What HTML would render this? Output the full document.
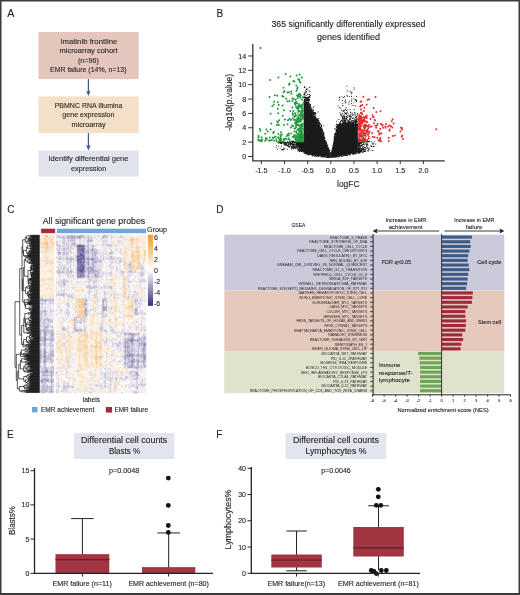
<!DOCTYPE html><html><head><meta charset="utf-8"><style>html,body{margin:0;padding:0;background:#fff;}svg{display:block;will-change:transform;} text{stroke:#231f20;stroke-width:0.12px;}</style></head><body><svg width="520" height="595" viewBox="0 0 520 595" font-family="&quot;Liberation Sans&quot;, sans-serif" fill="#231f20">
<rect width="520" height="595" fill="#fff"/>
<text x="7.20" y="16.70" font-size="10.7">A</text>
<rect x="38.5" y="32" width="100.2" height="47" fill="#e4c6bd"/>
<rect x="38.5" y="96.5" width="100.2" height="36.5" fill="#f4dfc7"/>
<rect x="38.5" y="150.5" width="100.2" height="26" fill="#e2e4ed"/>
<text x="89.00" y="44.23" font-size="7.3" text-anchor="middle" textLength="56.60" lengthAdjust="spacingAndGlyphs" fill="#2b2b2b" style="stroke:#2b2b2b">imatinib frontline</text>
<text x="88.60" y="53.43" font-size="7.3" text-anchor="middle" textLength="58.20" lengthAdjust="spacingAndGlyphs" fill="#2b2b2b" style="stroke:#2b2b2b">microarray cohort</text>
<text x="88.40" y="62.63" font-size="7.3" text-anchor="middle" textLength="20.80" lengthAdjust="spacingAndGlyphs" fill="#2b2b2b" style="stroke:#2b2b2b">(n=96)</text>
<text x="88.25" y="71.93" font-size="7.3" text-anchor="middle" textLength="76.50" lengthAdjust="spacingAndGlyphs" fill="#2b2b2b" style="stroke:#2b2b2b">EMR failure (14%, n=13)</text>
<text x="88.50" y="108.33" font-size="7.3" text-anchor="middle" textLength="67.60" lengthAdjust="spacingAndGlyphs" fill="#2b2b2b" style="stroke:#2b2b2b">PBMNC RNA Illumina</text>
<text x="88.40" y="117.33" font-size="7.3" text-anchor="middle" textLength="52.20" lengthAdjust="spacingAndGlyphs" fill="#2b2b2b" style="stroke:#2b2b2b">gene expression</text>
<text x="88.60" y="126.83" font-size="7.3" text-anchor="middle" textLength="34.20" lengthAdjust="spacingAndGlyphs" fill="#2b2b2b" style="stroke:#2b2b2b">microarray</text>
<text x="88.50" y="161.43" font-size="7.3" text-anchor="middle" textLength="80.00" lengthAdjust="spacingAndGlyphs" fill="#2b2b2b" style="stroke:#2b2b2b">Identify differential gene</text>
<text x="88.60" y="170.63" font-size="7.3" text-anchor="middle" textLength="35.20" lengthAdjust="spacingAndGlyphs" fill="#2b2b2b" style="stroke:#2b2b2b">expression</text>
<line x1="88.4" y1="79" x2="88.4" y2="93.1" stroke="#3d5a87" stroke-width="1.2"/>
<path d="M86.0,90.5 L88.4,91.89999999999999 L90.80000000000001,90.5 L88.4,96.1 Z" fill="#3d5a87"/>
<line x1="88.4" y1="133" x2="88.4" y2="147.4" stroke="#3d5a87" stroke-width="1.2"/>
<path d="M86.0,144.8 L88.4,146.20000000000002 L90.80000000000001,144.8 L88.4,150.4 Z" fill="#3d5a87"/>
<text x="216.50" y="16.50" font-size="10">B</text>
<text x="348.50" y="27.17" font-size="8.8" text-anchor="middle" textLength="154.00" lengthAdjust="spacingAndGlyphs">365 significantly differentially expressed</text>
<text x="348.50" y="39.67" font-size="8.8" text-anchor="middle" textLength="63.00" lengthAdjust="spacingAndGlyphs">genes identified</text>
<path d="M331.3,156.5 L328.0,148.0 L325.5,141.0 L319.0,125.0 L313.0,115.0 L308.0,106.5 L306.0,104.0 L303.6,103.0 L303.6,141.5 L295.0,141.8 L303.6,152.5 L312.0,155.0 L321.0,156.2 L331.3,156.8 Z" fill="#1a1a1a"/>
<path d="M330.8,156.0 L332.5,149.0 L333.7,143.0 L336.5,132.0 L340.0,127.0 L345.0,126.0 L352.0,126.0 L357.9,126.5 L357.9,141.5 L357.9,152.3 L350.0,154.0 L340.0,155.8 L330.8,156.8 Z" fill="#1a1a1a"/>
<path d="M308.9 105.0h0M305.5 103.4h0M303.6 94.8h0M307.5 104.0h0M305.7 100.6h0M308.2 97.9h0M305.4 102.7h0M304.0 102.9h0M307.5 99.3h0M307.9 102.5h0M303.7 102.3h0M305.3 98.9h0M310.6 109.8h0M311.0 107.6h0M309.0 100.9h0M308.1 106.3h0M306.6 103.9h0M306.9 104.4h0M310.5 105.4h0M308.6 103.6h0M309.3 108.1h0M305.6 100.7h0M311.7 109.7h0M306.1 100.1h0M304.7 102.8h0M311.2 109.2h0M305.2 97.5h0M305.1 99.7h0M308.4 104.4h0M305.6 104.1h0M307.5 99.4h0M309.9 109.5h0M303.9 102.9h0M309.1 106.3h0M310.9 110.0h0M309.3 107.7h0M310.0 106.1h0M311.4 112.5h0M310.4 109.6h0M310.4 110.6h0M310.3 107.0h0M305.5 103.0h0M305.1 102.3h0M308.4 105.1h0M311.6 111.4h0M307.9 103.0h0M309.8 108.7h0M311.0 109.9h0M304.2 101.5h0M311.6 111.4h0M309.3 100.7h0M311.8 109.1h0M305.3 102.5h0M311.3 109.7h0M308.7 106.0h0M309.1 108.1h0M307.5 104.7h0M305.1 103.4h0M310.0 106.2h0M304.6 97.0h0M311.0 110.5h0M304.0 102.5h0M305.7 102.1h0M308.4 107.0h0M305.0 100.5h0M306.2 95.5h0M310.4 105.8h0M305.2 97.9h0M310.3 104.7h0M304.0 96.9h0M304.5 99.5h0M306.2 89.3h0M304.7 101.8h0M305.3 99.2h0M308.7 107.5h0M308.9 106.0h0M310.9 108.1h0M303.8 101.9h0M308.3 105.7h0M305.7 100.4h0M304.4 100.1h0M309.2 103.4h0M306.7 100.4h0M305.7 102.4h0M304.3 100.5h0M306.1 104.2h0M304.7 102.7h0M304.3 101.5h0M306.2 100.0h0M305.2 101.8h0M306.8 102.6h0M309.7 96.4h0M309.3 100.4h0M308.0 99.2h0M305.8 98.2h0M311.1 111.2h0M310.3 105.5h0M312.0 110.2h0M310.1 110.0h0M305.1 101.7h0M309.7 106.8h0M307.1 105.6h0M308.2 105.6h0M309.7 107.9h0M311.3 109.8h0M310.0 105.5h0M310.5 95.2h0M304.4 93.5h0M305.1 96.8h0M309.9 108.6h0M305.4 97.7h0M307.6 105.6h0M306.2 97.4h0M304.1 97.6h0M306.9 103.2h0M303.9 98.0h0M305.1 100.0h0M305.1 97.8h0M308.0 105.6h0M308.9 103.4h0M310.2 106.8h0M304.7 103.3h0M311.5 111.2h0M305.3 101.1h0M311.3 111.7h0M308.6 106.7h0M307.5 102.4h0M310.6 104.2h0M310.7 110.2h0M306.1 104.1h0M305.0 101.8h0M306.4 98.7h0M307.9 106.3h0M308.4 100.4h0M310.3 106.5h0M311.6 109.2h0M309.4 104.5h0M309.2 107.3h0M310.1 109.1h0M303.7 97.1h0M307.0 103.3h0M309.7 108.2h0M308.3 99.2h0M307.4 103.1h0M304.2 101.8h0M305.2 97.0h0M307.4 99.0h0M308.2 99.0h0M308.8 102.2h0M309.0 104.9h0M306.9 101.2h0M307.5 99.9h0M306.4 100.7h0M310.7 108.0h0M309.6 108.9h0M310.8 109.7h0M309.2 106.6h0M307.1 104.7h0M306.1 103.2h0M306.6 101.1h0M308.5 103.9h0M306.8 103.8h0M307.7 94.4h0M310.9 110.4h0M305.3 102.4h0M310.6 109.8h0M307.4 98.0h0M305.3 101.9h0M310.1 109.7h0M310.5 107.7h0M309.3 107.0h0M306.8 102.1h0M307.6 100.4h0M305.3 97.4h0M306.2 102.6h0M307.2 97.2h0M305.2 103.1h0M310.1 104.8h0M309.1 107.4h0M309.9 107.8h0M317.3 118.7h0M317.3 121.6h0M313.7 115.4h0M323.5 135.7h0M314.0 114.3h0M317.5 121.4h0M321.5 130.9h0M316.9 119.9h0M313.9 113.3h0M320.0 127.6h0M319.2 123.5h0M323.4 134.7h0M315.8 119.8h0M323.0 134.0h0M318.8 122.2h0M316.0 117.7h0M320.7 128.2h0M322.2 131.1h0M312.9 114.2h0M315.6 119.4h0M315.3 117.3h0M322.2 132.0h0M321.4 128.7h0M321.6 125.7h0M315.2 116.6h0M320.4 128.3h0M313.4 114.6h0M318.6 123.1h0M315.3 118.1h0M315.8 115.3h0M322.3 132.4h0M319.6 122.7h0M320.7 123.8h0M312.3 109.5h0M314.5 112.5h0M317.6 121.5h0M315.5 118.4h0M314.6 116.3h0M312.8 111.2h0M320.9 124.6h0M318.9 123.4h0M313.5 110.7h0M321.7 131.1h0M322.4 131.0h0M318.3 123.3h0M312.9 113.8h0M317.6 122.4h0M315.8 119.1h0M313.8 116.1h0M323.4 134.6h0M315.9 118.2h0M319.1 124.3h0M314.4 116.3h0M314.0 114.8h0M313.6 115.1h0M316.8 120.5h0M318.5 120.9h0M313.3 113.1h0M313.2 114.3h0M322.2 130.4h0M316.0 119.2h0M323.1 134.3h0M317.8 122.5h0M317.3 121.6h0M323.8 125.8h0M321.7 130.5h0M312.2 109.6h0M317.5 121.3h0M314.0 116.2h0M312.6 111.9h0M317.6 121.5h0M315.4 118.5h0M321.1 129.6h0M321.1 129.4h0M323.0 134.7h0M315.0 117.7h0M319.2 121.2h0M320.5 127.6h0M323.7 133.5h0M322.9 133.9h0M316.0 113.5h0M323.0 132.5h0M318.8 123.7h0M320.8 128.2h0M313.9 106.3h0M321.4 126.4h0M315.2 117.8h0M323.3 133.6h0M316.9 118.8h0M317.7 121.3h0M317.2 121.1h0M321.0 129.0h0M321.6 130.1h0M315.3 117.3h0M316.5 120.2h0M314.2 117.0h0M321.1 129.4h0M312.4 112.7h0M315.0 118.2h0M319.1 125.1h0M313.0 107.7h0M315.0 118.5h0M315.4 118.6h0M323.4 135.6h0M319.2 124.6h0M315.9 119.3h0M318.6 123.9h0M316.0 119.2h0M323.1 132.1h0M320.5 128.3h0M323.5 134.9h0M313.1 114.0h0M314.6 117.2h0M319.6 126.0h0M322.8 132.9h0M313.0 114.5h0M318.6 120.6h0M315.1 118.0h0M321.8 128.3h0M312.2 111.1h0M313.5 112.7h0M321.4 130.4h0M312.4 113.4h0M314.9 113.4h0M315.7 117.3h0M317.3 121.5h0M318.0 119.4h0M315.8 119.2h0M318.0 122.8h0M323.9 133.7h0M318.1 123.0h0M323.4 133.3h0M313.8 115.2h0M319.5 122.7h0M314.5 112.5h0M320.4 127.6h0M323.7 132.4h0M317.1 119.7h0M315.0 118.1h0M316.6 120.5h0M319.9 126.5h0M323.5 134.6h0M322.3 132.1h0M315.4 114.8h0M319.2 121.2h0M321.7 129.6h0M316.2 120.0h0M319.5 125.2h0M323.5 134.9h0M321.7 131.2h0M314.4 114.3h0M319.5 123.9h0M318.2 122.3h0M313.5 112.4h0M313.7 115.7h0M313.6 114.5h0M317.1 119.4h0M320.0 125.8h0M317.6 119.5h0M320.6 128.6h0M316.7 120.0h0M320.1 126.3h0M323.9 136.6h0M323.5 135.6h0M314.6 117.2h0M319.1 124.0h0M321.7 127.8h0M313.7 114.9h0M317.1 119.0h0M318.1 122.8h0M321.2 128.0h0M323.9 135.0h0M317.0 120.3h0M319.7 123.7h0M322.5 132.0h0M315.4 116.7h0M320.3 128.0h0M323.4 136.1h0M319.3 125.4h0M312.6 113.2h0M316.4 119.0h0M321.9 129.9h0M318.8 124.5h0M323.5 136.2h0M319.8 126.2h0M315.5 112.6h0M313.4 110.0h0M313.8 113.3h0M318.6 122.5h0M312.7 111.5h0M317.5 120.6h0M322.5 132.4h0M321.4 125.4h0M320.6 128.0h0M315.9 119.1h0M323.2 134.8h0M316.3 119.2h0M318.1 120.7h0M315.5 118.7h0M322.6 129.6h0M317.3 120.1h0M319.0 118.5h0M316.9 120.9h0M320.5 127.5h0M317.8 120.8h0M313.5 110.6h0M322.2 132.3h0M313.0 113.9h0M323.6 135.2h0M313.5 114.3h0M313.5 114.9h0M316.9 120.3h0M321.6 131.1h0M317.9 119.2h0M318.1 111.9h0M318.7 124.4h0M313.0 112.9h0M320.5 128.8h0M322.7 130.2h0M312.0 112.9h0M329.3 151.6h0M330.4 153.4h0M330.0 152.6h0M324.7 137.4h0M326.7 144.5h0M326.0 142.1h0M324.9 138.6h0M324.1 135.1h0M328.7 149.3h0M324.6 138.3h0M327.5 145.7h0M328.3 148.6h0M330.3 153.6h0M324.4 137.6h0M326.9 144.6h0M330.6 153.7h0M324.5 137.7h0M324.1 136.9h0M327.2 145.6h0M330.9 154.2h0M329.0 149.7h0M326.6 143.4h0M325.7 141.4h0M326.1 142.0h0M326.4 143.5h0M326.5 143.0h0M328.6 148.4h0M330.8 153.3h0M328.4 148.4h0M329.0 149.9h0M328.8 149.4h0M329.5 151.7h0M326.3 142.4h0M328.6 148.6h0M327.1 145.6h0M327.2 145.3h0M324.6 137.9h0M330.5 152.9h0M329.4 151.5h0M326.7 144.1h0M327.7 145.4h0M328.7 149.2h0M326.4 142.5h0M327.9 147.8h0M325.5 140.6h0M328.6 148.4h0M324.7 137.7h0M330.2 153.6h0M327.5 146.2h0M325.9 141.9h0M326.5 143.1h0M328.1 147.3h0M329.8 150.4h0M326.0 141.6h0M328.3 147.7h0M329.2 150.5h0M326.6 142.7h0M326.1 142.3h0M328.9 149.9h0M325.6 141.4h0M306.6 89.0h0M306.2 97.9h0M304.8 87.4h0M306.6 89.8h0M308.7 99.1h0M309.6 99.4h0M307.7 89.0h0M308.9 97.6h0M308.4 97.2h0M308.9 90.8h0M307.9 94.3h0M305.8 91.2h0M304.6 93.9h0M306.0 92.7h0M309.1 96.9h0M308.0 101.7h0M305.0 94.1h0M304.2 92.3h0M309.7 87.4h0M308.4 99.8h0M306.9 98.8h0M306.4 91.7h0M306.8 89.1h0M305.6 90.9h0M309.9 91.4h0M305.1 101.0h0M304.5 101.5h0M309.1 96.4h0M306.3 89.2h0M304.3 87.7h0M305.8 92.5h0M309.5 94.6h0M309.9 97.5h0M304.5 94.9h0M304.6 86.6h0M302.2 143.6h0M290.3 145.9h0M291.0 144.4h0M298.6 146.3h0M284.8 142.2h0M297.3 147.9h0M286.8 143.5h0M286.2 144.9h0M280.9 142.5h0M295.6 147.6h0M281.6 142.2h0M303.4 141.9h0M301.7 145.3h0M287.7 145.8h0M287.4 141.5h0M280.7 143.1h0M295.3 144.8h0M294.7 145.1h0M290.5 144.8h0M281.0 141.6h0M283.7 142.9h0M286.9 145.3h0M279.5 142.7h0M292.1 143.3h0M292.3 147.5h0M299.3 141.7h0M300.8 148.5h0M300.1 150.4h0M290.3 144.5h0M299.5 143.1h0M288.4 146.6h0M302.2 149.7h0M295.7 144.6h0M285.8 142.8h0M279.1 142.7h0M300.0 147.2h0M297.7 143.0h0M284.3 142.7h0M280.5 142.4h0M286.1 142.9h0M288.3 144.1h0M291.6 146.3h0M297.5 149.0h0M295.5 142.8h0M296.2 143.7h0M282.0 141.6h0M295.2 147.9h0M299.6 143.5h0M285.6 142.2h0M292.3 146.1h0M292.1 143.2h0M296.4 147.8h0M293.2 144.7h0M291.7 143.2h0M285.5 144.7h0M289.8 144.2h0M284.0 144.8h0M286.2 143.1h0M302.0 146.1h0M288.2 145.0h0M298.2 147.9h0M279.4 142.3h0M296.3 145.4h0M299.7 144.2h0M284.6 143.0h0M295.0 148.3h0M299.6 142.4h0M293.4 145.1h0M298.2 146.2h0M291.0 144.1h0M283.0 142.3h0M281.8 142.8h0M286.7 143.2h0M291.3 147.9h0M300.0 146.1h0M289.2 146.9h0M280.7 142.8h0M293.5 148.5h0M289.1 142.0h0M300.9 145.7h0M301.2 144.0h0M279.8 141.6h0M302.6 145.2h0M284.0 143.2h0M295.9 148.7h0M298.6 149.7h0M301.9 145.4h0M301.2 145.2h0M295.4 146.2h0M287.4 141.7h0M284.4 145.0h0M279.2 142.6h0M299.5 147.5h0M292.7 143.7h0M288.5 143.1h0M300.8 148.9h0M291.1 143.8h0M302.7 148.1h0M302.2 150.6h0M298.8 151.0h0M285.8 142.4h0M281.1 143.1h0M298.1 150.4h0M285.1 144.7h0M301.0 145.1h0M298.2 150.0h0M294.7 145.8h0M293.9 142.3h0M303.4 141.9h0M302.2 142.9h0M299.2 148.6h0M299.3 142.0h0M299.2 150.5h0M300.5 145.8h0M287.2 142.6h0M287.2 145.2h0M289.5 143.1h0M290.6 144.1h0M285.6 144.3h0M291.3 146.5h0M299.1 150.5h0M281.2 143.2h0M301.6 148.1h0M288.6 144.5h0M301.3 149.5h0M301.7 150.0h0M286.3 145.1h0M279.9 142.3h0M299.9 149.9h0M285.0 143.6h0M300.6 149.4h0M294.6 147.7h0M301.1 151.3h0M282.1 143.5h0M286.5 143.7h0M297.2 143.9h0M300.4 145.3h0M290.0 144.5h0M284.7 142.9h0M280.6 142.9h0M300.8 151.0h0M286.0 145.7h0M293.7 147.5h0M279.5 141.8h0M279.6 142.4h0M296.3 144.8h0M282.0 142.1h0M296.9 146.2h0M296.1 144.4h0M281.3 143.3h0M294.6 141.9h0M301.2 151.5h0M293.6 147.7h0M294.4 142.7h0M293.9 142.1h0M282.3 142.2h0M297.8 141.6h0M303.5 147.5h0M284.2 142.9h0M298.4 149.5h0M303.4 145.7h0M284.8 142.7h0M300.0 149.6h0M295.4 142.1h0M297.1 144.3h0M300.2 145.9h0M281.1 143.2h0M291.3 146.3h0M293.9 146.9h0M281.9 142.6h0M281.8 143.1h0M297.3 145.0h0M284.1 143.5h0M302.0 151.6h0M303.4 150.0h0M299.3 144.4h0M281.6 141.6h0M299.8 142.0h0M297.3 142.7h0M291.9 143.8h0M294.6 142.0h0M297.3 146.8h0M293.2 146.9h0M287.1 143.7h0M295.3 141.7h0M281.2 143.4h0M296.6 145.4h0M281.5 143.6h0M291.5 144.0h0M290.9 143.2h0M296.1 146.5h0M288.2 146.4h0M296.7 144.5h0M299.7 151.5h0M301.0 150.4h0M292.4 142.4h0M303.3 143.2h0M285.0 144.4h0M297.5 144.8h0M281.4 143.0h0M298.1 142.8h0M296.7 147.5h0M292.9 148.6h0M288.9 145.8h0M284.8 148.9h0M297.6 142.9h0M294.5 143.8h0M280.4 143.2h0M289.8 143.9h0M281.8 142.3h0M283.8 148.1h0M276.5 145.6h0M290.5 141.9h0M283.1 149.2h0M299.9 148.7h0M280.1 148.0h0M286.8 143.0h0M287.5 149.3h0M297.1 144.8h0M277.5 149.2h0M299.7 145.8h0M281.4 146.1h0M292.7 145.6h0M284.5 143.6h0M283.1 141.9h0M282.1 149.6h0M276.2 147.7h0M294.9 144.9h0M290.3 143.4h0M292.0 147.5h0M293.6 145.7h0M299.3 148.9h0M289.7 147.3h0M282.6 149.5h0M291.5 149.1h0M282.9 149.9h0M278.5 146.0h0M278.7 143.1h0M294.3 142.1h0M285.2 143.1h0M296.4 142.2h0M284.1 148.8h0M292.5 147.5h0M299.8 141.7h0M292.0 147.8h0M294.0 147.6h0M277.7 142.2h0M294.5 146.7h0M282.3 141.6h0M288.8 142.3h0M294.0 144.4h0M295.4 142.3h0M287.9 142.3h0M294.7 146.3h0M281.6 149.7h0M292.4 144.4h0M296.5 144.7h0M298.6 144.0h0M299.6 142.0h0M293.6 144.0h0M307.4 154.0h0M291.9 141.4h0M294.3 142.3h0M299.1 147.0h0M303.5 152.0h0M328.3 156.7h0M316.7 156.1h0M323.7 156.0h0M293.2 141.8h0M297.0 143.5h0M327.7 156.9h0M307.0 153.0h0M321.2 156.4h0M297.1 145.4h0M329.0 157.5h0M323.9 156.5h0M302.3 151.3h0M296.2 143.6h0M292.7 141.0h0M319.3 155.8h0M318.6 156.5h0M324.2 156.7h0M324.7 156.8h0M328.0 157.4h0M291.8 141.5h0M305.9 152.9h0M297.3 145.4h0M291.0 141.3h0M321.2 155.8h0M300.6 149.7h0M321.3 156.2h0M295.6 142.2h0M330.2 157.4h0M292.9 142.3h0M305.4 153.5h0M302.1 150.1h0M290.8 141.5h0M325.3 157.3h0M318.0 156.3h0M298.0 145.3h0M326.9 157.5h0M308.2 154.5h0M328.3 157.6h0M302.1 151.0h0M306.0 153.2h0M308.9 153.8h0M290.8 142.4h0M318.5 156.6h0M296.3 143.0h0M314.4 156.2h0M309.3 153.8h0M314.4 156.2h0M325.6 157.3h0M306.8 153.1h0M325.7 157.1h0M324.9 156.3h0M301.7 149.8h0M325.7 157.3h0M305.1 153.7h0M305.6 153.1h0M313.2 154.8h0M301.0 148.9h0M300.7 149.0h0M294.1 142.4h0M297.2 144.5h0M316.3 155.0h0M306.8 153.7h0M312.6 155.9h0M322.2 155.7h0M324.2 156.6h0M317.8 155.3h0M309.4 154.7h0M322.7 156.9h0M298.9 147.4h0M313.3 155.6h0M324.9 156.4h0M327.7 157.4h0M323.1 156.2h0M311.7 154.4h0M321.1 157.0h0M296.6 144.3h0M318.5 155.1h0M327.6 156.6h0M301.0 148.6h0M322.1 156.1h0M311.1 154.3h0M314.9 155.3h0M323.1 156.7h0M319.6 155.7h0M292.6 142.6h0M328.4 157.0h0M327.8 157.1h0M314.8 155.3h0M304.6 152.9h0M299.1 146.9h0M310.8 153.9h0M306.1 153.0h0M316.0 156.2h0M315.2 155.8h0M315.2 155.1h0M305.4 153.8h0M328.8 156.2h0M290.4 142.7h0M325.2 156.7h0M323.5 156.6h0M327.1 156.2h0M308.2 154.3h0M298.8 147.1h0M300.8 149.4h0M323.0 156.3h0M330.6 157.1h0M321.0 155.4h0M294.6 142.3h0M328.7 157.0h0M327.4 155.9h0M326.6 157.3h0M315.8 155.5h0M318.9 155.6h0M317.4 156.2h0M312.1 154.7h0M290.1 141.4h0M324.2 156.0h0M293.0 141.4h0M311.3 155.0h0M326.0 157.2h0M329.7 157.5h0M308.5 153.4h0M329.2 156.3h0M315.5 155.1h0M323.5 155.9h0M307.3 153.2h0M325.3 156.8h0M315.9 155.3h0M297.2 145.3h0M321.3 156.7h0M330.9 157.0h0M297.3 145.0h0M301.8 150.4h0M308.8 154.3h0M327.8 157.3h0M307.0 154.2h0M325.3 157.0h0M312.6 155.9h0M310.2 153.8h0M301.2 149.8h0M305.5 153.0h0M306.5 152.9h0M293.8 141.1h0M317.6 155.5h0M308.7 154.9h0M332.8 146.6h0M333.9 142.3h0M333.8 142.5h0M331.4 153.8h0M332.1 150.5h0M331.5 152.0h0M331.6 152.6h0M332.3 149.3h0M330.9 155.5h0M333.3 144.5h0M332.9 147.1h0M334.0 142.1h0M332.4 149.1h0M331.5 152.9h0M332.2 149.3h0M330.9 155.7h0M330.9 155.4h0M333.1 145.5h0M332.5 148.2h0M331.1 155.1h0M331.8 151.8h0M333.5 143.2h0M332.1 150.3h0M333.9 141.5h0M333.6 142.8h0M331.4 152.7h0M333.6 143.2h0M331.2 153.8h0M331.2 154.3h0M331.8 150.9h0M331.2 154.3h0M333.1 145.0h0M332.6 148.2h0M331.5 152.9h0M332.5 148.7h0M333.5 143.9h0M331.7 152.3h0M332.2 148.5h0M333.9 142.0h0M332.6 148.5h0M334.6 136.7h0M334.4 139.7h0M340.6 125.2h0M340.4 126.7h0M336.9 129.4h0M335.5 134.3h0M339.8 123.8h0M334.4 140.6h0M334.5 134.4h0M335.4 136.2h0M334.1 137.3h0M335.6 135.1h0M338.4 127.6h0M337.2 129.0h0M339.9 124.4h0M337.4 124.9h0M339.1 127.9h0M340.1 127.1h0M340.6 124.1h0M339.3 125.3h0M340.0 126.0h0M334.5 138.1h0M339.7 126.8h0M338.4 127.2h0M339.7 123.3h0M339.5 127.3h0M338.1 126.2h0M337.6 129.8h0M335.9 132.5h0M334.7 134.4h0M339.0 127.6h0M336.4 124.1h0M338.6 125.9h0M337.1 130.4h0M337.7 129.7h0M338.4 127.1h0M335.8 133.9h0M337.1 129.9h0M339.0 125.9h0M338.1 129.5h0M340.6 121.4h0M334.7 136.8h0M336.1 131.3h0M335.4 134.4h0M337.0 130.8h0M336.2 130.1h0M337.9 129.1h0M338.3 128.8h0M338.4 125.1h0M337.9 127.4h0M335.9 133.6h0M334.4 139.6h0M338.9 119.4h0M340.0 123.4h0M340.4 125.8h0M334.5 138.9h0M340.3 126.2h0M334.4 140.7h0M338.8 127.5h0M339.4 127.8h0M338.7 125.3h0M336.8 131.2h0M334.4 139.8h0M339.8 123.7h0M340.9 121.9h0M338.7 126.0h0M338.2 126.4h0M335.7 134.7h0M339.4 125.6h0M339.7 127.7h0M338.6 126.8h0M339.8 126.7h0M337.6 129.6h0M337.8 130.5h0M338.7 128.5h0M337.7 129.9h0M340.9 126.8h0M337.3 130.1h0M336.6 129.3h0M334.5 137.4h0M339.7 127.6h0M340.3 126.8h0M334.9 136.8h0M340.2 126.7h0M338.6 128.2h0M340.4 126.5h0M336.3 131.9h0M334.8 138.6h0M338.9 127.9h0M334.1 140.4h0M337.1 127.2h0M339.7 126.0h0M340.5 125.8h0M336.8 126.6h0M338.2 128.1h0M338.2 129.3h0M336.6 121.2h0M335.2 136.3h0M334.8 135.1h0M336.7 126.7h0M337.3 128.7h0M335.9 132.9h0M334.6 137.0h0M339.5 127.4h0M339.5 123.6h0M339.0 128.0h0M339.4 126.8h0M340.9 125.0h0M339.9 125.3h0M335.9 128.7h0M338.2 128.7h0M336.8 130.3h0M336.4 132.1h0M338.8 124.0h0M340.4 123.5h0M337.4 126.4h0M334.8 128.9h0M337.4 127.8h0M337.9 129.8h0M336.5 127.6h0M339.3 125.9h0M337.4 128.8h0M340.4 126.2h0M335.3 134.9h0M334.4 140.2h0M336.7 130.6h0M337.0 124.4h0M337.8 129.4h0M338.2 129.1h0M340.2 126.1h0M338.4 127.6h0M336.4 131.2h0M340.9 125.0h0M340.4 126.4h0M340.4 126.0h0M338.0 129.6h0M334.3 140.2h0M334.1 141.3h0M337.1 131.4h0M336.6 130.7h0M338.3 127.9h0M335.7 134.9h0M335.4 133.8h0M336.3 132.2h0M335.4 133.1h0M335.9 133.4h0M336.2 132.4h0M339.3 126.2h0M335.4 134.9h0M336.9 131.1h0M334.4 138.9h0M335.9 134.5h0M336.6 131.2h0M340.8 121.6h0M336.6 130.9h0M339.6 125.8h0M340.0 122.3h0M335.9 133.3h0M340.4 127.0h0M339.8 125.2h0M339.4 127.7h0M334.3 138.9h0M335.2 135.1h0M334.3 138.4h0M338.3 124.7h0M335.5 134.6h0M334.1 140.4h0M335.2 136.9h0M340.7 125.7h0M339.3 124.7h0M334.0 139.3h0M335.3 135.2h0M339.3 127.4h0M338.4 128.3h0M334.5 139.9h0M337.0 130.0h0M335.2 133.2h0M340.2 126.5h0M340.0 127.0h0M338.1 128.8h0M339.8 127.5h0M334.2 140.8h0M336.1 131.0h0M337.3 125.4h0M336.4 130.5h0M335.4 135.3h0M334.0 137.1h0M336.7 130.5h0M336.1 126.1h0M336.1 130.8h0M334.9 135.8h0M340.6 126.1h0M340.8 125.7h0M334.7 138.0h0M340.2 126.3h0M334.6 138.1h0M337.4 129.5h0M335.2 135.4h0M339.9 127.1h0M336.3 129.3h0M343.3 116.0h0M350.6 112.4h0M343.9 125.5h0M344.5 125.4h0M351.6 125.9h0M354.4 118.9h0M353.8 124.3h0M350.7 125.7h0M344.9 121.4h0M352.0 120.6h0M355.7 124.6h0M344.1 126.1h0M356.3 116.8h0M351.6 117.0h0M347.1 123.9h0M356.3 124.5h0M355.1 120.5h0M349.5 123.7h0M357.4 115.1h0M341.7 125.2h0M356.0 120.3h0M349.7 125.1h0M349.9 122.5h0M344.1 114.6h0M350.1 115.2h0M357.0 126.5h0M352.3 122.4h0M343.1 111.4h0M342.1 125.3h0M350.1 117.9h0M341.0 126.1h0M356.8 124.8h0M345.2 120.8h0M349.2 123.5h0M352.7 118.0h0M354.0 122.5h0M356.4 121.1h0M343.8 126.5h0M356.9 126.0h0M341.3 126.6h0M347.1 124.3h0M343.3 118.7h0M343.9 123.6h0M356.1 124.8h0M342.0 124.8h0M355.1 124.7h0M345.2 121.3h0M343.3 122.5h0M346.0 124.5h0M351.2 123.4h0M350.0 122.5h0M350.0 123.1h0M357.7 125.3h0M351.5 123.7h0M355.6 124.9h0M356.4 122.1h0M347.9 121.7h0M344.3 120.0h0M352.1 124.4h0M343.3 115.9h0M356.4 125.3h0M344.6 120.5h0M355.6 125.4h0M353.7 124.9h0M343.7 122.7h0M352.5 123.1h0M341.2 115.8h0M346.5 125.7h0M347.8 120.5h0M345.2 113.0h0M346.6 123.9h0M353.3 125.7h0M348.1 124.3h0M347.0 123.5h0M355.0 125.4h0M357.0 125.5h0M354.3 121.8h0M342.3 116.7h0M355.9 124.2h0M357.5 124.6h0M352.6 124.0h0M343.1 125.4h0M356.8 125.2h0M348.5 123.9h0M342.5 125.9h0M342.1 124.1h0M350.2 116.5h0M355.6 124.8h0M354.0 114.2h0M343.9 125.6h0M357.4 126.0h0M346.5 117.9h0M350.5 119.3h0M354.7 124.7h0M357.6 124.5h0M343.3 110.8h0M350.6 121.9h0M357.6 124.1h0M355.9 123.2h0M344.0 122.7h0M357.3 123.8h0M351.8 124.1h0M351.4 121.4h0M347.1 126.0h0M346.1 124.9h0M346.6 125.3h0M350.8 123.3h0M356.2 124.5h0M357.2 125.0h0M349.9 124.7h0M348.4 124.4h0M345.8 125.1h0M345.9 122.7h0M348.0 123.2h0M352.0 125.2h0M342.8 118.8h0M347.7 112.1h0M357.5 113.6h0M349.5 125.1h0M350.2 118.6h0M345.9 123.9h0M348.3 124.2h0M351.0 125.3h0M357.1 125.9h0M346.7 123.0h0M342.5 125.1h0M343.2 125.7h0M346.3 120.0h0M346.7 124.5h0M341.7 115.2h0M342.0 126.7h0M348.0 124.9h0M342.5 124.0h0M348.7 122.7h0M356.7 121.1h0M352.8 124.9h0M348.0 123.2h0M344.4 116.7h0M348.1 120.7h0M343.7 124.2h0M345.5 124.7h0M351.2 125.2h0M357.1 125.6h0M351.3 123.1h0M349.5 119.3h0M356.9 119.9h0M355.9 123.5h0M357.1 125.7h0M352.7 118.0h0M357.6 125.6h0M344.3 123.4h0M342.4 126.2h0M347.8 124.7h0M355.8 123.0h0M347.0 124.7h0M347.0 125.2h0M349.0 125.7h0M350.3 124.8h0M345.3 123.4h0M344.1 126.0h0M348.3 114.1h0M349.5 121.7h0M349.1 120.2h0M345.2 123.9h0M354.3 124.5h0M347.1 124.5h0M345.1 122.5h0M347.6 124.6h0M344.6 122.7h0M357.3 124.7h0M350.1 122.8h0M351.9 125.9h0M343.0 122.6h0M352.1 124.9h0M344.1 123.7h0M344.4 118.8h0M354.9 125.1h0M350.9 125.6h0M341.5 120.3h0M350.1 125.6h0M342.6 125.7h0M345.7 122.6h0M345.4 124.5h0M352.4 125.6h0M342.5 120.6h0M348.9 125.6h0M351.5 120.7h0M349.7 118.6h0M349.1 116.0h0M342.1 120.4h0M341.9 126.0h0M350.8 124.5h0M352.2 125.9h0M345.3 122.1h0M346.8 123.7h0M348.2 124.5h0M343.8 126.0h0M357.6 123.8h0M351.4 125.3h0M355.9 125.0h0M352.1 118.8h0M349.5 124.7h0M344.5 121.8h0M342.4 124.5h0M342.4 126.5h0M345.7 123.3h0M345.6 113.4h0M351.9 122.7h0M342.7 121.8h0M342.5 123.5h0M353.9 125.4h0M353.3 125.4h0M350.7 114.9h0M344.2 125.6h0M343.6 124.4h0M349.6 123.3h0M343.7 123.4h0M343.6 123.8h0M347.2 125.0h0M345.0 120.9h0M346.6 124.3h0M346.5 122.8h0M353.2 123.0h0M353.4 122.4h0M344.9 125.5h0M347.1 125.3h0M354.0 125.7h0M355.1 123.3h0M357.5 126.1h0M350.3 125.1h0M346.5 125.6h0M350.4 125.9h0M351.1 125.1h0M348.9 124.5h0M348.8 120.9h0M351.5 124.0h0M341.2 121.0h0M345.3 118.9h0M356.2 123.5h0M343.7 123.7h0M348.7 122.5h0M352.2 125.8h0M356.3 121.8h0M357.6 125.1h0M348.6 124.8h0M348.6 126.0h0M344.8 117.8h0M346.0 125.2h0M351.2 123.6h0M350.9 116.2h0M348.2 124.9h0M347.3 124.0h0M341.2 124.0h0M348.0 121.3h0M345.3 126.0h0M341.5 126.6h0M348.7 124.2h0M343.7 120.6h0M346.0 123.9h0M357.1 125.6h0M350.1 123.4h0M341.8 125.2h0M341.9 123.9h0M347.8 125.4h0M352.9 122.1h0M357.9 124.3h0M343.5 124.8h0M343.0 119.3h0M351.3 124.4h0M345.4 123.3h0M346.4 123.8h0M355.4 121.5h0M342.1 125.3h0M345.8 125.6h0M346.1 118.2h0M353.2 120.5h0M346.6 123.1h0M344.4 125.0h0M345.0 125.4h0M345.3 124.7h0M344.4 119.1h0M350.4 124.9h0M355.7 119.9h0M348.4 124.8h0M355.2 122.7h0M348.0 121.0h0M349.2 121.3h0M341.5 126.1h0M351.0 125.9h0M352.7 120.5h0M348.4 122.5h0M347.1 123.6h0M357.0 125.8h0M344.5 125.4h0M355.2 122.5h0M341.3 124.9h0M342.8 105.4h0M353.4 126.0h0M355.8 125.9h0M345.1 122.4h0M347.1 119.6h0M349.0 122.1h0M357.0 121.5h0M357.4 119.0h0M347.4 123.3h0M344.6 124.2h0M355.3 120.9h0M356.0 121.2h0M350.0 125.3h0M344.9 123.6h0M343.8 116.8h0M343.1 125.4h0M352.5 124.8h0M354.7 124.9h0M343.2 123.4h0M352.8 125.9h0M344.8 124.2h0M343.9 123.9h0M343.8 124.3h0M343.4 118.9h0M351.9 123.3h0M346.7 116.5h0M355.2 119.8h0M343.3 118.4h0M347.8 124.3h0M356.4 124.5h0M349.7 119.7h0M355.2 123.5h0M342.9 125.1h0M353.5 121.9h0M345.0 122.3h0M342.3 124.9h0M355.4 121.9h0M350.5 125.4h0M350.7 125.3h0M347.2 124.9h0M354.2 126.6h0M356.2 125.9h0M346.4 122.5h0M356.5 117.2h0M345.3 121.1h0M346.5 123.8h0M347.9 115.9h0M348.3 123.4h0M343.6 121.9h0M351.9 113.8h0M355.3 125.2h0M343.1 124.4h0M354.2 125.6h0M354.4 120.8h0M347.5 126.1h0M345.8 121.6h0M341.6 110.1h0M350.5 123.4h0M343.2 125.4h0M350.3 124.2h0M348.5 123.7h0M356.7 123.9h0M349.1 124.3h0M341.5 125.8h0M343.1 123.8h0M356.0 122.6h0M352.7 124.4h0M346.2 125.1h0M351.9 124.1h0M356.7 120.6h0M356.8 116.4h0M344.8 120.8h0M350.2 123.8h0M355.8 124.1h0M346.2 124.6h0M346.2 124.0h0M345.5 120.2h0M348.5 121.5h0M344.2 123.4h0M342.2 123.9h0M344.3 120.7h0M344.2 124.6h0M355.3 125.0h0M350.5 126.4h0M346.5 124.1h0M357.0 125.3h0M342.2 125.3h0M357.6 121.7h0M351.6 124.8h0M353.0 123.9h0M343.4 124.8h0M342.4 118.9h0M350.1 125.6h0M351.9 125.7h0M343.8 125.8h0M346.7 123.0h0M346.3 125.5h0M355.9 123.5h0M347.9 122.8h0M355.2 124.5h0M346.3 125.0h0M348.7 124.0h0M347.7 123.8h0M341.2 126.4h0M347.4 117.6h0M352.6 124.6h0M352.8 124.3h0M355.3 115.9h0M342.1 116.6h0M357.4 125.7h0M355.4 124.4h0M356.0 123.8h0M347.7 124.4h0M347.8 122.3h0M353.5 123.8h0M356.5 119.7h0M341.3 126.8h0M346.6 118.8h0M353.6 122.9h0M356.2 118.6h0M349.1 123.5h0M349.2 122.6h0M346.3 112.9h0M347.1 124.4h0M356.0 126.2h0M357.6 124.9h0M342.5 125.4h0M353.6 118.0h0M343.0 125.9h0M345.0 123.7h0M355.2 122.1h0M354.3 125.5h0M351.6 123.8h0M354.7 125.1h0M353.5 121.5h0M342.0 126.1h0M345.6 123.6h0M343.9 123.7h0M344.5 124.8h0M355.7 124.2h0M345.5 122.6h0M350.6 125.0h0M355.5 125.7h0M341.6 125.1h0M345.3 125.7h0M343.8 123.4h0M357.0 124.0h0M347.3 124.4h0M344.1 117.2h0M345.8 122.5h0M345.5 122.4h0M343.8 124.1h0M354.7 124.3h0M345.0 123.4h0M355.3 114.2h0M339.3 107.6h0M345.4 109.3h0M344.4 117.0h0M342.1 114.0h0M343.1 110.3h0M346.1 107.6h0M347.9 109.8h0M339.3 97.3h0M356.4 101.6h0M344.8 101.3h0M350.3 117.6h0M345.7 103.1h0M344.6 96.6h0M339.7 97.1h0M344.2 117.7h0M340.7 108.1h0M341.9 96.8h0M353.9 98.8h0M340.6 114.0h0M342.6 100.4h0M355.9 100.3h0M353.8 102.7h0M348.7 102.8h0M344.4 116.5h0M355.2 99.8h0M351.8 99.1h0M343.7 97.6h0M350.3 112.0h0M352.2 113.0h0M345.5 99.9h0M338.1 105.7h0M355.7 105.9h0M349.7 116.2h0M354.4 112.3h0M349.3 101.1h0M352.2 105.2h0M351.4 100.9h0M355.9 99.6h0M353.0 115.6h0M340.9 115.0h0M350.2 109.3h0M342.8 103.2h0M342.5 105.7h0M350.3 112.0h0M351.4 103.6h0M344.4 112.8h0M356.5 100.9h0M345.8 102.1h0M356.5 96.4h0M355.0 112.9h0M344.3 111.0h0M345.0 110.0h0M346.1 116.1h0M346.7 113.9h0M348.9 104.2h0M356.4 100.3h0M355.3 117.6h0M354.1 109.4h0M349.8 116.4h0M346.2 114.1h0M352.7 114.9h0M346.4 110.4h0M339.8 97.6h0M340.0 112.2h0M344.7 116.0h0M339.5 99.8h0M353.9 105.2h0M342.2 113.2h0M342.5 117.4h0M347.0 95.4h0M349.3 96.3h0M347.3 96.2h0M347.3 90.9h0M351.0 92.1h0M351.4 93.7h0M346.9 86.1h0M352.0 92.6h0M350.2 91.5h0M354.2 89.3h0M354.0 87.8h0M351.6 96.4h0M358.6 150.0h0M361.5 140.7h0M362.6 148.7h0M364.6 151.5h0M357.9 143.2h0M359.0 144.6h0M360.0 140.0h0M360.5 143.2h0M366.5 144.8h0M359.1 145.6h0M363.9 142.1h0M360.3 151.6h0M366.0 144.0h0M358.3 151.5h0M363.5 148.6h0M359.6 142.9h0M358.4 148.6h0M360.7 148.4h0M359.5 144.4h0M367.6 150.8h0M361.4 142.1h0M359.4 148.6h0M374.6 141.7h0M362.2 142.1h0M363.3 141.8h0M358.1 150.1h0M359.6 145.1h0M359.0 151.7h0M365.6 141.1h0M361.0 149.9h0M359.3 148.6h0M362.2 152.2h0M362.2 147.2h0M360.8 141.9h0M361.0 148.1h0M363.8 151.2h0M363.7 144.2h0M360.4 146.9h0M363.1 149.4h0M363.5 142.1h0M369.9 150.0h0M362.1 144.9h0M360.0 151.8h0M358.5 145.3h0M358.3 139.6h0M358.2 150.6h0M360.1 146.0h0M359.3 143.2h0M366.9 146.0h0M358.5 148.1h0M363.2 152.3h0M359.6 143.8h0M368.2 151.1h0M358.9 149.3h0M359.3 145.0h0M364.1 147.8h0M358.7 146.2h0M364.8 147.6h0M361.3 149.3h0M359.8 140.3h0M358.2 148.0h0M363.0 150.3h0M367.9 141.9h0M359.3 145.3h0M361.0 151.6h0M358.5 143.7h0M359.1 144.1h0M363.8 141.4h0M362.6 146.0h0M373.0 146.5h0M363.8 149.1h0M358.5 149.8h0M359.4 148.9h0M360.4 140.9h0M363.0 150.2h0M371.5 146.4h0M364.9 149.8h0M359.4 141.5h0M358.5 146.8h0M374.0 146.5h0M360.7 150.2h0M358.3 144.2h0M362.3 149.4h0M358.0 148.1h0M358.7 146.4h0M365.2 149.9h0M365.6 151.6h0M368.6 141.5h0M360.3 151.0h0M358.5 149.2h0M358.6 142.4h0M360.3 143.6h0M366.9 143.2h0M370.7 145.9h0M373.0 150.2h0M361.0 150.9h0M361.3 148.3h0M362.8 150.8h0M361.7 141.7h0M373.7 146.1h0M362.3 141.1h0M365.1 150.4h0M359.4 148.7h0M366.6 146.5h0M358.6 150.8h0M372.9 142.9h0M366.6 141.9h0M357.9 143.7h0M358.7 150.1h0M367.8 144.9h0M359.9 152.1h0M358.4 148.5h0M375.8 144.1h0M369.6 141.4h0M359.6 144.2h0M368.0 141.9h0M364.2 144.5h0M358.2 147.8h0M364.9 142.2h0M360.7 145.2h0M358.2 151.6h0M360.6 141.0h0M360.0 143.1h0M358.3 144.1h0M360.3 142.6h0M360.2 141.9h0M358.0 142.0h0M363.2 142.2h0M363.1 150.9h0M361.6 145.9h0M361.3 150.0h0M364.2 149.8h0M366.9 148.8h0M361.0 149.4h0M369.8 141.6h0M367.4 141.1h0M359.2 147.6h0M371.5 141.7h0M363.2 144.4h0M358.6 144.1h0M364.7 141.3h0M363.0 140.7h0M361.8 144.1h0M358.2 152.2h0M361.7 151.4h0M360.1 150.7h0M366.0 143.8h0M365.4 141.4h0M357.9 152.3h0M368.6 149.2h0M364.4 141.4h0M363.8 142.3h0M358.2 139.8h0M363.8 143.3h0M360.2 152.4h0M368.1 148.3h0M359.5 149.7h0M363.6 146.6h0M358.4 142.4h0M359.6 143.4h0M366.7 145.7h0M363.8 142.2h0M364.2 151.2h0M359.8 142.7h0M361.0 150.9h0M365.8 148.8h0M358.7 144.7h0M358.4 148.2h0M358.2 150.5h0M358.3 139.9h0M364.3 141.0h0M365.7 140.7h0M368.6 149.7h0M363.7 140.3h0M358.3 140.4h0M360.2 146.7h0M364.5 147.3h0M361.7 142.8h0M372.0 150.2h0M361.5 150.0h0M373.9 143.9h0M358.8 149.7h0M359.3 140.5h0M359.3 140.6h0M367.2 144.0h0M361.4 143.1h0M361.5 150.5h0M362.9 149.5h0M358.6 140.8h0M360.5 151.2h0M361.1 149.0h0M358.7 140.3h0M359.9 148.4h0M359.6 150.9h0M358.7 148.0h0M365.5 149.1h0M358.9 149.5h0M367.6 147.5h0M360.2 151.8h0M358.8 142.7h0M365.5 147.2h0M364.2 149.8h0M362.0 141.5h0M359.3 150.5h0M360.0 140.7h0M361.5 149.0h0M359.4 140.5h0M364.7 151.3h0M358.5 151.1h0M372.5 144.0h0M363.2 142.3h0M359.7 144.5h0M360.7 151.1h0M359.6 146.3h0M362.9 148.4h0M363.0 150.2h0M369.3 148.0h0M360.8 149.6h0M356.3 152.4h0M341.5 155.2h0M357.7 153.2h0M343.8 155.0h0M334.8 157.3h0M350.5 154.8h0M349.3 154.2h0M352.7 154.2h0M355.5 152.6h0M345.7 155.7h0M345.7 155.4h0M346.2 155.4h0M333.0 155.8h0M333.6 156.5h0M341.7 156.4h0M359.9 151.7h0M355.2 153.0h0M355.4 152.7h0M353.4 152.5h0M344.6 154.8h0M338.3 155.7h0M343.2 155.3h0M346.2 155.2h0M355.0 153.9h0M350.4 153.6h0M347.8 154.4h0M337.8 155.8h0M337.6 156.2h0M332.9 156.7h0M342.9 154.5h0M339.0 156.9h0M347.8 153.7h0M347.8 154.9h0M334.9 156.3h0M337.2 156.3h0M354.8 152.6h0M335.0 155.8h0M348.8 153.5h0M346.3 155.3h0M353.2 153.7h0M331.3 156.7h0M338.1 156.1h0M335.4 155.7h0M358.6 153.1h0M333.8 157.2h0M332.9 156.4h0M359.8 153.2h0M344.6 155.4h0M342.1 156.2h0M340.2 155.3h0M335.2 156.7h0M347.2 155.3h0M335.3 157.0h0M358.4 152.8h0M334.3 155.9h0M333.5 156.3h0M353.0 152.8h0M344.0 154.4h0M350.7 153.2h0M354.0 153.4h0M336.5 156.6h0M341.1 155.7h0M347.1 154.2h0M343.1 155.9h0M356.1 153.4h0M347.5 155.2h0M335.1 157.3h0M332.3 157.5h0M354.0 153.1h0M353.9 154.1h0M335.8 156.6h0M331.1 157.2h0M332.8 157.0h0M331.8 156.6h0M356.1 152.4h0M359.1 152.3h0M336.3 157.1h0M335.5 156.6h0M358.3 153.2h0M347.1 154.1h0M345.5 154.5h0M340.1 155.6h0M336.9 155.4h0M352.8 152.6h0M347.6 154.3h0M349.9 154.3h0M344.9 155.5h0M347.6 155.3h0M348.0 155.1h0M356.1 153.2h0M340.5 155.8h0M333.3 157.0h0M349.7 154.7h0M333.4 155.9h0M349.7 154.6h0M333.1 155.8h0M340.4 155.5h0M332.5 156.0h0M336.9 155.4h0M335.3 155.6h0M341.7 156.0h0M350.2 154.2h0M344.6 154.5h0M332.4 156.2h0M358.5 153.0h0M347.5 154.7h0M352.6 154.1h0M338.0 156.7h0M349.8 153.7h0M339.3 155.4h0M346.9 155.5h0M353.9 152.7h0M334.5 156.1h0M335.8 155.7h0M352.2 153.3h0M347.4 154.2h0M359.6 152.6h0M335.0 156.9h0M339.4 155.9h0M339.3 156.0h0" stroke="#1a1a1a" stroke-width="1.1" stroke-linecap="round" fill="none"/>
<path d="M300.2 137.8h0M272.3 106.3h0M302.5 135.6h0M301.7 124.3h0M300.0 115.5h0M300.9 120.6h0M302.7 141.4h0M301.4 136.1h0M300.2 97.7h0M278.4 77.5h0M301.8 132.5h0M287.5 101.2h0M299.2 120.7h0M292.8 136.8h0M302.5 104.4h0M298.7 136.4h0M295.2 115.5h0M273.7 104.6h0M301.1 112.3h0M295.7 125.6h0M296.5 141.4h0M261.7 141.2h0M296.6 108.3h0M299.1 129.0h0M302.1 107.9h0M273.9 131.8h0M296.1 141.1h0M295.5 128.3h0M277.3 95.7h0M297.4 138.6h0M302.2 105.0h0M301.5 119.3h0M299.3 104.2h0M275.1 136.8h0M297.0 95.6h0M300.3 141.4h0M293.1 126.2h0M284.4 91.0h0M299.9 94.0h0M298.6 114.7h0M298.6 105.8h0M297.6 87.5h0M299.6 135.8h0M297.2 89.0h0M295.6 99.8h0M288.5 133.5h0M280.2 139.3h0M302.3 111.9h0M299.5 137.7h0M288.6 135.5h0M300.5 126.7h0M300.5 82.4h0M294.3 131.4h0M301.1 107.1h0M260.8 140.6h0M302.9 141.1h0M301.4 110.4h0M298.6 108.2h0M299.2 95.9h0M278.2 134.0h0M287.5 124.3h0M300.6 116.3h0M296.8 136.2h0M303.0 138.6h0M276.9 125.1h0M274.9 95.2h0M302.6 109.8h0M300.7 141.1h0M302.9 110.8h0M279.1 141.3h0M297.0 121.2h0M274.1 140.8h0M274.2 101.8h0M260.8 140.9h0M270.3 140.4h0M302.2 139.9h0M303.2 136.9h0M298.8 125.1h0M301.4 113.4h0M280.0 141.0h0M298.3 79.3h0M278.1 137.5h0M302.7 116.2h0M260.1 140.8h0M279.1 120.3h0M299.8 121.3h0M283.5 87.7h0M300.5 132.0h0M299.2 125.3h0M281.5 141.4h0M297.4 140.4h0M292.6 118.6h0M302.1 111.2h0M300.8 116.7h0M289.8 141.3h0M294.4 81.4h0M303.2 138.7h0M294.3 117.1h0M302.0 114.3h0M298.7 106.5h0M300.7 121.3h0M300.6 113.6h0M286.5 139.3h0M302.2 136.9h0M301.6 137.6h0M301.5 114.7h0M291.4 93.7h0M302.0 125.6h0M288.6 138.4h0M301.6 139.6h0M285.2 138.4h0M302.8 136.6h0M280.7 136.4h0M298.0 136.2h0M297.8 96.2h0M296.0 135.5h0M303.3 117.2h0M292.8 113.2h0M298.6 128.4h0M296.3 131.3h0M296.4 85.6h0M297.4 140.2h0M299.6 129.4h0M301.6 124.3h0M280.9 139.5h0M258.3 139.9h0M299.6 130.0h0M302.2 141.4h0M299.9 82.2h0M300.1 121.7h0M280.4 138.2h0M261.5 137.3h0M269.5 97.0h0M303.3 114.4h0M281.4 134.5h0M298.6 137.4h0M297.3 118.3h0M283.7 92.2h0M299.3 111.2h0M301.7 125.4h0M300.1 138.3h0M301.6 124.3h0M280.6 140.5h0M298.0 119.4h0M300.8 135.7h0M281.9 134.6h0M302.3 116.8h0M270.7 129.5h0M286.9 136.0h0M298.5 137.1h0M294.1 135.0h0M295.4 139.2h0M298.8 136.6h0M266.1 139.6h0M297.8 107.0h0M282.6 105.5h0M293.0 114.9h0M296.4 91.0h0M288.0 120.3h0M299.9 97.0h0M278.8 125.0h0M298.2 109.8h0M298.2 125.3h0M289.0 92.3h0M303.1 114.8h0M291.2 91.4h0M281.0 138.8h0M265.2 140.7h0M276.2 139.5h0M302.8 139.1h0M302.6 97.2h0M302.1 135.7h0M295.9 114.3h0M289.5 119.1h0M294.8 123.1h0M301.9 108.2h0M290.3 111.1h0M299.6 140.3h0M301.4 133.1h0M266.3 129.5h0M298.4 133.7h0M295.0 113.2h0M302.5 126.2h0M258.2 139.4h0M270.0 80.1h0M300.7 125.2h0M303.3 136.0h0M281.5 139.6h0M282.8 115.7h0M302.1 131.1h0M293.3 80.9h0M290.9 120.1h0M300.2 127.0h0M298.8 107.9h0M301.5 132.7h0M299.9 140.5h0M269.7 137.6h0M289.5 84.3h0M298.2 118.6h0M296.6 75.4h0M286.2 98.8h0M259.8 129.0h0M300.3 139.5h0M297.9 134.4h0M297.3 103.4h0M281.0 132.3h0M295.5 119.7h0M300.3 138.2h0M299.1 129.7h0M301.8 77.6h0M262.2 139.5h0M290.3 76.4h0M301.7 106.1h0M280.3 135.7h0M298.2 141.4h0M295.9 136.3h0M281.1 141.2h0M294.6 102.9h0M299.5 106.4h0M299.2 79.8h0M276.8 141.2h0M298.6 124.7h0M291.0 127.5h0M282.2 96.0h0M301.9 106.3h0M301.9 105.1h0M296.0 106.4h0M270.6 113.8h0M288.8 135.0h0M300.0 138.6h0M266.9 139.1h0M296.4 133.0h0M294.5 137.3h0M269.1 140.6h0M284.0 140.8h0M300.8 139.9h0M301.7 111.5h0M284.0 138.9h0M296.0 123.4h0M300.3 134.8h0M279.1 120.6h0M288.8 139.1h0M292.0 125.4h0M278.0 122.5h0M285.6 74.1h0M302.1 99.7h0M294.0 120.1h0M297.0 122.5h0M298.3 122.1h0M293.3 136.4h0M298.7 137.7h0M292.3 98.4h0M296.1 121.4h0M299.0 119.6h0M298.1 112.1h0M297.7 129.8h0M289.4 83.4h0M300.7 95.3h0M261.3 140.2h0M289.1 139.6h0M296.5 138.6h0M277.8 108.7h0M278.7 104.9h0M296.9 120.2h0M291.1 133.6h0M287.4 92.5h0M273.4 133.1h0M302.5 134.1h0M281.2 139.0h0M299.6 74.5h0M284.9 119.6h0M259.3 140.3h0M302.2 110.7h0M284.0 139.4h0M300.9 137.4h0M299.1 137.1h0M277.1 121.5h0M273.3 132.5h0M295.9 103.2h0M303.2 138.7h0M296.6 123.1h0M258.6 137.3h0M294.4 128.4h0M302.8 114.8h0M265.9 138.2h0M301.8 128.1h0M298.5 94.3h0M277.8 102.3h0M301.4 138.4h0M295.1 104.5h0M278.2 113.2h0M289.1 84.7h0M289.5 100.9h0M303.3 129.3h0M299.1 132.1h0M279.2 138.7h0M272.7 137.8h0M284.0 110.3h0M258.4 135.9h0M297.1 125.0h0M273.6 137.8h0M302.4 118.8h0M267.7 131.4h0M301.2 134.3h0M271.9 139.9h0M299.7 120.6h0M300.7 121.4h0M271.2 123.4h0M300.6 127.9h0M296.2 127.0h0M300.0 134.3h0M299.7 118.3h0M287.5 135.0h0M284.0 124.9h0M300.9 130.0h0M303.2 116.6h0M295.9 116.1h0M260.4 130.7h0M298.2 117.0h0M295.7 138.2h0M292.5 101.0h0M296.1 102.0h0M302.7 124.0h0M293.7 99.0h0M292.3 107.6h0M293.8 137.0h0M302.6 118.8h0M297.6 98.2h0M299.3 80.6h0M283.5 96.7h0M299.3 110.9h0M298.3 139.7h0M265.3 133.8h0M299.7 118.8h0M301.9 136.2h0M302.1 134.3h0M275.7 136.7h0M293.3 110.9h0M300.1 105.5h0M297.8 119.7h0M260.4 48.1h0" stroke="#1f9a3c" stroke-width="2.0" stroke-linecap="round" fill="none"/>
<path d="M365.7 125.6h0M385.3 126.6h0M362.3 114.2h0M360.5 123.3h0M365.5 121.2h0M368.8 133.6h0M400.5 131.5h0M378.5 140.2h0M358.6 120.1h0M361.0 109.6h0M365.1 138.3h0M362.3 105.0h0M359.0 137.9h0M380.8 123.9h0M367.7 99.8h0M380.6 111.3h0M365.8 116.2h0M401.9 128.1h0M365.5 125.6h0M381.4 133.6h0M360.5 136.0h0M380.3 137.9h0M367.0 131.0h0M359.4 139.5h0M363.8 126.9h0M364.2 139.7h0M363.1 138.9h0M365.7 133.9h0M388.7 140.9h0M362.5 123.5h0M379.7 133.6h0M391.8 121.3h0M374.6 119.8h0M361.8 139.7h0M367.1 130.2h0M359.6 128.4h0M358.8 117.6h0M358.6 134.2h0M359.7 116.3h0M361.1 130.1h0M360.9 116.2h0M382.5 125.1h0M366.8 132.4h0M359.5 133.1h0M378.0 131.0h0M361.4 132.3h0M361.6 132.9h0M360.2 121.7h0M364.9 133.3h0M361.3 136.9h0M359.3 120.4h0M359.3 139.8h0M361.7 131.6h0M361.4 135.3h0M359.9 140.7h0M361.5 139.5h0M385.7 127.8h0M374.6 137.2h0M379.9 140.9h0M362.5 135.6h0M359.1 135.9h0M358.3 119.5h0M394.8 135.4h0M360.3 124.4h0M363.6 141.3h0M360.4 116.4h0M360.9 105.8h0M361.5 117.2h0M368.1 128.8h0M361.7 113.5h0M360.5 129.7h0M358.4 123.3h0M359.3 127.8h0M382.6 125.5h0M388.7 138.0h0M377.0 125.6h0M358.9 121.0h0M373.0 117.2h0M358.5 123.6h0M359.5 119.8h0M358.8 129.0h0M402.3 135.6h0M366.0 130.4h0M359.2 130.4h0M361.3 101.4h0M359.6 125.4h0M366.6 104.7h0M364.1 130.5h0M359.5 116.4h0M364.1 128.3h0M363.4 96.8h0M366.2 121.6h0M367.6 131.7h0M383.1 127.7h0M359.8 139.0h0M365.7 136.0h0M359.1 122.3h0M367.4 139.7h0M365.5 140.1h0M362.2 130.2h0M389.6 125.5h0M358.5 130.2h0M364.6 118.1h0M364.2 118.8h0M389.7 129.6h0M370.5 119.1h0M388.1 126.6h0M358.4 130.5h0M375.0 120.4h0M361.3 134.0h0M372.2 133.1h0M365.6 140.9h0M361.9 121.3h0M378.6 131.8h0M365.0 130.8h0M373.7 108.0h0M361.4 125.9h0M359.8 115.7h0M358.8 126.8h0M359.9 116.8h0M360.0 133.4h0M358.7 117.7h0M375.5 125.8h0M362.2 121.8h0M360.2 106.5h0M364.7 135.1h0M365.5 126.9h0M364.0 119.5h0M360.8 133.7h0M366.0 124.4h0M364.2 139.6h0M360.5 128.0h0M359.0 128.9h0M364.4 107.7h0M366.6 115.5h0M367.4 130.8h0M386.0 124.0h0M363.3 120.3h0M359.1 119.1h0M361.0 134.8h0M369.6 131.8h0M362.5 130.9h0M364.3 125.0h0M368.6 136.4h0M361.0 118.9h0M361.6 132.1h0M364.3 120.0h0M359.3 136.6h0M401.0 127.7h0M360.1 140.4h0M370.6 126.8h0M359.7 126.3h0M359.0 115.1h0M369.1 124.9h0M401.7 136.8h0M361.6 117.6h0M362.1 121.2h0M364.6 121.5h0M366.4 117.7h0M360.1 122.5h0M360.8 124.0h0M367.4 122.3h0M359.1 139.6h0M363.8 116.9h0M360.6 122.2h0M366.7 132.9h0M371.5 126.4h0M380.1 129.0h0M403.0 139.0h0M363.1 121.8h0M362.0 140.2h0M360.8 124.9h0M381.9 124.6h0M358.6 124.7h0M373.6 117.1h0M363.2 131.1h0M358.8 120.2h0M389.5 130.8h0M367.4 126.0h0M362.7 131.3h0M367.9 134.8h0M362.4 139.9h0M359.4 116.8h0M364.1 141.0h0M376.4 112.1h0M364.5 133.3h0M360.5 129.1h0M360.2 116.3h0M372.5 115.3h0M364.0 125.7h0M390.9 126.3h0M393.7 123.5h0M358.6 118.2h0M374.0 123.3h0M358.7 119.5h0M360.5 101.7h0M359.3 118.8h0M358.9 135.1h0M367.7 131.2h0M363.8 133.4h0M360.6 119.2h0M363.4 138.4h0M366.8 118.0h0M359.8 130.2h0M359.5 127.5h0M359.7 120.7h0M368.9 138.6h0M363.3 119.9h0M360.8 133.3h0M359.9 117.8h0M377.5 123.7h0M361.3 134.1h0M366.6 117.3h0M361.4 123.3h0M375.5 97.1h0M381.1 141.3h0M358.7 128.4h0M360.7 124.0h0M392.7 135.9h0M360.6 120.5h0M361.4 119.2h0M365.6 127.3h0M364.6 128.5h0M359.8 130.6h0M380.0 139.3h0M365.9 125.5h0M402.0 129.6h0M363.9 111.0h0M368.6 126.9h0M392.6 119.3h0M369.1 99.2h0M379.2 134.4h0M360.7 113.0h0M363.7 141.0h0M362.9 136.2h0M363.3 137.8h0M376.2 127.7h0M361.6 112.5h0M364.7 117.8h0M361.1 141.4h0M392.3 127.6h0M363.0 135.5h0M359.0 118.4h0M377.3 137.8h0M372.9 136.9h0M358.9 119.2h0M361.0 123.5h0M363.0 132.7h0M360.8 118.0h0M362.0 117.7h0M436.3 129.2h0" stroke="#e0312f" stroke-width="2.0" stroke-linecap="round" fill="none"/>
<path d="M252.8,44 V160.8 H444.8" fill="none" stroke="#333" stroke-width="1.3"/>
<line x1="248.2" y1="156.50" x2="252.8" y2="156.50" stroke="#333" stroke-width="1"/>
<text x="246.20" y="159.10" font-size="7.2" text-anchor="end">0</text>
<line x1="248.2" y1="142.14" x2="252.8" y2="142.14" stroke="#333" stroke-width="1"/>
<text x="246.20" y="144.74" font-size="7.2" text-anchor="end">2</text>
<line x1="248.2" y1="127.78" x2="252.8" y2="127.78" stroke="#333" stroke-width="1"/>
<text x="246.20" y="130.38" font-size="7.2" text-anchor="end">4</text>
<line x1="248.2" y1="113.42" x2="252.8" y2="113.42" stroke="#333" stroke-width="1"/>
<text x="246.20" y="116.02" font-size="7.2" text-anchor="end">6</text>
<line x1="248.2" y1="99.06" x2="252.8" y2="99.06" stroke="#333" stroke-width="1"/>
<text x="246.20" y="101.66" font-size="7.2" text-anchor="end">8</text>
<line x1="248.2" y1="84.70" x2="252.8" y2="84.70" stroke="#333" stroke-width="1"/>
<text x="246.20" y="87.30" font-size="7.2" text-anchor="end">10</text>
<line x1="248.2" y1="70.34" x2="252.8" y2="70.34" stroke="#333" stroke-width="1"/>
<text x="246.20" y="72.94" font-size="7.2" text-anchor="end">12</text>
<line x1="248.2" y1="55.98" x2="252.8" y2="55.98" stroke="#333" stroke-width="1"/>
<text x="246.20" y="58.58" font-size="7.2" text-anchor="end">14</text>
<line x1="261.35" y1="160.8" x2="261.35" y2="164" stroke="#333" stroke-width="1"/>
<text x="261.35" y="173.00" font-size="7.2" text-anchor="middle">-1.5</text>
<line x1="284.50" y1="160.8" x2="284.50" y2="164" stroke="#333" stroke-width="1"/>
<text x="284.50" y="173.00" font-size="7.2" text-anchor="middle">-1.0</text>
<line x1="307.65" y1="160.8" x2="307.65" y2="164" stroke="#333" stroke-width="1"/>
<text x="307.65" y="173.00" font-size="7.2" text-anchor="middle">-0.5</text>
<line x1="330.80" y1="160.8" x2="330.80" y2="164" stroke="#333" stroke-width="1"/>
<text x="330.80" y="173.00" font-size="7.2" text-anchor="middle">0.0</text>
<line x1="353.95" y1="160.8" x2="353.95" y2="164" stroke="#333" stroke-width="1"/>
<text x="353.95" y="173.00" font-size="7.2" text-anchor="middle">0.5</text>
<line x1="377.10" y1="160.8" x2="377.10" y2="164" stroke="#333" stroke-width="1"/>
<text x="377.10" y="173.00" font-size="7.2" text-anchor="middle">1.0</text>
<line x1="400.25" y1="160.8" x2="400.25" y2="164" stroke="#333" stroke-width="1"/>
<text x="400.25" y="173.00" font-size="7.2" text-anchor="middle">1.5</text>
<line x1="423.40" y1="160.8" x2="423.40" y2="164" stroke="#333" stroke-width="1"/>
<text x="423.40" y="173.00" font-size="7.2" text-anchor="middle">2.0</text>
<text x="348.30" y="186.56" font-size="8.5" text-anchor="middle" textLength="22.60" lengthAdjust="spacingAndGlyphs">logFC</text>
<g transform="translate(229,102.3) rotate(-90)">
<text x="0.00" y="3.10" font-size="8.5" text-anchor="middle" textLength="56.70" lengthAdjust="spacingAndGlyphs">-log10(p.value)</text>
</g>
<text x="7.30" y="212.70" font-size="10">C</text>
<text x="93.95" y="223.77" font-size="8.8" text-anchor="middle" textLength="102.50" lengthAdjust="spacingAndGlyphs">All significant gene probes</text>
<rect x="41.1" y="228.7" width="14" height="4.5" fill="#a52a3c"/>
<rect x="56.9" y="228.7" width="89.2" height="4.5" fill="#6fa6d6"/>
<text x="157.10" y="231.59" font-size="7.2" text-anchor="middle" textLength="20.00" lengthAdjust="spacingAndGlyphs">Group</text>
<defs><filter id="hb" x="-5%" y="-2%" width="110%" height="104%"><feConvolveMatrix order="3" kernelMatrix="1 1 1 1 8 1 1 1 1" edgeMode="duplicate"/></filter></defs><g filter="url(#hb)">
<path stroke="#fdf5ea" stroke-width="1.08" shape-rendering="crispEdges" d="M40.54 235v1m0 1v1m0 10v1m0 3v1m0 1v1m0 1v3m0 12v2m0 14v1m0 1v1m0 2v1M41.62 245v2m0 1v2m0 3v2m0 3v2m0 4v1m0 2v1m0 1v1m0 3v2m0 4v1m0 3v1m0 1v1m0 2v1m0 3v1m0 42v1m0 23v1m0 3v1m0 10v1M42.69 238v2m0 13v2m0 12v1m0 1v1m0 1v2m0 2v2m0 16v2m0 25v1m0 7v1m0 4v1m0 12v1m0 17v1M43.77 237v1m0 3v1m0 7v1m0 4v1m0 8v1m0 5v1m0 13v1m0 7v2m0 2v3m0 8v1m0 2v1M44.85 252v1m0 1v1m0 2v1m0 4v1m0 7v1m0 2v1m0 1v1m0 1v1m0 8v2m0 1v1m0 2v1m0 1v1m0 2v1M45.92 259v1m0 7v1m0 3v1m0 3v1m0 9v3m0 5v1m0 3v1M47.00 255v2m0 10v3m0 3v2m0 1v1m0 4v1m0 3v3m0 2v1m0 3v1m0 19v1m0 27v1m0 11v1m0 2v1m0 7v1M48.08 236v1m0 1v1m0 2v1m0 1v1m0 6v1m0 6v1m0 5v1m0 9v1m0 3v1m0 4v2m0 2v1m0 1v2m0 1v2m0 1v1m0 1v1m0 45v1M49.15 249v1m0 4v1m0 4v1m0 13v1m0 2v1m0 3v1m0 10v2m0 67v1m0 2v1m0 1v1M50.23 245v1m0 6v2m0 3v1m0 23v1m0 4v1m0 5v1m0 35v1M51.31 246v1m0 9v3m0 4v1m0 5v1m0 2v3m0 1v2m0 5v1m0 1v3m0 4v1m0 1v1m0 12v2m0 6v1M52.38 248v2m0 3v1m0 3v2m0 7v1m0 8v1m0 6v3m0 1v2m0 2v3m0 1v1m0 10v3m0 6v2M53.46 252v1m0 1v2m0 10v1m0 20v2m0 5v1m0 23v1m0 1v2m0 20v1M56.44 254v1m0 1v1m0 6v1m0 10v1m0 5v1m0 19v1m0 6v2m0 2v1m0 5v2m0 3v2m0 6v1m0 1v1m0 3v2m0 1v1m0 6v1m0 2v1m0 3v1m0 6v1m0 1v1m0 2v1m0 9v1M57.52 265v1m0 2v1m0 6v1m0 2v3m0 1v1m0 1v3m0 3v1m0 6v2m0 2v1m0 10v1m0 1v1m0 5v1m0 2v1m0 2v2m0 6v2m0 3v1m0 13v1m0 1v1m0 10v1m0 1v1m0 3v1m0 2v1m0 2v1m0 5v1m0 6v1M58.60 238v1m0 50v3m0 6v1m0 4v1m0 4v1m0 6v1m0 9v3m0 11v1m0 9v1m0 4v1m0 1v1m0 10v1m0 1v2m0 5v1M59.68 255v1m0 30v1m0 35v1m0 4v1m0 2v1m0 3v2m0 7v1m0 14v1m0 7v1m0 5v1m0 1v1m0 1v2m0 1v1m0 1v1M60.76 260v1m0 1v1m0 13v1m0 15v1m0 22v1m0 6v1m0 1v1m0 5v1m0 4v2m0 2v1m0 16v1m0 3v1m0 1v1m0 2v2m0 5v2m0 1v1m0 2v2m0 1v1m0 1v1m0 4v1M61.84 239v1m0 2v1m0 17v1m0 40v1m0 2v2m0 1v1m0 10v2m0 9v2m0 5v2m0 9v1m0 12v2m0 4v1m0 7v1m0 17v1M62.92 239v1m0 7v1m0 30v1m0 4v1m0 8v1m0 7v1m0 2v1m0 7v1m0 2v1m0 1v1m0 16v1m0 2v1m0 4v1m0 2v2m0 16v1m0 5v1m0 7v1m0 5v3M64.00 276v1m0 1v1m0 19v1m0 5v2m0 4v2m0 2v2m0 16v1m0 13v2m0 13v1m0 1v1m0 7v1m0 1v2m0 1v1M65.08 236v2m0 1v1m0 11v1m0 3v1m0 7v3m0 8v1m0 2v1m0 12v1m0 2v1m0 2v1m0 3v1m0 1v1m0 3v1m0 13v2m0 2v1m0 7v1m0 1v1m0 5v1m0 24v1m0 1v1m0 2v1m0 2v1m0 2v1m0 3v1m0 2v2M66.16 263v1m0 14v1m0 3v1m0 14v2m0 8v1m0 13v1m0 5v1m0 3v1m0 6v1m0 25v2m0 1v1M67.23 241v1m0 37v1m0 41v1m0 2v1m0 8v1m0 2v1m0 1v1m0 5v1m0 2v1m0 3v1m0 2v1m0 3v1m0 1v1m0 2v1m0 16v1m0 10v1M68.31 255v1m0 23v2m0 10v2m0 6v1m0 23v1m0 5v1m0 46v1m0 2v3m0 6v1m0 1v1M69.39 246v1m0 2v1m0 2v2m0 3v1m0 2v2m0 2v1m0 4v1m0 7v1m0 6v1m0 14v1m0 1v1m0 5v1m0 15v1m0 2v3m0 5v1m0 3v1m0 5v1m0 17v1m0 11v3m0 6v3m0 3v1M70.47 242v1m0 33v1m0 5v1m0 6v1m0 1v1m0 7v1m0 3v1m0 2v2m0 2v1m0 3v1m0 10v2m0 7v1m0 6v1m0 4v1m0 3v1m0 8v1m0 2v1m0 7v1m0 4v2m0 2v3M71.55 263v1m0 1v1m0 12v1m0 6v1m0 6v1m0 9v1m0 5v1m0 12v3m0 1v1m0 2v1m0 5v1m0 4v1m0 6v1m0 3v1m0 11v2m0 1v1m0 7v3m0 1v1m0 2v2m0 8v3M72.63 254v1m0 6v3m0 1v1m0 14v1m0 1v2m0 3v1m0 5v1m0 2v1m0 4v2m0 2v1m0 3v1m0 3v1m0 1v1m0 2v1m0 7v1m0 8v2m0 14v1m0 5v1m0 5v1m0 4v1m0 2v3m0 1v1m0 4v2m0 1v3m0 2v1m0 2v1M73.71 250v1m0 27v1m0 1v1m0 2v1m0 8v1m0 15v1m0 12v1m0 2v1m0 9v2m0 5v2m0 2v1m0 2v1m0 4v1m0 1v1m0 1v1m0 33v1M74.79 250v2m0 4v2m0 2v1m0 6v1m0 1v1m0 3v2m0 11v1m0 2v1m0 9v1m0 2v2m0 1v3m0 3v2m0 2v2m0 15v2m0 5v1m0 8v1m0 2v1m0 2v2m0 1v2m0 4v1m0 5v1m0 2v2m0 1v1m0 3v3m0 1v3M75.87 240v1m0 9v1m0 2v1m0 20v1m0 2v1m0 1v1m0 6v1m0 2v1m0 1v1m0 23v1m0 27v6m0 4v1m0 14v3m0 2v1m0 2v2m0 4v4m0 5v1M76.95 241v1m0 8v1m0 24v2m0 3v1m0 3v1m0 2v2m0 4v1m0 16v1m0 2v1m0 18v2m0 1v4m0 2v2m0 1v1m0 5v4m0 1v1m0 4v1m0 3v1m0 2v2m0 1v1m0 5v2m0 2v4m0 2v1m0 1v2m0 2v1M78.03 241v1m0 36v1m0 13v2m0 13v1m0 16v1m0 7v1m0 4v1m0 16v1m0 1v1m0 2v1m0 2v4m0 1v1m0 7v2m0 2v1m0 7v1m0 2v1M79.11 279v1m0 7v1m0 3v1m0 5v1m0 75v1m0 4v1m0 1v1m0 6v1m0 1v1M80.19 284v1m0 3v1m0 37v1m0 5v1m0 10v1m0 2v1m0 7v1m0 1v1m0 3v1m0 2v1m0 9v1m0 3v1m0 1v2m0 2v2m0 1v1M81.27 240v1m0 37v2m0 3v1m0 3v2m0 1v1m0 33v1m0 1v1m0 5v1m0 5v3m0 13v1m0 2v7m0 2v1m0 4v1m0 1v1m0 3v1m0 1v1m0 4v1m0 6v2M82.35 244v1m0 35v1m0 5v1m0 5v2m0 39v1m0 5v1m0 12v1m0 5v1m0 7v1m0 3v1m0 1v1m0 5v1m0 8v3m0 2v1M83.43 292v1m0 3v1m0 27v2m0 25v1m0 9v3m0 4v1m0 1v2m0 1v2m0 3v2m0 1v3m0 1v2m0 1v1M84.51 241v2m0 36v2m0 8v3m0 41v1m0 33v1m0 7v1m0 6v1m0 2v1m0 6v1M85.59 244v1m0 33v1m0 1v1m0 4v1m0 33v1m0 4v2m0 2v1m0 1v1m0 23v1m0 16v2m0 5v2M86.67 242v1m0 45v1m0 1v1m0 5v1m0 24v1m0 20v1m0 11v1m0 21v1m0 2v1m0 3v1m0 7v1M87.75 297v1m0 3v1m0 3v1m0 8v1m0 12v1m0 15v1m0 40v3m0 5v1M88.83 280v1m0 20v2m0 1v1m0 1v2m0 4v1m0 2v2m0 2v1m0 7v1m0 5v1m0 3v1m0 8v1m0 1v1m0 2v1m0 2v1m0 1v1m0 1v1m0 6v1m0 2v1m0 1v2m0 3v1m0 8v1m0 1v1M89.90 236v1m0 14v1m0 46v1m0 1v2m0 2v1m0 7v1m0 6v2m0 13v1m0 6v1m0 10v1m0 2v1m0 7v2m0 1v1m0 3v1m0 1v1m0 3v1m0 1v1m0 1v1m0 1v1m0 2v2m0 3v2M90.98 282v1m0 11v1m0 1v1m0 5v1m0 3v2m0 16v2m0 2v1m0 11v1m0 1v1m0 5v1m0 4v1m0 1v1m0 11v1m0 22v1M92.06 278v1m0 5v1m0 4v1m0 2v1m0 3v1m0 3v1m0 4v1m0 2v1m0 2v1m0 13v1m0 1v2m0 12v2m0 13v1m0 12v3m0 3v1m0 1v1m0 2v1m0 6v1M93.14 235v1m0 6v1m0 1v1m0 47v1m0 4v1m0 36v1m0 1v2m0 3v1m0 12v1m0 5v1m0 1v1m0 1v1m0 3v1m0 3v1m0 12v2M94.22 241v2m0 4v1m0 52v1m0 2v3m0 3v3m0 5v1m0 1v2m0 4v1m0 1v1m0 5v1m0 1v1m0 3v1m0 3v3m0 2v1m0 2v1m0 1v2m0 1v1m0 3v1m0 2v4m0 4v1m0 6v1M95.30 244v1m0 37v3m0 5v4m0 23v1m0 1v1m0 1v1m0 2v2m0 2v2m0 37v1m0 4v1m0 3v2M96.38 240v1m0 24v1m0 38v1m0 9v2m0 52v1m0 2v1m0 2v1m0 8v1m0 3v2m0 2v1M97.46 236v1m0 1v1m0 1v3m0 20v1m0 15v1m0 3v1m0 1v1m0 2v1m0 3v2m0 2v1m0 10v1m0 11v1m0 9v1m0 3v1m0 1v1m0 4v1m0 8v1m0 1v1m0 16v2m0 3v3m0 3v1m0 3v1m0 5v1m0 1v1M98.54 243v1m0 39v1m0 6v1m0 9v1m0 5v2m0 2v2m0 2v1m0 1v1m0 2v2m0 3v1m0 1v1m0 2v1m0 1v2m0 2v2m0 2v1m0 4v1m0 4v1m0 2v2m0 9v2m0 2v1m0 1v1m0 3v1m0 1v1m0 2v2m0 3v1m0 6v1M99.62 236v1m0 5v2m0 4v1m0 5v1m0 1v1m0 6v2m0 2v1m0 9v1m0 6v1m0 10v2m0 13v4m0 3v1m0 4v2m0 14v2m0 11v1m0 2v1m0 6v2m0 2v3m0 4v1m0 1v3m0 1v1m0 1v1m0 7v1m0 2v1M100.70 241v1m0 1v1m0 3v1m0 33v1m0 3v1m0 2v1m0 2v2m0 2v1m0 6v1m0 4v1m0 1v3m0 55v1M101.78 235v2m0 7v1m0 1v1m0 2v1m0 40v1m0 13v1m0 10v2m0 4v1m0 17v1m0 20v2m0 6v1m0 5v3m0 5v1m0 6v3M102.86 239v1m0 10v1m0 1v1m0 3v2m0 6v1m0 5v2m0 3v1m0 2v3m0 1v1m0 3v1m0 3v1m0 3v2m0 37v2m0 7v1m0 4v1m0 3v2m0 11v2m0 24v1M103.94 247v1m0 22v1m0 5v1m0 6v1m0 5v2m0 34v3m0 5v4m0 8v1m0 1v1m0 12v2m0 4v1m0 3v2m0 4v1m0 8v1m0 2v2M105.02 239v1m0 6v1m0 4v1m0 2v1m0 1v1m0 10v1m0 6v1m0 1v2m0 24v1m0 14v2m0 2v1m0 1v2m0 7v1m0 3v1m0 7v1m0 2v1m0 1v1m0 3v2m0 2v3m0 4v1M106.10 260v1m0 20v1m0 1v1m0 1v1m0 9v2m0 21v1m0 30v2m0 12v1m0 9v1m0 10v1m0 3v1m0 2v1M107.18 240v2m0 7v3m0 1v2m0 4v2m0 3v3m0 4v1m0 2v4m0 13v1m0 1v2m0 4v1m0 1v4m0 3v1m0 2v1m0 2v1m0 5v1m0 8v1m0 2v1m0 5v1m0 1v3m0 3v2m0 5v1m0 2v1m0 4v3m0 2v2m0 1v1m0 1v1m0 7v1m0 1v1m0 3v1m0 4v1m0 1v1M108.26 247v1m0 2v1m0 8v1m0 22v1m0 1v1m0 1v1m0 3v1m0 3v2m0 16v1m0 1v1m0 10v1m0 5v1m0 4v1m0 5v1m0 8v1m0 2v1m0 2v1m0 1v3m0 8v1m0 11v1M109.34 236v2m0 3v1m0 27v1m0 12v1m0 6v1m0 3v2m0 1v1m0 2v1m0 2v1m0 2v1m0 9v1m0 2v1m0 1v1m0 2v1m0 24v1m0 2v1m0 1v3m0 5v1m0 1v1m0 12v1m0 4v2m0 2v1M110.42 239v1m0 40v1m0 8v1m0 5v1m0 4v1m0 3v1m0 2v1m0 7v2m0 27v1m0 1v2m0 2v3m0 5v1M111.50 278v1m0 17v2m0 7v1m0 6v1m0 2v1m0 1v2m0 2v2m0 1v1m0 21v2m0 1v2m0 17v1m0 1v2m0 2v3m0 9v1m0 1v1m0 3v1M112.57 239v3m0 1v1m0 27v1m0 3v1m0 1v1m0 3v1m0 5v1m0 3v1m0 3v2m0 1v1m0 2v1m0 1v1m0 2v1m0 1v1m0 1v1m0 4v2m0 1v1m0 4v1m0 2v2m0 6v2m0 1v1m0 14v1m0 4v1m0 4v1m0 1v1m0 2v1m0 2v1m0 10v1m0 1v2m0 4v1M113.65 239v2m0 8v1m0 34v1m0 2v2m0 1v1m0 4v1m0 4v1m0 5v1m0 1v3m0 1v1m0 5v1m0 22v1m0 27v1m0 6v1m0 4v2m0 2v1m0 6v1M114.73 238v1m0 3v1m0 10v1m0 1v1m0 7v2m0 1v3m0 1v2m0 3v1m0 11v1m0 27v2m0 3v1m0 2v1m0 4v1m0 2v1m0 1v1m0 1v1m0 2v1m0 2v1m0 5v1m0 1v3m0 5v1m0 2v1m0 11v1m0 1v2m0 3v2M115.81 238v1m0 2v1m0 1v1m0 1v1m0 1v2m0 8v1m0 7v1m0 4v1m0 1v1m0 8v1m0 4v1m0 7v2m0 1v1m0 3v1m0 12v1m0 7v1m0 6v1m0 16v1m0 5v2m0 1v1m0 4v1m0 1v1M116.89 278v4m0 3v1m0 6v2m0 16v1m0 1v1m0 2v1m0 21v1m0 3v1m0 10v1m0 1v2m0 2v1m0 6v3m0 17v1m0 4v1M117.97 247v1m0 2v1m0 1v3m0 1v2m0 2v2m0 5v2m0 6v1m0 5v2m0 2v1m0 1v1m0 2v1m0 1v1m0 6v1m0 1v1m0 2v1m0 1v1m0 1v1m0 3v1m0 5v2m0 1v1m0 3v3m0 9v1m0 15v3m0 17v1m0 5v1m0 11v2M119.05 246v1m0 2v1m0 3v1m0 13v1m0 6v1m0 3v1m0 13v2m0 3v1m0 1v3m0 1v1m0 2v1m0 2v1m0 9v2m0 5v1m0 7v3m0 15v1m0 2v1m0 13v1m0 3v1m0 9v2m0 3v1m0 1v1m0 1v1M120.13 242v2m0 1v4m0 27v1m0 2v1m0 1v3m0 3v1m0 1v1m0 3v1m0 2v2m0 7v1m0 4v1m0 8v3m0 5v1m0 2v1m0 21v2m0 27v2m0 2v1m0 4v2M121.21 251v1m0 5v1m0 7v1m0 2v2m0 13v1m0 6v1m0 2v1m0 4v2m0 2v1m0 6v1m0 2v2m0 5v1m0 2v1m0 1v1m0 3v1m0 2v1m0 8v1m0 9v1m0 8v1m0 9v1m0 9v1m0 9v1M122.29 240v1m0 6v1m0 3v2m0 4v1m0 1v1m0 4v2m0 10v3m0 2v1m0 1v1m0 1v1m0 3v1m0 2v4m0 11v1m0 7v1m0 1v1m0 2v1m0 10v1m0 3v2m0 1v1m0 5v1m0 10v1m0 1v1m0 1v1m0 4v1m0 1v4m0 1v1m0 1v1M123.37 235v1m0 6v1m0 26v1m0 34v2m0 1v1m0 8v1m0 4v1m0 13v1m0 19v1m0 11v2m0 1v1m0 18v2M124.45 235v1m0 1v2m0 1v1m0 2v1m0 2v1m0 2v1m0 5v3m0 12v1m0 2v4m0 24v1m0 9v2m0 7v1m0 1v2m0 7v1m0 36v1m0 8v1m0 3v1m0 7v3M125.53 245v1m0 2v1m0 23v4m0 24v1m0 1v2m0 7v1m0 8v2m0 9v1m0 37v1m0 4v1m0 6v1m0 2v1m0 7v1M126.61 235v1m0 4v1m0 2v1m0 1v3m0 1v1m0 2v2m0 2v1m0 2v1m0 1v1m0 7v1m0 4v2m0 3v1m0 2v1m0 8v1m0 4v1m0 3v2m0 2v1m0 1v1m0 1v1m0 1v1m0 1v1m0 5v1m0 1v1m0 3v1m0 3v1m0 1v3m0 37v1m0 15v2m0 1v1M127.69 241v1m0 4v1m0 3v1m0 7v1m0 3v1m0 8v2m0 9v1m0 3v1m0 5v1m0 8v1m0 1v1m0 5v1m0 8v1m0 6v1m0 2v1m0 1v1m0 49v4m0 2v2m0 1v1m0 1v1M128.77 237v2m0 4v1m0 2v1m0 3v1m0 1v2m0 1v1m0 1v2m0 30v1m0 37v2m0 49v2m0 4v1m0 3v2m0 1v1M129.85 243v1m0 7v1m0 1v1m0 25v1m0 7v1m0 7v1m0 3v1m0 3v2m0 13v1m0 1v1m0 48v1m0 20v2M130.93 241v1m0 5v1m0 1v1m0 3v1m0 7v1m0 15v1m0 6v1m0 10v1m0 4v1m0 12v1m0 11v2m0 1v1m0 49v1m0 3v2M132.01 235v1m0 40v1m0 7v1m0 5v2m0 1v1m0 19v1m0 5v2m0 7v1M133.09 236v2m0 3v1m0 36v1m0 4v1m0 4v1m0 9v1m0 18v1m0 7v1m0 6v1m0 37v1m0 10v1m0 9v1M134.17 235v2m0 4v1m0 4v1m0 1v1m0 5v1m0 8v1m0 14v1m0 19v2m0 6v2m0 14v1m0 9v1m0 37v1m0 9v3M135.24 242v3m0 1v1m0 2v1m0 4v1m0 9v1m0 17v1m0 1v2m0 4v1m0 5v1m0 24v1m0 3v1m0 1v1m0 9v1m0 6v2m0 17v1M136.32 271v1m0 1v1m0 2v1m0 12v1m0 16v1m0 10v1m0 5v1m0 8v1m0 19v1M137.40 260v1m0 1v1m0 7v1m0 5v1m0 1v1m0 7v1m0 2v1m0 6v1m0 35v1M138.48 235v1m0 34v1m0 4v2m0 6v1m0 7v1m0 8v1m0 5v1m0 8v1m0 2v1m0 7v1m0 2v1m0 58v1m0 1v1M139.56 235v1m0 1v2m0 4v1m0 4v1m0 28v2m0 5v1m0 4v1m0 4v1m0 5v3m0 16v1m0 1v2m0 5v1m0 1v2m0 3v1m0 27v1m0 1v1m0 2v1m0 2v3m0 2v1m0 11v1m0 1v1M140.64 245v1m0 4v1m0 1v1m0 3v1m0 2v1m0 10v1m0 20v1m0 3v1m0 19v1m0 4v1m0 4v1m0 1v2m0 3v1m0 1v2m0 43v2m0 1v1m0 2v1M141.72 243v1m0 2v1m0 6v1m0 24v1m0 12v1m0 1v1m0 8v1m0 31v1m0 55v1M142.80 235v1m0 9v1m0 4v3m0 25v1m0 5v1m0 2v1m0 1v2m0 4v1m0 3v1m0 5v2m0 2v1m0 5v1m0 1v1m0 7v1m0 2v2m0 33v1m0 25v2M143.88 236v1m0 19v1m0 3v1m0 17v1m0 7v1m0 4v2m0 12v1m0 4v1m0 12v3m0 6v1m0 35v3m0 3v4m0 10v1m0 1v1M144.96 235v1m0 2v1m0 1v1m0 1v1m0 5v1m0 13v1m0 1v2m0 4v1m0 2v1m0 1v1m0 1v1m0 4v1m0 7v1m0 2v1m0 16v2m0 3v1m0 4v1m0 2v1m0 44v1m0 1v3m0 1v1m0 1v1m0 14v1"/>
<path stroke="#f8d7ad" stroke-width="1.08" shape-rendering="crispEdges" d="M40.54 236v1m0 6v3m0 1v1m0 12v1m0 2v1m0 17v1m0 2v1m0 10v1M41.62 239v1m0 1v3m0 3v1M42.69 242v2m0 1v1m0 37v2m0 12v1M43.77 236v1m0 6v1m0 6v1m0 1v1m0 17v1M44.85 236v1m0 5v2m0 16v1m0 17v1m0 17v1M45.92 244v1m0 1v1m0 3v1m0 2v1m0 1v2m0 4v3m0 20v1M47.00 239v1m0 6v1m0 1v2m0 1v1m0 5v1m0 4v1m0 15v1m0 9v2M48.08 244v1m0 4v1m0 21v1m0 8v1M49.15 238v1m0 5v4m0 3v1m0 3v1m0 7v1m0 2v1m0 1v1m0 2v1m0 7v1m0 6v1m0 8v2M50.23 235v1m0 6v1m0 1v1m0 2v1m0 3v1m0 10v1m0 11v1M51.31 241v3m0 3v1m0 3v1m0 8v1m0 19v1M52.38 236v2m0 1v3m0 2v1m0 18v1m0 14v1m0 1v1m0 12v1m0 1v2M53.46 236v1m0 6v1m0 1v1m0 1v1m0 1v1m0 8v1m0 9v1m0 1v1m0 2v1m0 4v1m0 1v1m0 3v2m0 7v1m0 2v1M56.44 348v1m0 1v1M57.52 332v2m0 8v1m0 1v1m0 1v3m0 10v2M58.60 302v1m0 18v1M59.68 338v3m0 5v1m0 13v1M60.76 346v2m0 5v1m0 5v1M61.84 322v1m0 18v1M62.92 337v2m0 8v1m0 1v1m0 2v1m0 3v1m0 1v1m0 1v1m0 2v1M65.08 336v2m0 8v2m0 10v1M66.16 339v1m0 1v1m0 5v1m0 6v1m0 2v1m0 1v3M67.23 349v1m0 5v1m0 6v1M69.39 251v1m0 21v1m0 47v2m0 13v1m0 4v2m0 3v1m0 10v1m0 32v1M70.47 342v1m0 6v1m0 3v1m0 12v1M71.55 284v1m0 72v1M72.63 320v1m0 3v1M74.79 284v1m0 7v1m0 49v1M76.95 278v1m0 19v1m0 1v3m0 1v1m0 1v2m0 6v1M78.03 287v1m0 2v1m0 8v3m0 4v1m0 2v3m0 3v1m0 17v1m0 5v1M79.11 303v2m0 5v2m0 24v2m0 1v2m0 6v1m0 2v2m0 3v1m0 1v1m0 1v1m0 2v1m0 1v3m0 18v1M80.19 301v2m0 2v1m0 7v1m0 21v2m0 1v1m0 2v1m0 3v1m0 1v1m0 2v2m0 3v1m0 2v1m0 5v1m0 1v1m0 9v1M81.27 291v1m0 11v1m0 2v3m0 33v1m0 4v1m0 1v1m0 18v2m0 12v1M82.35 289v3m0 19v1m0 3v1m0 18v3m0 8v2m0 6v1m0 5v1m0 8v1m0 8v1m0 2v2m0 8v1M83.43 298v5m0 1v1m0 2v1m0 3v1m0 22v1m0 2v1m0 2v2m0 4v1m0 2v1m0 5v1M84.51 344v2m0 1v1m0 5v1m0 2v1m0 6v1m0 5v2M85.59 318v1m0 17v1m0 3v4m0 1v1m0 1v2m0 2v1m0 3v1m0 34v1M86.67 332v1m0 3v1m0 9v1m0 1v1m0 2v2m0 3v1m0 1v1m0 5v1m0 2v1M87.75 306v1m0 28v2m0 1v3m0 5v1m0 3v1m0 1v2m0 1v1m0 2v2m0 1v1m0 2v1m0 14v3M88.83 355v1m0 24v1m0 4v1M90.98 305v1m0 26v2m0 1v1m0 1v1m0 13v1m0 5v1m0 5v1M92.06 322v1m0 8v2m0 19v2m0 3v1m0 5v1M93.14 304v2m0 1v1m0 7v2m0 1v1m0 2v1m0 10v2m0 25v1m0 6v2m0 22v1M94.22 315v1m0 20v1m0 9v1m0 11v1m0 11v1m0 2v1m0 2v1M95.30 332v1m0 6v2m0 1v1m0 5v1m0 1v1m0 4v1m0 3v1m0 10v1M96.38 307v1m0 24v1m0 3v1m0 4v1m0 12v2m0 4v1m0 3v2m0 1v1m0 5v1M97.46 235v1m0 59v1m0 28v2m0 10v1m0 5v1m0 3v2m0 8v1m0 9v1M98.54 355v1M99.62 334v1m0 6v1m0 4v1m0 1v2m0 7v2m0 5v1M100.70 345v1m0 3v1m0 2v1m0 7v2M101.78 340v1m0 4v1m0 2v1m0 15v2M105.02 248v1M107.18 247v1m0 21v1m0 79v2m0 6v1m0 1v1m0 10v1M108.26 297v1m0 23v1m0 13v1M109.34 248v1m0 49v1m0 85v1m0 3v1m0 2v1M111.50 390v1M112.57 288v1M113.65 279v1m0 16v1m0 10v1m0 76v1M114.73 276v1m0 30v1m0 3v1m0 42v1m0 15v1m0 13v1m0 4v1m0 2v1M115.81 291v1m0 6v1m0 6v2m0 1v1m0 1v1m0 9v1m0 2v1m0 2v2M116.89 300v1m0 2v1m0 1v1m0 1v2m0 13v1m0 2v1M117.97 307v1m0 62v1m0 1v1m0 2v1m0 6v1m0 1v1M121.21 288v1M124.45 239v1m0 7v1m0 2v2m0 15v2m0 16v1m0 1v1m0 1v2m0 3v2m0 11v1m0 1v1m0 6v1m0 4v1M125.53 235v1m0 2v2m0 10v1m0 1v2m0 3v1m0 3v2m0 1v1m0 1v3m0 8v3m0 3v1m0 3v1m0 1v1m0 2v1m0 2v1m0 2v1m0 6v1m0 4v1m0 3v1M126.61 263v1m0 6v1m0 9v1m0 7v1m0 18v1M127.69 239v1m0 5v1m0 22v1m0 1v1m0 6v2m0 5v1m0 4v1m0 17v1M128.77 301v1m0 2v1m0 3v2m0 80v1M129.85 239v1m0 7v1m0 8v1m0 45v1m0 4v2M130.93 305v2m0 5v1M132.01 253v1m0 8v1m0 3v1m0 31v2m0 1v1M133.09 247v1m0 5v1m0 2v2m0 1v1m0 3v2m0 1v1m0 2v1M134.17 247v1m0 7v1m0 3v2m0 4v1m0 1v1M135.24 251v1m0 3v2m0 67v1M136.32 240v1m0 1v3m0 1v1m0 3v2m0 4v2m0 1v1m0 2v1m0 2v2m0 1v2M137.40 247v1m0 1v1m0 1v1m0 3v3m0 5v1m0 2v1m0 2v1m0 15v1m0 2v1m0 4v1M138.48 239v1m0 6v1m0 2v2m0 2v1m0 7v1m0 3v1m0 3v1M139.56 256v4m0 2v1m0 4v1m0 1v1M140.64 239v1m0 1v1m0 18v1M142.80 242v1m0 4v1m0 40v1m0 4v1m0 29v1M143.88 293v1M144.96 236v1m0 6v1m0 3v1m0 2v1m0 2v1m0 1v1m0 4v1"/>
<path stroke="#fae1c2" stroke-width="1.08" shape-rendering="crispEdges" d="M40.54 238v1m0 2v2m0 8v1m0 12v2m0 1v1m0 1v2m0 4v1m0 3v1m0 6v1m0 3v2m0 1v1m0 2v2M41.62 235v1m0 24v1m0 9v1m0 7v1M42.69 235v1m0 5v1m0 4v1m0 1v2m0 2v1m0 7v1m0 18v1m0 1v1m0 3v2m0 4v1M43.77 239v2m0 3v2m0 5v1m0 1v1m0 3v1m0 2v1m0 7v1m0 11v1M44.85 235v1m0 1v2m0 1v2m0 3v2m0 2v1m0 1v1m0 1v1m0 5v1m0 19v1m0 2v1m0 1v1m0 5v2m0 1v1M45.92 236v2m0 3v1m0 3v1m0 2v1m0 3v1m0 1v1m0 3v1m0 11v1m0 1v1m0 1v1m0 4v1m0 9v1M47.00 238v1m0 1v1m0 9v1m0 9v2m0 31v1M48.08 239v1m0 7v1m0 31v1m0 13v1M49.15 236v2m0 3v1m0 1v1m0 6v1m0 2v1m0 2v2m0 3v1m0 7v2m0 3v1m0 2v2m0 4v1m0 1v1m0 1v2m0 5v1M50.23 236v6m0 4v1m0 1v1m0 10v3m0 8v2m0 4v1m0 6v1m0 4v2m0 6v1M51.31 235v1m0 4v1m0 7v1m0 12v1m0 8v2m0 17v1m0 3v1M52.38 245v1m0 5v1m0 10v1m0 2v1m0 1v1m0 5v1m0 2v1m0 11v1m0 8v1M53.46 235v1m0 1v1m0 2v1m0 5v1m0 4v1m0 4v2m0 2v2m0 3v1m0 1v1m0 7v1m0 3v1m0 1v1m0 1v1m0 2v1m0 2v1m0 1v1M56.44 351v2M57.52 267v1m0 23v1m0 44v1m0 4v1m0 1v1m0 5v1m0 2v1m0 5v1m0 2v1m0 5v1m0 1v1m0 3v2m0 4v2m0 11v1M58.60 317v1m0 2v1m0 2v2m0 6v1m0 5v1m0 8v1m0 3v3m0 4v1M59.68 320v2m0 1v1m0 4v1m0 13v1m0 6v3m0 5v1m0 1v1m0 1v1m0 1v1m0 1v1m0 26v1M60.76 291v1m0 8v1m0 3v1m0 2v1m0 25v1m0 3v1m0 4v1m0 1v1m0 7v1m0 1v1m0 2v1m0 12v1m0 13v1M61.84 327v2m0 2v1m0 8v1m0 1v1m0 7v1m0 1v1M62.92 260v1m0 41v1m0 29v1m0 7v1m0 7v1m0 4v1m0 7v1m0 2v4m0 5v1M64.00 301v1M65.08 333v1m0 11v1m0 3v4m0 2v1m0 3v3m0 19v1M66.16 291v1m0 40v2m0 8v1m0 6v2m0 2v1m0 2v1m0 1v1M67.23 278v1m0 10v2m0 43v1m0 2v1m0 15v1m0 3v1m0 3v1m0 3v4M68.31 278v1M69.39 247v1m0 2v1m0 4v1m0 9v1m0 10v1m0 23v1m0 28v1m0 1v2m0 12v1m0 2v1m0 3v1m0 1v2m0 9v3m0 11v3M70.47 284v1m0 5v1m0 1v1m0 27v3m0 13v1m0 3v1m0 3v1m0 2v2m0 5v1m0 10v1m0 1v1M71.55 333v1m0 2v1m0 1v1m0 3v1m0 10v1m0 6v2m0 4v1M72.63 255v1m0 28v2m0 12v1m0 1v1m0 2v1m0 2v3m0 14v1m0 1v1m0 1v2m0 8v1m0 32v1m0 6v1M73.71 379v1M74.79 265v1m0 69v1m0 5v1m0 11v1M75.87 287v1m0 2v1m0 4v1M76.95 286v1m0 4v2m0 4v1m0 5v1m0 4v1m0 3v1m0 33v1m0 2v1m0 13v1m0 5v1m0 20v1M78.03 291v1m0 3v1m0 2v1m0 3v1m0 1v2m0 6v2m0 20v1m0 5v2m0 1v1m0 1v1m0 2v1m0 1v2m0 14v1m0 1v1m0 5v1m0 11v1M79.11 308v1m0 4v1m0 20v2m0 9v1m0 6v1m0 1v1m0 1v1m0 1v1m0 8v4m0 10v3m0 6v1m0 1v1M80.19 289v1m0 9v2m0 2v1m0 2v1m0 2v2m0 22v1m0 3v1m0 1v2m0 3v1m0 3v1m0 3v2m0 3v1m0 9v1m0 7v1m0 5v1M81.27 239v1m0 58v1m0 6v1m0 4v1m0 1v1m0 1v1m0 10v1m0 8v1m0 10v1m0 2v1m0 16v1m0 4v1m0 1v1m0 1v1m0 1v1m0 4v1m0 3v2m0 3v1M82.35 313v1m0 2v1m0 25v1m0 1v1m0 3v1m0 1v2m0 2v2m0 1v1m0 9v1m0 7v2m0 2v1m0 2v5M83.43 291v1m0 16v3m0 22v1m0 1v2m0 5v1m0 7v1m0 1v1m0 1v1m0 2v2m0 10v1M84.51 332v1m0 1v3m0 2v2m0 5v1m0 2v3m0 5v4m0 1v1m0 1v3m0 6v1m0 2v1m0 9v2m0 1v1m0 1v1M85.59 317v1m0 2v1m0 16v1m0 12v1m0 7v1m0 4v1m0 2v2m0 12v1m0 10v2M86.67 318v1m0 16v1m0 1v1m0 5v3m0 11v1m0 4v2m0 2v1M87.75 318v1m0 2v1m0 19v2m0 2v1m0 3v1m0 1v1m0 4v1m0 3v1m0 1v1m0 2v1m0 5v2m0 17v2M88.83 335v2m0 1v1m0 25v1m0 16v1m0 1v1m0 6v2M89.90 379v1M90.98 319v1m0 3v1m0 10v1m0 3v2m0 4v1m0 5v1m0 3v1m0 1v1m0 2v1m0 5v1M92.06 298v1m0 2v1m0 16v4m0 1v2m0 8v1m0 1v1m0 2v1m0 5v2m0 1v2m0 5v2m0 6v1m0 2v2m0 9v1m0 4v1m0 8v2M93.14 284v1m0 18v1m0 4v5m0 4v1m0 1v1m0 3v2m0 2v1m0 2v2m0 15v3m0 3v1m0 7v1m0 1v1m0 17v1M94.22 243v1m0 4v1m0 65v1m0 6v1m0 18v2m0 5v1m0 2v1m0 24v1m0 1v1m0 2v1m0 3v1m0 3v4M95.30 326v1m0 6v3m0 2v1m0 2v1m0 2v1m0 4v1m0 1v4m0 3v1m0 1v2m0 1v1m0 5v1m0 4v1m0 6v1M96.38 243v2m0 94v1m0 9v1m0 19v1m0 19v2M97.46 244v1m0 33v1m0 3v1m0 8v1m0 28v2m0 4v1m0 1v1m0 3v1m0 1v1m0 4v1m0 3v1m0 4v1m0 13v2m0 17v1m0 8v1M98.54 299v1m0 28v1m0 5v1m0 7v1m0 3v1m0 4v1m0 6v2m0 1v1m0 3v1m0 16v1M99.62 247v1m0 51v3m0 5v2m0 17v1m0 6v1m0 8v2m0 1v1m0 1v1m0 2v1m0 1v1m0 3v1m0 2v1m0 3v1m0 9v1m0 8v1m0 7v1M100.70 242v1m0 50v1m0 14v1m0 27v2m0 1v1m0 3v1m0 9v2M101.78 333v2m0 2v2m0 3v2m0 6v3m0 2v1m0 2v2m0 2v2M102.86 276v2m0 59v1M103.94 318v3m0 2v1m0 25v2m0 41v1M105.02 247v1m0 102v2m0 14v1M106.10 278v1m0 3v1m0 6v1m0 100v1M107.18 263v1m0 6v1m0 53v1m0 19v2m0 2v1m0 2v2M108.26 292v1m0 3v1m0 18v1m0 2v1m0 5v1m0 9v1m0 13v1m0 9v1M109.34 239v1m0 84v1m0 8v1m0 16v1m0 18v2m0 6v1m0 5v1m0 5v2M110.42 282v1m0 16v1m0 12v2m0 35v1M111.50 384v1M112.57 244v1m0 34v2m0 1v1m0 10v2m0 10v1m0 50v1m0 9v1M113.65 292v1m0 12v1m0 82v1M114.73 245v2m0 30v1m0 22v2m0 1v1m0 1v2m0 1v3m0 3v1m0 12v1m0 9v1m0 30v2m0 1v1m0 1v1m0 2v1m0 4v1m0 3v3M115.81 246v1m0 28v3m0 2v1m0 2v1m0 3v1m0 1v1m0 2v1m0 9v3m0 10v1m0 5v1m0 2v2m0 2v1m0 1v1m0 23v1M116.89 298v1m0 3v1m0 11v1m0 2v1m0 2v2m0 4v2m0 28v1M117.97 244v1m0 33v1m0 19v1m0 24v2m0 44v1m0 15v1m0 2v1M119.05 247v1m0 76v1m0 64v1M120.13 323v1M121.21 292v1m0 43v1M122.29 290v1m0 72v1M123.37 308v1m0 6v1M124.45 248v1m0 3v2m0 5v2m0 3v3m0 2v1m0 11v1m0 6v1m0 2v1m0 5v2m0 15v1m0 3v1m0 50v1m0 12v1M125.53 240v2m0 2v1m0 1v1m0 7v2m0 3v1m0 20v2m0 4v1m0 3v1m0 3v1m0 1v2m0 6v1m0 1v1m0 1v1m0 3v2m0 1v1m0 54v1M126.61 239v1m0 8v1m0 1v2m0 2v1m0 3v1m0 3v1m0 2v1m0 26v1m0 6v1M127.69 235v1m0 2v1m0 1v1m0 7v2m0 2v3m0 2v1m0 5v2m0 1v2m0 1v1m0 3v1m0 1v2m0 2v1m0 16v1m0 5v1m0 2v2m0 3v1m0 1v3m0 55v1M128.77 235v1m0 12v1m0 5v1m0 50v2m0 4v1m0 1v1m0 4v1m0 2v1m0 51v1M129.85 238v1m0 2v2m0 6v1m0 5v1m0 5v1m0 43v1m0 9v2M130.93 244v1m0 7v1m0 4v1m0 20v1m0 19v2m0 2v1m0 4v2m0 1v2m0 2v2m0 2v1M132.01 236v1m0 8v1m0 4v3m0 4v4m0 4v1m0 2v2m0 30v1m0 2v1m0 5v1m0 2v1m0 5v1m0 4v2m0 5v1m0 39v1M133.09 238v2m0 3v1m0 6v1m0 11v1m0 55v1m0 3v2M134.17 238v1m0 1v1m0 4v1m0 4v1m0 1v1m0 3v1m0 1v1m0 2v1m0 4v1m0 1v2M135.24 239v1m0 10v1m0 1v1m0 5v1m0 3v1m0 2v1m0 1v1M136.32 237v2m0 10v1m0 28v1M137.40 238v1m0 2v1m0 6v1m0 1v1m0 2v2m0 10v1m0 1v2m0 15v1m0 7v1M138.48 237v1m0 3v2m0 5v1m0 5v1m0 4v1m0 4v1m0 59v2M139.56 245v2m0 14v1m0 4v1m0 1v1m0 23v1m0 31v1m0 7v1M140.64 235v1m0 1v1m0 9v1m0 73v1m0 1v2m0 56v1m0 5v1m0 2v1M141.72 255v1m0 36v1M142.80 236v4m0 13v1m0 1v2m0 3v1m0 30v1m0 5v1m0 20v1m0 11v1m0 1v1M143.88 238v1m0 5v1m0 2v1m0 73v1m0 50v1M144.96 237v1m0 3v1m0 19v1m0 30v1m0 16v1m0 79v1"/>
<path stroke="#f6cc98" stroke-width="1.08" shape-rendering="crispEdges" d="M40.54 239v1m0 38v1m0 1v1m0 4v1M42.69 244v1m0 33v1m0 1v1m0 14v1M43.77 247v1m0 30v1M44.85 239v1m0 4v1m0 35v1m0 14v1M45.92 235v1m0 4v1m0 1v2m0 5v1m0 1v1m0 5v1m0 2v1M47.00 237v1m0 3v1m0 3v1m0 12v1m0 4v1M48.08 278v1M49.15 248v1m0 13v1m0 21v1m0 4v1M50.23 243v1m0 19v2m0 13v1M51.31 239v1m0 39v1M52.38 242v2m0 16v1M53.46 239v1m0 2v1m0 5v1m0 14v1m0 10v1m0 1v1m0 18v1M57.52 337v1M59.68 341v1m0 5v2m0 13v1M60.76 340v1m0 39v1M62.92 351v1m0 5v1M65.08 348v1M66.16 340v1m0 7v1m0 3v1m0 9v1M67.23 341v2m0 13v1M69.39 356v1M70.47 337v1M71.55 337v1M76.95 299v1m0 5v1M78.03 316v1m0 32v1M79.11 302v1m0 6v1m0 4v1m0 17v1m0 5v1m0 2v1m0 4v1m0 2v1m0 3v1m0 6v1m0 13v1m0 16v1M80.19 298v1m0 5v1m0 6v2m0 2v2m0 25v1m0 6v1m0 15v1M81.27 289v1m0 9v1m0 2v1m0 8v1m0 1v1m0 27v1M82.35 298v1m0 2v1m0 1v1m0 5v1m0 2v1m0 1v1m0 26v1M83.43 303v1m0 2v1m0 6v2m0 1v1m0 30v1M84.51 338v1m0 2v2m0 11v2M85.59 332v3m0 3v2m0 9v1m0 2v2m0 3v1m0 1v3m0 19v1M86.67 333v1m0 13v1m0 5v1m0 5v1M87.75 333v1m0 13v1m0 6v1M92.06 346v1M93.14 298v5m0 3v1m0 39v1M94.22 357v1m0 11v1M95.30 345v3m0 8v1m0 5v1M96.38 334v2m0 1v1m0 2v1m0 2v1m0 1v1m0 7v1m0 4v2m0 1v3M97.46 294v1m0 36v1m0 12v2m0 11v1m0 1v1m0 1v1M98.54 357v1M100.70 333v1m0 1v1m0 2v1m0 2v1m0 2v1m0 6v1m0 3v1m0 3v1m0 2v1m0 1v1m0 1v1M101.78 344v1m0 1v1M102.86 247v1M108.26 320v1M109.34 380v1M112.57 278v1m0 74v2M114.73 298v1m0 83v2m0 6v1M115.81 278v1m0 28v1m0 9v2M116.89 309v1m0 9v1M117.97 374v1m0 8v1M124.45 262v1m0 17v1m0 2v1m0 8v1m0 3v1m0 11v1m0 6v1M125.53 251v1m0 4v1m0 1v1m0 6v1m0 18v1m0 6v1M126.61 298v1M127.69 255v1m0 9v1m0 32v1m0 9v1m0 60v1M128.77 298v2m0 7v1m0 7v2M129.85 240v1M130.93 316v1M132.01 237v2m0 1v1m0 3v1m0 9v2m0 5v1m0 1v1m0 38v1m0 1v2m0 2v1m0 2v1m0 3v1M133.09 252v1m0 2v1m0 2v1m0 2v1m0 3v1m0 1v2M134.17 239v1m0 4v1m0 6v1m0 1v1m0 3v1M136.32 245v1m0 2v1m0 3v1m0 5v1m0 4v1m0 3v1M137.40 239v1m0 12v1m0 5v1M138.48 240v1m0 6v1m0 3v2m0 2v4m0 1v1m0 2v1m0 4v1M139.56 247v1m0 2v2m0 1v3m0 4v1m0 3v2M142.80 241v1M144.96 252v1m0 3v1m0 1v1"/>
<path stroke="#fcebd6" stroke-width="1.08" shape-rendering="crispEdges" d="M40.54 240v1m0 5v1m0 2v2m0 2v1m0 1v1m0 5v2m0 3v1m0 1v1m0 5v1m0 1v2m0 4v2m0 4v1m0 5v1M41.62 236v1m0 3v1m0 3v1m0 7v1m0 8v2m0 2v1m0 5v1m0 23v2m0 11v1M42.69 237v1m0 2v1m0 9v2m0 5v3m0 2v4m0 2v1m0 1v1m0 2v2m0 7v1m0 4v3M43.77 238v1m0 3v1m0 3v1m0 1v1m0 6v2m0 1v2m0 1v2m0 4v1m0 3v7m0 1v1m0 1v2m0 1v2m0 8v1M44.85 248v1m0 12v1m0 19v1m0 1v1m0 1v1m0 2v1M45.92 238v1m0 25v2m0 7v1m0 4v1m0 1v1m0 2v1m0 4v1m0 2v1m0 3v2M47.00 252v3m0 4v1m0 4v2m0 4v2m0 3v1m0 3v2m0 1v3m0 6v1m0 3v3m0 68v1M48.08 240v1m0 4v2m0 4v1m0 8v1m0 9v1m0 1v1m0 1v1m0 9v2m0 9v1m0 1v1M49.15 235v1m0 4v1m0 1v1m0 15v1m0 5v2m0 1v1m0 4v1m0 8v1m0 11v1m0 3v1m0 68v1M50.23 249v2m0 5v1m0 8v1m0 1v1m0 1v1m0 2v2m0 1v1m0 1v1m0 1v2m0 1v1m0 1v2m0 4v1m0 3v2m0 1v1M51.31 236v3m0 5v2m0 3v2m0 1v1m0 9v1m0 5v1m0 9v1m0 2v2m0 1v1m0 3v1m0 1v2m0 3v2m0 9v1M52.38 235v1m0 2v1m0 7v2m0 2v1m0 1v1m0 1v2m0 3v1m0 1v1m0 2v1m0 3v5m0 4v1m0 1v1m0 5v1m0 3v1M53.46 238v1m0 2v1m0 8v1m0 2v1m0 5v1m0 4v1m0 4v1m0 1v2m0 4v1m0 4v1m0 7v1m0 6v1m0 27v1m0 39v1M56.44 260v1m0 40v1m0 24v1m0 13v1m0 6v1m0 15v1M57.52 256v1m0 19v1m0 11v1m0 3v2m0 6v1m0 1v2m0 4v1m0 6v1m0 2v1m0 11v2m0 6v1m0 1v1m0 9v2m0 2v1m0 1v2m0 4v4m0 10v1m0 5v1m0 5v1M58.60 260v1m0 27v1m0 12v1m0 5v1m0 10v1m0 3v1m0 7v1m0 1v2m0 6v3m0 2v1m0 1v2m0 4v1m0 7v4M59.68 240v1m0 19v1m0 57v1m0 6v2m0 4v2m0 3v2m0 6v1m0 7v1m0 1v3m0 10v4m0 9v1M60.76 275v1m0 10v1m0 3v1m0 7v2m0 2v2m0 1v1m0 3v1m0 21v2m0 5v1m0 2v1m0 6v4m0 6v1m0 2v1m0 1v2m0 3v2m0 4v1m0 10v1M61.84 247v1m0 8v1m0 17v1m0 27v1m0 3v1m0 10v1m0 2v2m0 1v4m0 5v1m0 5v1m0 9v1m0 2v1m0 1v2m0 15v1M62.92 263v1m0 12v1m0 3v1m0 20v1m0 32v2m0 3v1m0 2v2m0 2v1m0 3v1m0 3v2m0 3v1m0 10v1m0 3v1m0 3v1m0 1v2M64.00 260v1m0 38v1m0 2v2m0 33v1m0 20v1m0 1v1m0 8v1M65.08 260v1m0 14v1m0 2v1m0 9v1m0 3v1m0 8v1m0 29v1m0 3v1m0 2v2m0 1v2m0 10v2m0 1v2m0 4v3m0 3v2m0 4v1m0 2v1m0 4v1m0 9v1M66.16 286v1m0 1v1m0 29v1m0 9v1m0 6v3m0 8v1m0 8v1m0 7v1M67.23 285v1m0 15v1m0 33v1m0 4v1m0 2v1m0 4v1m0 1v1m0 1v1m0 6v1m0 4v1m0 10v1M68.31 283v2M69.39 248v1m0 5v1m0 1v1m0 6v1m0 3v1m0 3v1m0 2v1m0 42v2m0 1v1m0 3v2m0 4v1m0 2v1m0 1v1m0 1v1m0 2v1m0 6v1m0 1v1m0 1v1m0 1v1m0 4v2m0 1v1m0 1v1m0 4v3m0 2v1M70.47 278v1m0 4v1m0 1v1m0 12v1m0 3v1m0 6v1m0 1v1m0 21v1m0 1v1m0 2v2m0 3v1m0 1v1m0 5v2m0 2v3m0 6v1m0 8v1m0 16v1M71.55 314v1m0 5v1m0 3v1m0 1v1m0 3v2m0 3v1m0 4v2m0 1v3m0 1v1m0 1v1m0 1v2m0 1v3m0 1v2m0 4v1m0 2v1m0 1v2m0 5v1m0 2v1M72.63 278v1m0 13v1m0 11v1m0 11v2m0 1v1m0 9v3m0 10v1m0 6v1m0 26v1m0 2v1M73.71 284v1m0 24v1m0 36v1m0 2v1m0 40v1M74.79 253v1m0 9v1m0 2v1m0 9v1m0 1v1m0 4v1m0 1v1m0 5v1m0 44v2m0 2v1m0 2v2m0 1v1m0 2v2m0 17v1m0 1v1m0 6v1m0 12v3M75.87 247v1m0 3v1m0 24v1m0 1v1m0 1v2m0 3v1m0 7v1m0 42v1m0 4v1m0 33v1m0 10v1M76.95 251v1m0 27v1m0 3v1m0 1v1m0 3v2m0 4v1m0 13v1m0 1v1m0 3v2m0 17v1m0 5v1m0 2v1m0 1v1m0 1v2m0 5v1m0 1v4m0 1v2m0 2v2m0 6v2m0 10v1m0 1v1M78.03 288v2m0 13v1m0 4v1m0 5v1m0 21v1m0 1v1m0 3v1m0 1v1m0 1v2m0 5v1m0 1v1m0 1v2m0 1v1m0 8v1m0 3v1m0 3v1m0 3v2m0 1v1M79.11 278v1m0 10v2m0 52v1m0 4v1m0 12v1m0 13v3m0 1v1m0 4v1m0 1v1m0 1v1M80.19 283v1m0 24v1m0 25v1m0 26v2m0 5v2m0 4v1m0 7v1m0 7v1M81.27 285v1m0 6v2m0 15v1m0 6v1m0 16v1m0 1v2m0 7v1m0 1v1m0 3v2m0 1v1m0 1v1m0 8v1m0 2v1m0 7v1m0 2v1m0 1v1m0 2v1m0 3v2M82.35 278v2m0 3v3m0 1v2m0 6v1m0 1v1m0 20v1m0 6v2m0 5v1m0 4v1m0 2v1m0 2v1m0 3v1m0 1v1m0 10v6m0 3v1m0 1v1m0 1v2m0 16v1M83.43 290v1m0 41v1m0 5v2m0 3v3m0 2v1m0 4v1m0 2v1m0 2v2m0 3v3m0 9v2m0 6v1M84.51 288v1m0 4v1m0 43v1m0 10v1m0 3v1m0 8v1m0 6v1m0 2v1m0 2v1m0 4v1m0 3v2m0 3v1m0 1v1M85.59 237v1m0 52v1m0 30v1m0 4v1m0 4v1m0 24v1m0 5v1m0 2v1m0 2v1m0 7v2m0 7v1m0 3v1M86.67 239v1m0 38v1m0 1v1m0 11v1m0 26v2m0 2v1m0 10v1m0 3v4m0 7v1m0 5v1m0 4v2m0 3v1m0 24v1M87.75 302v1m0 4v1m0 4v1m0 2v3m0 8v1m0 4v2m0 11v1m0 21v1m0 3v1m0 2v1m0 2v2m0 4v2M88.83 305v1m0 11v1m0 2v2m0 8v1m0 16v1m0 5v1m0 3v1m0 5v1m0 2v1m0 2v1m0 2v2m0 2v4m0 2v1m0 6v1M89.90 247v1m0 54v1m0 11v1m0 3v1m0 12v1m0 19v1m0 5v1m0 1v1m0 5v1m0 9v1m0 5v1m0 5v1M90.98 274v1m0 3v1m0 4v1m0 17v1m0 13v4m0 1v2m0 4v2m0 2v2m0 4v1m0 4v1m0 3v1m0 1v1m0 1v1m0 2v1m0 5v1m0 2v2m0 1v1m0 1v1m0 24v1M92.06 243v1m0 37v1m0 8v2m0 3v1m0 10v2m0 6v4m0 12v1m0 3v1m0 1v2m0 1v2m0 2v1m0 5v3m0 6v4m0 2v1m0 2v1m0 11v1M93.14 313v1m0 6v1m0 1v1m0 3v1m0 1v1m0 6v1m0 2v3m0 2v1m0 1v1m0 4v3m0 2v4m0 6v1m0 13v2m0 10v1M94.22 235v1m0 4v1m0 3v1m0 53v1m0 7v2m0 8v1m0 1v1m0 3v1m0 3v1m0 11v1m0 3v1m0 6v1m0 5v1m0 3v1m0 7v2m0 3v1m0 6v1m0 1v3m0 3v1m0 4v1M95.30 323v1m0 7v1m0 4v1m0 6v1m0 20v3m0 6v1m0 1v1m0 2v3m0 1v1m0 7v2M96.38 235v1m0 63v1m0 6v1m0 1v1m0 7v3m0 2v1m0 6v1m0 41v1m0 1v1m0 2v1m0 3v1m0 1v2M97.46 239v1m0 3v1m0 36v2m0 2v1m0 4v2m0 26v2m0 3v2m0 13v1m0 3v1m0 8v1m0 1v4m0 2v1m0 1v1m0 3v2m0 1v1m0 2v1m0 5v1m0 3v1m0 1v1M98.54 247v1m0 50v1m0 9v2m0 5v1m0 1v2m0 2v1m0 5v1m0 5v1m0 4v1m0 1v2m0 1v1m0 3v2m0 1v1m0 3v1m0 1v1m0 5v1m0 7v2m0 2v1m0 1v1m0 4v1M99.62 235v1m0 8v1m0 53v1m0 3v1m0 2v2m0 2v1m0 5v2m0 1v1m0 1v2m0 3v1m0 1v2m0 1v1m0 1v1m0 2v3m0 2v1m0 3v1m0 8v1m0 1v1m0 4v1m0 7v3m0 8v1m0 1v1m0 7v1M100.70 236v1m0 7v1m0 33v1m0 1v1m0 3v1m0 4v1m0 6v1M101.78 247v1m0 36v1m0 47v1m0 2v2m0 4v1m0 5v1m0 1v1m0 3v2m0 11v2m0 5v1m0 9v1M102.86 267v1m0 15v1m0 5v1m0 2v2m0 2v2m0 38v1m0 9v1m0 1v3m0 6v1m0 3v1m0 4v2M103.94 281v2m0 8v1m0 3v2m0 24v2m0 1v1m0 3v1m0 8v1m0 4v2m0 4v1m0 28v1m0 3v1m0 8v2M105.02 260v1m0 9v1m0 11v1m0 39v1m0 10v1m0 3v2m0 9v1m0 3v1m0 10v1M106.10 280v1m0 3v1m0 12v1m0 30v1m0 42v1m0 9v1M107.18 239v1m0 2v1m0 5v1m0 6v1m0 11v1m0 12v3m0 12v1m0 2v1m0 8v1m0 2v1m0 1v2m0 2v3m0 14v1m0 2v2m0 20v1m0 1v1m0 4v1m0 18v1M108.26 251v1m0 9v2m0 7v2m0 4v3m0 1v2m0 1v1m0 5v1m0 1v1m0 1v1m0 4v1m0 18v1m0 1v1m0 2v2m0 2v1m0 1v2m0 3v1m0 3v1m0 6v1m0 2v1m0 1v2m0 1v1m0 3v1m0 6v1M109.34 260v1m0 16v2m0 1v1m0 16v1m0 2v1m0 2v1m0 2v1m0 3v3m0 3v2m0 3v1m0 3v1m0 11v2m0 10v1m0 10v1m0 5v3m0 2v1m0 1v1m0 5v1m0 12v1M110.42 247v1m0 50v1m0 7v1m0 1v1m0 2v1m0 2v1m0 18v1m0 19v1m0 6v1m0 5v1M111.50 316v1m0 19v2m0 10v1m0 20v1m0 11v3m0 1v1m0 3v1m0 1v1M112.57 245v1m0 24v1m0 5v1m0 6v4m0 2v2m0 1v1m0 6v2m0 3v1m0 4v1m0 11v2m0 24v1m0 7v1m0 7v1m0 1v1m0 22v1M113.65 278v1m0 4v1m0 2v1m0 2v1m0 1v1m0 1v1m0 7v1m0 12v1m0 51v1m0 1v1m0 1v1m0 9v1m0 2v1M114.73 239v2m0 3v1m0 2v3m0 2v1m0 12v1m0 36v1m0 1v1m0 7v2m0 5v1m0 1v1m0 4v1m0 7v1m0 18v1m0 1v1m0 9v1m0 11v1m0 10v1m0 2v1M115.81 242v1m0 1v1m0 22v1m0 11v1m0 2v1m0 1v2m0 2v1m0 1v1m0 2v1m0 5v2m0 10v1m0 1v1m0 2v1m0 14v1M116.89 299v1m0 1v1m0 4v1m0 4v1m0 11v2m0 3v1m0 6v1m0 17v1m0 9v2M117.97 239v1m0 3v1m0 4v1m0 14v1m0 6v3m0 3v2m0 5v1m0 2v1m0 6v1m0 11v1m0 3v2m0 9v1m0 31v1m0 15v1m0 2v1m0 4v1m0 4v1m0 5v1m0 2v1M119.05 248v1m0 31v1m0 26v1m0 10v1m0 34v1m0 9v1m0 1v1m0 4v1m0 4v1m0 9v1M120.13 318v1m0 3v1m0 1v2m0 28v1m0 13v1m0 1v1m0 4v1m0 4v1m0 7v1M121.21 258v1m0 7v1m0 11v1m0 3v1m0 4v1m0 1v1m0 16v3m0 5v1m0 2v1m0 3v1m0 3v1m0 38v1m0 1v1m0 1v1M122.29 239v1m0 2v1m0 7v1m0 5v1m0 3v1m0 21v1m0 1v1m0 6v1m0 4v1m0 2v1m0 16v1m0 4v1m0 6v1m0 21v1m0 9v1m0 4v1m0 4v1m0 11v1m0 5v1M123.37 250v1m0 47v1m0 15v1m0 54v1M124.45 236v1m0 7v1m0 9v1m0 3v1m0 18v1m0 4v1m0 3v1m0 12v2m0 1v3m0 1v1m0 3v1m0 13v1m0 1v1m0 1v1m0 1v1m0 39v1m0 2v1m0 10v2m0 2v1m0 3v1M125.53 236v2m0 4v1m0 6v1m0 10v1m0 8v3m0 4v1m0 5v1m0 2v1m0 13v1m0 7v1m0 1v1m0 6v1m0 11v1m0 44v1m0 14v1M126.61 255v1m0 8v1m0 2v2m0 8v1m0 5v2m0 1v1m0 2v2m0 2v1m0 1v1m0 6v1m0 6v1m0 5v2m0 4v1m0 14v1m0 32v1m0 3v1M127.69 236v2m0 5v2m0 2v1m0 3v1m0 4v1m0 2v3m0 12v1m0 5v1m0 2v1m0 1v1m0 1v2m0 1v1m0 2v1m0 1v1m0 1v1m0 1v2m0 3v1m0 6v1m0 72v1m0 5v1M128.77 236v1m0 2v4m0 1v1m0 2v1m0 1v1m0 1v1m0 8v2m0 40v2m0 6v1m0 1v1m0 7v1m0 3v1m0 1v1m0 41v3m0 9v1m0 4v1m0 1v1M129.85 236v2m0 6v1m0 7v1m0 4v2m0 1v1m0 23v1m0 13v1m0 11v5m0 10v1M130.93 238v1m0 1v1m0 2v1m0 6v2m0 4v1m0 1v1m0 1v1m0 30v1m0 2v1m0 2v1m0 5v2m0 4v1m0 14v1m0 65v1M132.01 246v1m0 1v2m0 14v1m0 13v1m0 1v1m0 4v1m0 24v1m0 3v1m0 2v1m0 4v1m0 2v1m0 5v1m0 58v1M133.09 240v1m0 1v1m0 2v2m0 1v2m0 1v1m0 25v1m0 21v1m0 16v1m0 4v1m0 2v1m0 65v1M134.17 242v2m0 18v1m0 1v1M135.24 240v1m0 6v1m0 11v1m0 1v1m0 1v1m0 2v1m0 1v2m0 10v1m0 42v1m0 2v1m0 1v1m0 3v1M136.32 235v1m0 5v1m0 12v1m0 9v1M137.40 235v1m0 1v1m0 2v1m0 1v1m0 1v3m0 12v1m0 1v1m0 9v1m0 8v1m0 6v1m0 2v2m0 2v2m0 1v1M138.48 236v1m0 1v1m0 4v3m0 38v1m0 20v1m0 10v1m0 6v1M139.56 239v1m0 1v2m0 1v1m0 4v1m0 20v1m0 12v1m0 2v3m0 1v2m0 1v1m0 23v2m0 1v1m0 2v1m0 1v1m0 40v1m0 2v1m0 17v1m0 1v1M140.64 236v1m0 1v1m0 1v1m0 1v1m0 1v1m0 3v2m0 1v1m0 2v2m0 36v1m0 75v1m0 6v3m0 10v2m0 1v2M141.72 236v2m0 3v2m0 1v1m0 2v1m0 2v2m0 2v1m0 1v1m0 1v1m0 1v1m0 21v1m0 49v1M142.80 240v1m0 2v2m0 4v1m0 7v1m0 22v1m0 1v1m0 9v1m0 1v1m0 1v1m0 24v2m0 1v1m0 6v1m0 37v1M143.88 239v1m0 2v2m0 7v5m0 46v1m0 6v1m0 2v1M144.96 239v1m0 5v1m0 3v1m0 7v1m0 1v1m0 7v1m0 4v1m0 1v1m0 33v1m0 19v1m0 40v1m0 3v1m0 6v1m0 9v1"/>
<path stroke="#b1aacb" stroke-width="1.08" shape-rendering="crispEdges" d="M40.54 298v2m0 3v1m0 7v1m0 1v1m0 1v1m0 1v1m0 1v1m0 1v2m0 1v1m0 4v1m0 1v1m0 9v2m0 4v2m0 16v2m0 14v1m0 8v1M41.62 319v1m0 9v1m0 1v1m0 39v1m0 7v1M42.69 299v1m0 4v1m0 1v1m0 33v1m0 2v1m0 12v1m0 15v1m0 2v2m0 5v1m0 1v1m0 1v1m0 2v1M43.77 325v2m0 2v1m0 9v1m0 3v1m0 6v1m0 5v1m0 3v1m0 13v1m0 12v1m0 1v1m0 2v1M44.85 300v2m0 9v1m0 7v1m0 3v1m0 2v1m0 8v1m0 1v1m0 4v1m0 3v2m0 1v1m0 1v1m0 12v1m0 9v1m0 4v2m0 1v1m0 1v1m0 6v1M45.92 299v1m0 10v1m0 3v1m0 4v1m0 6v2m0 14v1m0 1v1m0 13v2m0 6v1m0 2v1m0 8v5m0 9v1M47.00 299v1m0 26v2m0 3v1m0 24v1m0 15v1m0 8v1m0 7v1M48.08 331v1m0 36v1m0 2v2m0 2v1m0 2v1m0 2v1m0 4v1M49.15 358v1m0 12v1m0 14v1M50.23 299v1m0 1v1m0 7v1m0 5v1m0 4v1m0 1v1m0 2v1m0 6v1m0 3v3m0 3v1m0 6v2m0 1v5m0 2v3m0 9v1m0 2v1m0 5v2m0 4v1m0 3v1m0 1v1M51.31 332v2m0 1v1m0 4v2m0 1v1m0 10v1m0 1v1m0 2v1m0 2v1m0 5v1m0 4v2m0 9v1m0 1v1m0 1v1m0 1v1M52.38 300v1m0 25v1m0 2v2m0 1v1m0 4v2m0 11v2m0 1v1m0 1v2m0 4v1m0 11v1m0 12v1M53.46 298v2m0 1v1m0 30v1m0 1v2m0 14v1m0 3v2m0 12v1m0 1v1m0 9v1m0 1v1m0 3v1m0 4v1M56.44 244v1m0 49v2m0 38v1m0 36v3m0 16v1m0 1v1M57.52 236v1m0 8v1m0 25v2M58.60 236v2m0 15v2m0 13v1m0 1v1m0 23v1m0 90v2m0 4v1M59.68 246v1m0 1v1m0 1v1m0 13v1m0 29v1m0 11v1M60.76 246v1m0 6v1m0 2v1m0 7v1m0 7v1m0 8v1M61.84 258v1m0 27v1m0 8v1m0 14v1m0 80v1M62.92 272v1m0 49v1m0 6v1M64.00 237v2m0 4v1m0 4v1m0 1v1m0 2v1m0 4v1m0 9v1m0 15v1m0 9v1m0 33v2m0 15v1m0 41v1M66.16 245v1m0 2v1m0 122v1m0 17v1M67.23 235v3m0 18v1m0 7v1m0 30v1m0 7v1m0 9v1m0 71v1M68.31 235v4m0 2v1m0 29v1m0 33v1m0 26v1m0 28v1m0 24v1M69.39 236v1m0 59v1M70.47 245v1m0 1v1m0 2v2m0 8v2m0 2v1m0 2v1m0 4v1m0 4v1m0 100v1M71.55 236v1m0 15v1m0 6v1m0 10v2m0 9v1m0 13v3M72.63 237v1m0 5v1m0 142v1M73.71 238v1m0 1v1m0 7v1m0 23v1m0 2v1m0 11v1m0 99v1M74.79 241v1m0 1v1m0 73v1m0 5v2m0 6v1M75.87 298v1m0 21v1m0 1v1m0 6v2m0 49v1m0 11v1M76.95 237v1m0 7v1m0 11v1m0 1v1m0 57v1m0 9v1m0 3v1M78.03 236v2m0 15v1m0 75v2m0 40v1M79.11 238v1m0 18v1m0 7v1m0 7v1m0 43v1M80.19 235v3m0 91v1M81.27 235v1m0 83v1m0 9v1M83.43 235v1m0 6v1M84.51 247v1m0 22v1m0 2v1m0 1v1m0 28v2m0 4v1m0 2v1m0 4v2m0 1v1m0 5v2m0 1v1M85.59 259v1m0 9v1m0 1v1m0 37v2m0 2v1m0 1v1M86.67 249v1m0 1v1m0 6v1m0 5v1m0 3v1m0 6v1m0 22v1m0 5v1m0 4v1m0 2v1m0 75v1M87.75 237v1m0 2v1m0 4v2m0 14v1m0 9v1M88.83 237v1m0 5v1m0 1v1m0 9v2m0 9v1m0 3v1m0 8v1m0 7v1m0 9v1m0 13v1m0 1v1M89.90 271v3m0 3v1m0 8v2m0 104v1M90.98 238v1m0 11v1m0 7v1m0 7v3m0 19v1m0 103v1M92.06 248v1m0 2v1m0 4v1m0 3v2m0 5v1m0 9v1m0 8v1M93.14 248v2m0 5v1m0 4v1m0 2v1m0 1v1m0 5v1m0 1v1m0 110v1M94.22 252v2m0 4v1m0 2v2m0 7v2m0 10v1m0 4v2m0 8v1M95.30 250v1m0 7v2m0 4v1m0 5v2m0 1v1m0 3v1m0 24v1m0 83v1M96.38 239v1m0 12v1m0 22v2m0 9v2m0 5v1M97.46 256v2m0 12v1m0 2v1m0 3v1m0 108v1M98.54 236v1m0 22v1m0 11v2m0 3v1M100.70 262v1m0 3v1m0 1v1m0 2v1m0 3v1m0 108v1M101.78 261v2m0 16v1m0 1v1m0 104v1M102.86 236v1m0 1v1m0 60v1m0 5v3m0 1v1m0 6v1M103.94 257v1m0 14v1m0 1v1m0 24v2m0 1v1M105.02 306v3m0 7v1m0 13v1m0 42v1M106.10 236v1m0 4v1m0 3v1m0 6v1m0 47v1m0 5v2m0 2v1m0 19v2m0 7v1m0 1v1M108.26 244v1m0 63v1m0 83v1M109.34 254v1m0 17v1m0 91v1M110.42 246v1m0 5v1m0 3v1m0 1v1m0 3v1m0 56v1m0 6v1m0 41v1m0 5v1m0 4v3m0 2v1m0 1v1M111.50 236v3m0 2v1m0 14v3m0 5v1m0 8v1m0 12v1m0 1v1m0 18v1m0 50v1M112.57 329v1m0 14v1M113.65 236v1m0 21v2m0 70v2m0 7v1m0 3v1m0 15v1M114.73 283v1M115.81 378v1m0 8v1M116.89 245v1m0 13v1m0 83v1m0 34v1M117.97 345v1M119.05 241v1M120.13 259v1m0 101v1M121.21 261v1m0 110v1m0 13v1m0 5v1M122.29 271v1M123.37 253v1m0 19v1m0 12v1m0 44v1M124.45 341v1m0 1v1m0 3v1m0 3v1m0 5v2m0 2v1M125.53 340v1m0 1v1m0 5v1m0 3v2m0 1v1m0 5v1m0 2v1m0 2v1m0 18v1M126.61 339v1m0 5v1m0 10v1m0 1v1m0 13v1m0 4v2M127.69 333v1m0 4v3m0 2v1m0 2v1m0 1v1m0 13v2M128.77 271v1m0 1v1m0 12v1m0 9v2m0 37v1m0 9v1m0 5v1m0 1v3m0 1v2M129.85 262v1m0 70v2m0 2v2m0 2v1m0 7v1m0 11v1m0 3v2m0 6v1M130.93 265v1m0 68v1m0 4v2m0 10v1m0 2v1m0 1v1m0 9v2M132.01 271v1m0 63v3m0 12v1m0 6v4m0 1v1m0 9v1M133.09 279v1m0 53v1m0 1v1m0 19v2m0 3v1m0 4v1m0 1v1m0 7v1m0 16v1M134.17 313v1m0 19v1m0 19v2m0 4v3M135.24 298v1m0 1v1m0 2v1m0 4v1m0 2v1m0 62v1m0 17v1M136.32 308v1m0 25v1m0 16v1m0 16v1m0 3v3m0 3v1m0 13v1M137.40 307v1m0 4v1m0 43v1m0 6v3m0 2v2m0 1v1m0 4v1m0 1v1m0 7v1m0 1v1M138.48 338v2m0 3v1m0 1v1m0 18v1M139.56 307v1m0 34v1m0 2v1M140.64 272v1m0 3v1m0 22v1m0 43v2m0 9v1m0 2v1M141.72 269v1m0 11v1m0 47v1m0 8v1m0 5v2m0 8v1m0 27v1M142.80 348v1m0 2v1m0 4v1m0 4v2M143.88 262v1m0 4v1m0 5v1m0 1v1m0 3v1m0 1v1m0 53v1m0 13v1m0 1v1m0 3v2m0 2v1m0 1v2m0 1v1m0 2v1M144.96 337v1m0 8v4m0 1v1m0 14v2m0 16v1"/>
<path stroke="#897fb0" stroke-width="1.08" shape-rendering="crispEdges" d="M40.54 300v1m0 19v1m0 11v1m0 3v3m0 5v2m0 4v1m0 1v3m0 6v2M41.62 381v1M42.69 380v1m0 11v1M44.85 333v2m0 3v1m0 1v1m0 3v1m0 7v4m0 1v1m0 2v1m0 10v2m0 16v1M45.92 300v2m0 9v1m0 20v2m0 3v1m0 2v1m0 11v1m0 1v1m0 5v1m0 6v1m0 3v1m0 19v1M47.00 371v1M48.08 319v2m0 58v1M50.23 330v1M51.31 375v1m0 5v2m0 6v1m0 1v2M59.68 258v1M64.00 252v1M70.47 258v1m0 12v1M71.55 235v1m0 2v1M72.63 236v1m0 3v1M73.71 259v1M74.79 238v1M78.03 247v1m0 2v2m0 2v1m0 3v1m0 3v1m0 1v2m0 2v1m0 2v2m0 1v3M79.11 236v1m0 15v1m0 8v2m0 3v3m0 1v1m0 1v1m0 4v1M80.19 251v2m0 7v1m0 11v3M81.27 247v2m0 3v2m0 2v1m0 3v1m0 1v2m0 1v1m0 1v1m0 1v1m0 4v4M82.35 247v1m0 8v1m0 2v1m0 7v1m0 6v1M83.43 247v1m0 12v1m0 3v1m0 5v2m0 2v3M84.51 246v1m0 1v1m0 1v3m0 2v2m0 1v1m0 1v2m0 3v2m0 2v1M86.67 300v1m0 13v1M87.75 259v1M88.83 241v1m0 5v1m0 3v2m0 7v1m0 1v1m0 13v1M90.98 259v1M92.06 249v2m0 7v1M93.14 246v1m0 17v1m0 1v1M95.30 255v1m0 6v1m0 13v1M102.86 304v1M103.94 301v1m0 2v1m0 2v1m0 1v1M105.02 386v1M106.10 309v1M124.45 333v1M125.53 333v1m0 5v1m0 5v2m0 9v1m0 6v1M127.69 347v1m0 1v1m0 1v1m0 2v3M128.77 343v1m0 3v1m0 19v1M129.85 339v2m0 13v1m0 1v1m0 10v1M132.01 338v2m0 3v1m0 10v2M133.09 359v1M134.17 334v1M135.24 301v1m0 8v1M137.40 314v1m0 60v1m0 16v1M138.48 340v1m0 15v1M141.72 279v1m0 59v1m0 15v2M143.88 344v2m0 2v1m0 9v1M144.96 344v2m0 12v1"/>
<path stroke="#c4bfd8" stroke-width="1.08" shape-rendering="crispEdges" d="M40.54 301v1m0 12v1m0 8v1m0 1v1m0 20v1m0 16v2m0 6v1m0 4v1m0 3v1m0 5v2m0 3v1M41.62 300v1m0 10v4m0 1v2m0 12v1m0 2v1m0 3v4m0 4v1m0 5v1m0 3v2m0 1v1m0 9v1m0 3v1m0 9v1m0 6v4M42.69 301v2m0 4v1m0 3v2m0 10v1m0 6v1m0 7v1m0 15v1m0 14v1m0 3v1m0 4v1m0 4v1m0 3v1m0 2v1M43.77 300v1m0 9v2m0 7v5m0 13v2m0 2v1m0 9v3m0 1v1m0 3v1m0 1v3m0 1v1m0 1v1m0 1v1m0 1v3m0 4v1m0 2v2m0 2v1m0 2v1m0 2v1M44.85 299v1m0 10v1m0 4v1m0 5v2m0 1v1m0 2v2m0 2v1m0 31v1m0 2v2m0 5v1m0 2v1m0 11v1M45.92 304v1m0 2v3m0 2v1m0 2v1m0 6v1m0 6v1m0 1v1m0 14v1m0 1v2m0 13v3m0 4v1m0 1v4m0 11v2m0 1v1M47.00 300v1m0 10v1m0 1v1m0 4v2m0 4v1m0 3v1m0 1v1m0 4v1m0 2v2m0 12v1m0 8v1m0 11v1m0 4v2m0 5v1m0 2v1m0 1v2M48.08 298v3m0 2v1m0 17v5m0 1v1m0 1v2m0 1v2m0 6v1m0 12v1m0 1v6m0 19v1m0 1v1m0 4v1m0 1v1M49.15 339v1m0 5v1m0 9v3m0 17v1m0 5v1M50.23 298v1m0 3v3m0 6v1m0 7v1m0 6v1m0 4v1m0 2v1m0 5v1m0 2v1m0 2v3m0 2v1m0 10v1m0 6v1m0 3v1m0 1v1m0 2v2m0 7v3M51.31 300v1m0 2v1m0 9v1m0 5v1m0 11v1m0 2v1m0 1v1m0 2v1m0 6v1m0 4v1m0 3v1m0 2v1m0 8v1m0 1v2m0 7v2m0 5v1m0 1v1M52.38 319v1m0 1v1m0 9v1m0 1v1m0 2v1m0 3v2m0 1v1m0 2v1m0 1v1m0 3v1m0 6v1m0 2v1m0 3v1m0 4v2m0 2v1m0 3v3m0 8v1M53.46 310v2m0 1v1m0 2v1m0 13v2m0 5v1m0 10v1m0 2v3m0 6v1m0 10v1m0 1v1m0 5v1m0 1v1m0 10v1M56.44 235v1m0 1v1m0 5v1m0 4v1m0 32v1m0 1v1m0 26v1m0 32v1m0 15v1m0 18v1m0 4v1m0 1v2m0 4v1M57.52 241v4m0 3v1m0 1v1m0 1v1m0 41v1M58.60 246v1m0 3v1m0 4v1m0 2v2m0 6v1m0 2v1m0 1v1m0 2v1m0 7v2m0 11v1m0 8v1m0 29v1m0 40v1m0 2v1m0 4v1m0 3v1m0 1v1m0 2v1M59.68 237v1m0 7v1m0 3v1m0 1v1m0 5v1m0 1v1m0 2v1m0 8v1m0 9v1m0 9v1m0 3v1m0 2v2m0 14v1M60.76 236v2m0 7v1m0 6v1m0 1v1m0 12v1m0 1v1m0 1v1m0 1v1m0 3v1m0 7v1m0 81v1M61.84 237v1m0 21v1m0 7v1m0 4v1m0 6v1m0 1v3m0 1v1m0 100v2M62.92 236v1m0 4v2m0 6v1m0 15v1m0 15v1m0 12v1m0 33v1M64.00 235v2m0 2v1m0 1v1m0 2v1m0 4v1m0 4v1m0 11v1m0 2v1m0 1v2m0 9v1m0 2v1m0 3v1m0 1v1m0 1v1m0 1v1m0 23v1m0 10v1m0 3v1m0 8v1m0 39v1m0 1v2m0 1v1M65.08 250v1m0 15v1m0 62v1M66.16 237v1m0 5v2m0 4v2m0 3v1m0 1v1m0 1v2m0 8v1m0 2v1m0 1v1m0 5v3m0 12v1m0 8v1m0 5v1m0 20v1m0 38v1m0 2v1m0 4v1m0 8v1m0 1v1m0 1v3M67.23 240v1m0 11v1m0 1v2m0 1v1m0 2v4m0 4v3m0 3v1m0 5v2m0 14v1m0 2v1m0 6v1m0 64v1m0 14v2M68.31 242v1m0 1v4m0 1v1m0 1v1m0 6v1m0 10v2m0 1v1m0 1v2m0 5v1m0 21v2m0 5v1m0 2v1m0 1v1m0 18v2m0 4v1m0 4v1m0 13v1m0 2v1m0 1v2m0 1v1m0 14v1m0 4v1m0 4v1M69.39 237v1m0 2v1m0 56v1m0 15v1M70.47 235v4m0 1v1m0 7v1m0 3v1m0 3v1m0 9v1m0 1v1m0 4v1m0 53v1m0 57v2M71.55 237v1m0 1v2m0 2v2m0 1v1m0 11v1m0 1v2m0 13v1m0 18v1M72.63 235v1m0 6v1m0 1v2m0 2v1m0 26v1m0 21v1m0 49v1m0 39v1M73.71 235v2m0 6v3m0 6v1m0 7v1m0 1v1m0 3v1m0 22v1m0 5v1m0 1v1m0 21v1m0 12v1m0 48v1M74.79 246v1m0 12v1m0 36v1m0 21v1m0 1v1m0 1v1m0 6v1m0 29v1M75.87 237v2m0 4v1m0 1v1m0 57v1m0 2v3m0 1v1m0 1v1m0 5v1m0 2v1m0 6v1M76.95 235v2m0 1v1m0 19v1m0 10v1m0 11v1m0 36v3m0 1v1m0 2v1m0 3v1M78.03 238v1m0 78v1m0 4v1m0 8v1m0 57v1M79.11 235v1m0 38v1m0 1v1m0 45v1m0 7v1M80.19 238v2m0 2v1m0 38v1m0 35v1m0 5v1m0 6v2M81.27 318v1m0 1v1m0 1v1m0 8v1M82.35 260v1m0 16v1M83.43 237v1m0 2v1m0 2v2m0 77v1M84.51 235v1m0 1v1m0 46v1m0 14v1m0 1v1m0 9v1m0 10v1m0 1v1M85.59 238v1m0 1v1m0 7v1m0 1v1m0 1v1m0 1v1m0 6v2m0 36v1m0 1v1m0 2v2m0 6v1m0 1v1M86.67 241v1m0 3v1m0 11v1m0 1v1m0 1v1m0 1v1m0 3v1m0 9v1m0 27v1m0 1v1m0 19v1m0 1v1m0 56v2M87.75 241v1m0 1v1m0 6v2m0 1v2m0 2v1m0 6v1m0 1v1m0 1v2m0 5v1m0 1v1m0 8v2M88.83 235v1m0 6v1m0 1v1m0 1v1m0 1v1m0 4v1m0 32v1m0 4v1M89.90 240v1m0 11v1m0 4v1m0 1v1m0 4v1m0 4v1m0 9v1m0 1v1m0 3v1m0 6v3m0 72v1m0 20v1M90.98 235v2m0 8v1m0 3v1m0 2v1m0 1v1m0 15v1m0 1v2m0 6v1m0 10v1m0 82v1m0 9v1m0 3v1M92.06 241v1m0 3v1m0 1v1m0 4v1m0 2v1m0 10v1m0 5v1m0 3v1m0 10v1M93.14 252v1m0 3v1m0 13v1m0 6v1m0 3v1m0 92v1M94.22 237v1m0 17v1m0 3v1m0 6v1m0 2v1m0 5v1m0 1v2m0 4v1m0 1v2m0 8v1M95.30 235v1m0 9v1m0 2v2m0 1v1m0 1v1m0 2v1m0 3v1m0 7v1m0 3v1m0 14v1m0 9v1m0 2v1m0 2v1m0 5v1m0 1v1m0 73v1M96.38 249v1m0 1v1m0 6v2m0 2v1m0 6v1m0 7v1m0 2v2m0 8v1m0 1v1m0 92v1M97.46 250v2m0 1v2m0 3v1m0 3v1m0 8v2m0 2v2m0 22v2m0 12v2m0 69v2M98.54 235v1m0 17v1m0 8v1m0 1v1m0 1v1m0 2v2m0 2v1m0 1v1m0 1v1m0 2v1m0 99v1M99.62 259v2m0 14v1m0 10v1m0 5v1m0 4v1M100.70 249v1m0 2v2m0 2v1m0 3v1m0 8v1m0 6v1m0 36v2m0 2v1m0 6v1m0 2v1m0 1v2m0 37v1M101.78 238v1m0 25v1m0 23v1m0 37v1m0 2v1M102.86 237v1m0 15v1m0 47v2m0 7v1m0 6v1m0 2v1m0 1v1m0 3v4m0 1v1m0 39v1m0 2v1m0 3v1m0 8v1M103.94 235v1m0 5v1m0 1v2m0 1v1m0 4v2m0 3v1m0 1v2m0 38v1m0 13v3m0 1v1m0 22v1M105.02 236v1m0 3v1m0 12v1m0 33v1m0 4v1m0 1v1m0 3v3m0 9v1m0 34v1m0 23v1m0 4v2m0 1v1m0 4v1M106.10 235v1m0 2v1m0 1v1m0 3v1m0 1v1m0 4v1m0 3v1m0 2v1m0 13v2m0 1v1m0 25v3m0 1v1m0 2v1m0 4v3m0 7v1m0 8v1m0 7v1m0 1v1m0 13v1m0 4v1m0 16v1M107.18 258v1m0 20v1m0 6v3m0 3v1m0 75v1m0 18v1M108.26 235v1m0 71v1m0 64v2m0 3v2M109.34 235v1m0 16v2m0 5v1m0 5v2m0 6v1m0 9v1m0 2v2M110.42 253v1m0 3v1m0 2v1m0 14v1m0 10v3m0 5v1m0 2v1m0 22v1m0 1v1m0 2v1m0 1v1m0 3v1m0 40v1m0 9v1m0 2v1m0 1v1m0 4v1M111.50 235v1m0 6v1m0 3v1m0 3v3m0 15v1m0 2v2m0 6v1m0 1v1m0 12v2m0 5v1m0 1v1m0 2v1m0 1v1m0 18v1m0 2v1m0 8v1m0 14v1m0 10v1M112.57 252v1m0 6v1m0 2v1m0 49v1m0 19v1m0 38v2M113.65 237v1m0 14v1m0 15v1m0 63v1m0 18v1m0 8v1M114.73 294v4M115.81 332v1m0 6v1m0 3v1m0 28v1m0 1v1m0 4v1M116.89 251v1m0 9v2m0 4v1m0 1v2m0 4v1m0 18v1m0 82v1m0 3v1M117.97 294v1m0 2v1m0 38v1m0 7v1m0 1v1M119.05 240v1m0 16v1m0 3v2m0 7v1m0 71v2m0 17v1M120.13 235v1m0 16v2m0 4v1m0 1v2m0 38v1m0 12v1m0 19v1m0 9v1m0 5v2m0 27v1m0 5v1M121.21 245v1m0 2v2m0 21v1m0 60v1m0 10v1m0 3v1m0 6v3m0 14v1m0 4v1m0 1v1M122.29 236v1m0 64v1m0 76v1m0 13v1M123.37 237v1m0 24v1m0 8v1m0 2v1m0 3v1m0 2v1m0 5v2m0 7v2m0 19v1m0 1v1m0 4v1m0 5v1m0 14v1m0 17v1m0 16v1M124.45 334v2m0 3v2m0 1v1m0 1v3m0 1v1m0 1v1m0 1v1m0 1v2m0 6v3M125.53 329v1m0 5v1m0 1v2m0 5v1m0 14v1m0 2v1m0 2v1m0 10v1m0 1v1M126.61 272v1m0 61v1m0 6v3m0 2v2m0 6v2m0 4v1m0 15v1m0 14v1M127.69 323v1m0 10v1m0 9v2m0 4v1m0 2v1m0 10v1m0 2v1m0 8v1M128.77 267v1m0 4v1m0 6v1m0 5v1m0 8v1m0 45v3m0 1v1m0 3v1m0 1v1m0 9v4m0 1v2M129.85 265v2m0 3v1m0 1v1m0 8v1m0 9v1m0 40v1m0 2v2m0 9v1m0 1v1m0 1v1m0 1v2m0 8v1m0 9v1m0 1v2m0 12v1M130.93 263v1m0 3v4m0 4v1m0 16v1m0 45v1m0 3v1m0 5v1m0 3v1m0 8v1M132.01 272v1m0 8v1m0 14v1m0 47v1m0 2v3m0 1v1m0 1v1m0 17v1m0 2v1m0 1v1M133.09 285v1m0 27v1m0 22v2m0 3v1m0 1v1m0 1v1m0 3v1m0 1v1m0 1v2m0 3v1m0 5v1m0 6v1m0 6v1m0 5v3M134.17 271v1m0 13v1m0 5v2m0 3v1m0 13v1m0 15v1m0 10v3m0 3v2m0 2v5m0 3v1m0 2v1m0 7v3m0 2v1m0 7v1m0 11v2M135.24 270v1m0 6v1m0 21v1m0 2v1m0 13v1m0 17v1m0 6v1m0 7v1m0 5v2m0 5v1m0 3v2m0 3v3m0 1v1m0 3v1M136.32 281v1m0 18v1m0 8v1m0 11v2m0 4v2m0 4v1m0 6v1m0 14v2m0 2v3m0 9v1m0 3v1m0 3v1m0 1v1m0 4v3m0 2v1M137.40 272v1m0 25v2m0 1v1m0 1v1m0 4v1m0 10v1m0 9v1m0 3v2m0 8v1m0 1v3m0 3v1m0 1v1m0 3v2m0 1v1m0 1v1m0 4v1m0 11v3m0 7v1M138.48 273v1m0 5v1m0 16v1m0 30v1m0 4v1m0 2v2m0 10v1m0 4v2m0 1v1m0 2v2m0 10v1m0 3v2m0 9v1M139.56 282v1m0 30v1m0 25v2m0 18v3m0 22v1M140.64 273v1m0 13v1m0 10v1m0 1v2m0 1v1m0 8v1m0 17v1m0 7v2m0 5v1m0 5v1m0 6v1m0 3v1m0 2v2m0 16v1M141.72 267v2m0 3v2m0 29v1m0 9v1m0 3v1m0 2v1m0 4v3m0 2v1m0 11v1m0 3v2m0 1v1m0 7v2m0 1v2m0 6v1M142.80 269v1m0 3v1m0 26v1m0 10v1m0 25v1m0 3v1m0 1v1m0 5v2m0 1v1m0 27v1m0 4v1M143.88 264v1m0 3v1m0 5v1m0 5v1m0 53v1m0 1v4m0 6v2m0 5v1m0 6v1m0 4v1m0 19v1M144.96 281v1m0 31v1m0 12v1m0 2v2m0 5v1m0 2v2m0 9v1m0 1v1m0 7v1m0 1v1m0 1v1"/>
<path stroke="#d8d4e5" stroke-width="1.08" shape-rendering="crispEdges" d="M40.54 302v1m0 2v1m0 1v4m0 1v1m0 14v2m0 40v1m0 2v2m0 1v1m0 2v1m0 3v1m0 2v1m0 6v1M41.62 287v1m0 13v1m0 1v2m0 2v1m0 10v1m0 4v1m0 1v2m0 5v1m0 3v1m0 4v1m0 2v1m0 3v1m0 1v1m0 1v3m0 2v1m0 2v3m0 3v2m0 2v1m0 2v1m0 1v1m0 2v1m0 4v1m0 4v1M42.69 305v1m0 3v1m0 3v3m0 5v2m0 3v1m0 5v1m0 3v2m0 1v1m0 1v1m0 2v2m0 7v1m0 1v1m0 2v2m0 8v1m0 1v1m0 3v1M43.77 299v1m0 3v1m0 10v1m0 1v3m0 8v1m0 5v1m0 2v1m0 3v1m0 1v1m0 1v1m0 1v1m0 1v2m0 7v2m0 5v1m0 1v1m0 1v1m0 1v1m0 8v1m0 3v2M44.85 265v1m0 2v1m0 34v1m0 3v1m0 4v3m0 10v1m0 39v1m0 2v3m0 10v1m0 1v1m0 6v1m0 1v1M45.92 302v1m0 13v2m0 2v1m0 2v2m0 22v1m0 28v2m0 5v4m0 2v1M47.00 310v1m0 6v1m0 2v1m0 1v1m0 2v1m0 3v1m0 2v2m0 6v1m0 2v1m0 1v1m0 9v1m0 3v2m0 6v2m0 5v1m0 1v2m0 4v1m0 1v1m0 2v1M48.08 259v1m0 44v3m0 8v2m0 1v1m0 17v1m0 1v1m0 4v2m0 1v1m0 5v1m0 8v2m0 4v1m0 20v1m0 1v2M49.15 299v3m0 5v1m0 2v1m0 8v1m0 1v2m0 9v3m0 3v1m0 4v2m0 6v1m0 7v1m0 10v1m0 1v1m0 7v1m0 6v3m0 1v1M50.23 254v1m0 32v1m0 19v2m0 1v1m0 2v2m0 1v1m0 1v1m0 8v1m0 1v1m0 3v1m0 1v1m0 5v1m0 2v1m0 12v1m0 5v1m0 2v3m0 3v1m0 3v1m0 5v1M51.31 298v2m0 10v3m0 8v2m0 3v1m0 3v1m0 6v2m0 6v1m0 1v1m0 2v1m0 1v1m0 4v1m0 3v1m0 1v1m0 2v1M52.38 299v1m0 1v3m0 6v2m0 5v1m0 4v1m0 2v1m0 18v1m0 19v2m0 10v1m0 1v1m0 3v1m0 1v2m0 1v2m0 2v2M53.46 304v1m0 4v1m0 4v2m0 3v1m0 2v1m0 6v1m0 6v1m0 7v3m0 2v1m0 7v2m0 2v1m0 12v1m0 3v1m0 5v2m0 1v4M56.44 238v1m0 2v2m0 3v1m0 5v1m0 5v1m0 7v1m0 3v3m0 6v1m0 2v1m0 2v1m0 1v3m0 2v1m0 3v1m0 2v1m0 9v1m0 3v2m0 29v1m0 22v1m0 8v1m0 5v1m0 1v1m0 2v1m0 1v1M57.52 235v1m0 13v1m0 3v1m0 7v2m0 14v1m0 3v1M58.60 235v1m0 6v1m0 2v1m0 2v1m0 7v1m0 5v1m0 1v1m0 7v2m0 1v1m0 36v1m0 30v1m0 24v1m0 8v1m0 3v2m0 1v1m0 3v1m0 1v1M59.68 235v2m0 4v1m0 5v1m0 6v1m0 1v1m0 4v1m0 4v1m0 2v2m0 2v1m0 5v1m0 2v1m0 1v1m0 5v1m0 1v1m0 14v1m0 2v1m0 2v1m0 72v1M60.76 238v1m0 2v1m0 1v1m0 5v1m0 7v1m0 1v1m0 1v1m0 6v1m0 25v2m0 14v1m0 34v1m0 25v1M61.84 236v1m0 1v1m0 7v1m0 3v1m0 1v1m0 1v1m0 14v1m0 1v1m0 1v1m0 13v1m0 1v3m0 1v1m0 15v1m0 3v1m0 20v2m0 7v3m0 13v1m0 7v2m0 2v1m0 1v1m0 1v1m0 1v2m0 4v1m0 5v2M62.92 235v1m0 1v1m0 10v1m0 3v1m0 1v1m0 2v1m0 1v1m0 2v1m0 5v1m0 1v1m0 22v1m0 16v1m0 6v2m0 8v1m0 2v1m0 40v1m0 17v1m0 1v1M64.00 240v1m0 1v1m0 12v1m0 8v1m0 2v1m0 5v1m0 1v1m0 4v1m0 6v1m0 8v2m0 22v1m0 5v2m0 8v1m0 2v1m0 9v1m0 14v1m0 1v2m0 13v1m0 2v1m0 4v3M65.08 238v1m0 1v2m0 1v1m0 4v1m0 4v1m0 4v1m0 22v1m0 3v1m0 3v1m0 15v1m0 4v1m0 2v1m0 1v2m0 69v1m0 1v1M66.16 236v1m0 1v1m0 3v1m0 4v1m0 3v1m0 5v1m0 4v1m0 2v2m0 2v1m0 14v2m0 7v1m0 1v1m0 14v1m0 8v1m0 9v1m0 38v1m0 4v4m0 6v1m0 1v1m0 1v1M67.23 242v2m0 1v6m0 2v1m0 17v1m0 1v1m0 3v1m0 4v1m0 4v1m0 16v1m0 4v3m0 3v1m0 1v2m0 7v3m0 1v1m0 46v1m0 5v2M68.31 243v1m0 8v3m0 4v1m0 2v2m0 4v1m0 4v1m0 2v2m0 8v1m0 2v1m0 4v1m0 1v3m0 2v1m0 5v2m0 2v2m0 1v1m0 1v1m0 2v1m0 5v2m0 1v1m0 9v2m0 3v1m0 2v2m0 2v1m0 7v1m0 1v1m0 13v1m0 3v1m0 4v3m0 3v1M69.39 244v1m0 13v1m0 13v1m0 15v1m0 4v2m0 11v1m0 5v1m0 58v1m0 20v1M70.47 241v1m0 4v1m0 6v3m0 7v1m0 1v1m0 4v1m0 4v1m0 42v1m0 55v1m0 2v1m0 9v1m0 4v1M71.55 241v2m0 2v1m0 2v2m0 7v1m0 10v2m0 4v1m0 5v1m0 20v1m0 16v2m0 52v1m0 13v2M72.63 239v1m0 1v1m0 15v2m0 11v1m0 5v1m0 17v1m0 37v2m0 10v1m0 3v1m0 7v1m0 17v1m0 15v1M73.71 237v1m0 8v1m0 2v1m0 5v3m0 3v1m0 1v2m0 6v1m0 5v1m0 1v1m0 8v1m0 5v1m0 1v1m0 7v1m0 1v1m0 6v1m0 2v1m0 3v1m0 8v1m0 3v1m0 6v1m0 13v1m0 4v1m0 14v1m0 3v1m0 4v2m0 1v1m0 2v1M74.79 239v1m0 5v1m0 41v1m0 6v1m0 26v1m0 4v1m0 3v1m0 29v1m0 10v1m0 6v1M75.87 236v1m0 9v1m0 7v1m0 1v1m0 3v2m0 2v1m0 3v2m0 2v2m0 37v1m0 4v1m0 6v1m0 1v2m0 4v1m0 6v1m0 13v1m0 1v2m0 23v1m0 9v1M76.95 240v1m0 2v2m0 1v1m0 13v2m0 9v1m0 56v1M78.03 235v1m0 43v1m0 2v1m0 37v1m0 49v1M79.11 240v2m0 1v1m0 50v1m0 25v2m0 5v2m0 2v1M80.19 240v2m0 1v1m0 34v1m0 3v1m0 4v1m0 30v4m0 6v1m0 41v1m0 1v1M81.27 238v1m0 5v1m0 39v1m0 9v1m0 48v1M82.35 317v1m0 1v2m0 8v2M83.43 238v2m0 44v1m0 35v1m0 68v1M84.51 236v1m0 1v1m0 5v1m0 36v2m0 11v2m0 2v1m0 3v1m0 3v3m0 3v1m0 1v1m0 1v2m0 2v1m0 4v2m0 51v1M85.59 236v1m0 8v3m0 5v1m0 1v4m0 4v5m0 7v1m0 5v1m0 4v2m0 4v1m0 2v1m0 1v1m0 8v2m0 8v1M86.67 236v1m0 9v1m0 6v1m0 2v1m0 5v1m0 3v1m0 3v3m0 8v1m0 4v2m0 1v1m0 35v1m0 4v1m0 38v1m0 4v1M87.75 238v1m0 3v1m0 4v3m0 5v2m0 3v1m0 2v1m0 3v1m0 4v1m0 1v1m0 1v1m0 2v1m0 1v2m0 21v1m0 4v2M88.83 281v2m0 1v2m0 4v1m0 1v3m0 1v1m0 44v2m0 9v1m0 8v1m0 5v1m0 19v1M89.90 245v1m0 2v2m0 8v1m0 2v2m0 3v1m0 1v1m0 1v1m0 3v2m0 2v1m0 1v1m0 2v2m0 3v3m0 6v1m0 1v1m0 10v1m0 12v1m0 1v1m0 22v1m0 1v1m0 3v1m0 6v1M90.98 239v1m0 3v1m0 12v1m0 3v1m0 1v3m0 10v1m0 1v1m0 1v1m0 4v1m0 1v2m0 1v1m0 9v1m0 9v2m0 3v1m0 14v1m0 41v2m0 2v1m0 1v2M92.06 236v1m0 1v1m0 1v1m0 21v1m0 2v1m0 7v3m0 3v1m0 2v1m0 26v2m0 78v1M93.14 238v1m0 8v1m0 3v1m0 1v2m0 2v1m0 10v1m0 6v2m0 6v1m0 2v3m0 5v2m0 81v2m0 9v1M94.22 250v2m0 2v1m0 1v1m0 3v1m0 4v1m0 2v1m0 3v3m0 4v2m0 3v1m0 4v1m0 1v1m0 1v1m0 14v1M95.30 237v1m0 8v1m0 16v1m0 5v1m0 10v2m0 4v1m0 7v3m0 4v1m0 6v1m0 1v1m0 2v1M96.38 245v1m0 4v1m0 2v1m0 6v1m0 2v2m0 2v2m0 1v1m0 2v2m0 3v1m0 4v1m0 5v1m0 1v1m0 2v1m0 1v1m0 26v1m0 5v1m0 47v1M97.46 252v1m0 6v3m0 3v2m0 20v1m0 13v5m0 6v1m0 79v1M98.54 237v2m0 2v1m0 3v1m0 4v1m0 1v1m0 1v1m0 3v1m0 1v1m0 7v1m0 5v1m0 4v1m0 7v1m0 25v1m0 71v1m0 6v1M99.62 241v1m0 19v1m0 7v2m0 1v1m0 8v1m0 1v1m0 5v2m0 2v1m0 35v1M100.70 245v1m0 4v2m0 2v2m0 1v3m0 4v2m0 1v1m0 2v1m0 1v2m0 3v1m0 22v1m0 11v1m0 10v1m0 1v1m0 2v1m0 2v1m0 43v1m0 1v3m0 3v1m0 1v1m0 2v2m0 1v1M101.78 239v1m0 1v1m0 14v2m0 1v1m0 6v1m0 4v3m0 1v1m0 1v1m0 4v1m0 28v1m0 8v1m0 2v1m0 3v2m0 1v1m0 41v1m0 11v1M102.86 235v1m0 5v1m0 2v2m0 9v1m0 2v1m0 7v1m0 21v1m0 9v1m0 9v1m0 2v5m0 3v1m0 1v1m0 1v3m0 4v1m0 4v1m0 3v2m0 4v1m0 7v1m0 1v1m0 16v2m0 1v1m0 3v1m0 5v1m0 2v2M103.94 238v1m0 1v1m0 1v1m0 2v1m0 3v1m0 3v3m0 4v2m0 2v1m0 2v1m0 5v1m0 1v1m0 10v2m0 4v1m0 12v1m0 9v1m0 24v1m0 16v1m0 6v1m0 2v1m0 15v1M105.02 237v2m0 3v1m0 1v1m0 40v2m0 1v1m0 2v1m0 1v1m0 2v2m0 3v1m0 11v1m0 1v1m0 10v1m0 4v1m0 9v3m0 17v1m0 6v1m0 7v1m0 1v1m0 1v2m0 1v2M106.10 243v1m0 9v2m0 4v1m0 4v1m0 2v2m0 5v1m0 18v2m0 3v2m0 11v1m0 4v1m0 4v1m0 11v1m0 4v1m0 6v1m0 1v1m0 6v2m0 1v1m0 7v3m0 4v1m0 7v1m0 2v1m0 2v1m0 5v1M107.18 236v1m0 7v1m0 12v1m0 26v1m0 87v1m0 1v2m0 2v1m0 4v1M108.26 236v2m0 2v1m0 1v2m0 12v1m0 1v1m0 14v1m0 13v1m0 13v1m0 7v1m0 1v1m0 26v3m0 4v1m0 7v1m0 14v2m0 5v2m0 2v2m0 6v1M109.34 246v1m0 10v2m0 8v1m0 11v1m0 5v1m0 2v1m0 12v1m0 38v2m0 1v1m0 2v1M110.42 245v1m0 2v2m0 9v1m0 4v1m0 1v2m0 4v2m0 5v1m0 13v1m0 27v1m0 6v3m0 10v1m0 14v1m0 5v2m0 5v3m0 1v1m0 1v3m0 5v1m0 4v1m0 1v1M111.50 239v1m0 3v2m0 16v2m0 4v1m0 1v1m0 6v1m0 3v1m0 3v1m0 4v2m0 20v1m0 1v1m0 15v1m0 10v2m0 9v1m0 3v1m0 5v1m0 4v1M112.57 251v1m0 4v2m0 3v1m0 51v1m0 14v1m0 9v1m0 3v2m0 6v1m0 23v4m0 1v2M113.65 242v2m0 2v1m0 6v2m0 7v1m0 3v2m0 47v1m0 4v1m0 1v1m0 6v1m0 7v1m0 7v2m0 1v1m0 12v2m0 10v2m0 16v1M114.73 257v2m0 2v1m0 22v1m0 1v1m0 1v1m0 2v2m0 39v1m0 12v1m0 13v1M115.81 263v1m0 48v1m0 20v1m0 8v1m0 2v1m0 1v1m0 2v1m0 5v1m0 4v1m0 2v1m0 6v1m0 4v1m0 8v1m0 2v2m0 1v1M116.89 236v2m0 8v1m0 1v1m0 1v1m0 2v1m0 3v2m0 4v2m0 1v1m0 4v1m0 1v2m0 9v1m0 47v1m0 5v2m0 4v1m0 3v1m0 22v3m0 6v1m0 8v1M117.97 241v1m0 16v2m0 72v1m0 1v2m0 7v1m0 4v1M119.05 236v3m0 4v2m0 7v1m0 5v1m0 1v1m0 2v1m0 9v1m0 2v1m0 31v1m0 1v2m0 3v2m0 15v1m0 7v2m0 4v1m0 4v1m0 8v1m0 17v3M120.13 236v2m0 11v3m0 5v1m0 4v1m0 6v2m0 1v1m0 15v1m0 5v2m0 2v1m0 9v1m0 7v1m0 15v1m0 1v2m0 2v1m0 1v1m0 1v1m0 1v1m0 3v1m0 10v1m0 7v1m0 5v1m0 3v1M121.21 235v1m0 4v4m0 26v1m0 1v4m0 20v1m0 36v1m0 5v1m0 2v1m0 1v1m0 1v1m0 1v1m0 3v1m0 7v1m0 13v2m0 4v1M122.29 253v2m0 17v1m0 31v2m0 4v3m0 12v1m0 3v1m0 2v2m0 13v1m0 8v1m0 15v1m0 2v1m0 4v1m0 4v2M123.37 238v1m0 18v1m0 1v3m0 2v3m0 12v1m0 2v1m0 2v1m0 5v5m0 4v2m0 16v1m0 3v1m0 2v1m0 1v1m0 1v1m0 8v2m0 1v1m0 1v2m0 1v1m0 4v1m0 4v1m0 17v1m0 3v1M124.45 305v1m0 26v1m0 4v1m0 15v1m0 6v1m0 4v2m0 13v1M125.53 317v1m0 7v1m0 6v1m0 3v1m0 40v1m0 1v1m0 5v1m0 1v1M126.61 323v1m0 20v1m0 4v1m0 1v1m0 7v1m0 2v2m0 1v2m0 4v1m0 12v2M127.69 331v2m0 4v1m0 19v1m0 2v1m0 5v1m0 7v1m0 3v1M128.77 264v2m0 3v1m0 5v1m0 1v2m0 1v1m0 2v1m0 3v1m0 7v1m0 23v1m0 5v1m0 8v1m0 1v1m0 1v1m0 10v1m0 14v1M129.85 245v1m0 17v1m0 3v1m0 3v1m0 4v1m0 6v1m0 4v2m0 4v1m0 33v1m0 1v1m0 12v2m0 2v1m0 3v1m0 5v2m0 4v2m0 6v1m0 5v3m0 3v5m0 4v1M130.93 262v1m0 3v1m0 7v1m0 1v1m0 4v1m0 53v1m0 7v1m0 2v1m0 2v2m0 7v3m0 1v2m0 1v1m0 2v1m0 2v2m0 4v1m0 8v1M132.01 327v1m0 18v1m0 5v1m0 22v1m0 3v1m0 1v2m0 1v1m0 1v1M133.09 272v1m0 18v2m0 1v3m0 3v2m0 1v1m0 5v2m0 27v1m0 9v1m0 1v1m0 1v1m0 4v1m0 8v1m0 2v1m0 2v1m0 3v1m0 2v1M134.17 272v1m0 2v1m0 5v1m0 5v1m0 2v1m0 3v1m0 2v1m0 2v2m0 7v1m0 10v1m0 8v1m0 5v2m0 8v2m0 9v1m0 5v1m0 2v1m0 6v1m0 2v1m0 1v2M135.24 271v2m0 14v1m0 3v1m0 2v1m0 9v4m0 7v1m0 17v1m0 5v1m0 3v1m0 2v2m0 6v1m0 4v3m0 3v1m0 2v1m0 8v2m0 7v2m0 1v1m0 1v1M136.32 286v1m0 5v4m0 8v1m0 6v4m0 11v1m0 2v1m0 5v1m0 3v1m0 1v1m0 1v1m0 1v1m0 2v1m0 5v1m0 7v5m0 10v1m0 4v4M137.40 273v1m0 1v1m0 26v1m0 1v2m0 3v1m0 1v1m0 3v1m0 5v1m0 4v2m0 2v1m0 6v2m0 3v1m0 1v1m0 4v1m0 2v1m0 29v4M138.48 281v1m0 11v3m0 1v1m0 3v3m0 9v1m0 32v1m0 1v1m0 1v1m0 6v1m0 10v1m0 9v1m0 5v1m0 7v1M139.56 275v1m0 9v1m0 17v1m0 2v1m0 29v2m0 6v1m0 3v1m0 4v4m0 5v1m0 4v1m0 7v1m0 2v1M140.64 262v1m0 1v4m0 1v1m0 4v1m0 4v2m0 3v1m0 1v1m0 3v1m0 13v2m0 5v1m0 1v1m0 4v1m0 10v1m0 3v1m0 6v3m0 5v2m0 5v2m0 4v1m0 5v1m0 16v1M141.72 264v1m0 1v1m0 4v1m0 2v1m0 10v1m0 2v2m0 4v2m0 1v2m0 1v2m0 2v1m0 4v2m0 3v1m0 1v1m0 1v2m0 3v2m0 11v2m0 2v1m0 7v1m0 1v2m0 1v1m0 5v1m0 2v1m0 1v2m0 3v1m0 2v1m0 4v1m0 1v3m0 1v1m0 1v2M142.80 258v1m0 6v3m0 3v2m0 1v1m0 1v1m0 35v1m0 25v1m0 1v1m0 1v1m0 2v3m0 5v1m0 1v1m0 23v1m0 1v1m0 2v1m0 1v1M143.88 248v1m0 14v1m0 5v1m0 1v2m0 17v1m0 6v1m0 18v1m0 1v2m0 7v1m0 1v1m0 3v1m0 7v1m0 24v1m0 16v2m0 1v1m0 5v1M144.96 271v1m0 7v2m0 6v2m0 6v1m0 1v1m0 3v1m0 12v1m0 3v1m0 14v1m0 1v1m0 17v1m0 9v1m0 15v1m0 5v1"/>
<path stroke="#ebeaf2" stroke-width="1.08" shape-rendering="crispEdges" d="M40.54 306v1m0 9v1m0 51v1m0 1v1m0 6v1m0 1v1m0 3v2m0 3v2M41.62 238v1m0 11v2m0 4v1m0 6v1m0 11v1m0 15v1m0 5v2m0 6v1m0 3v2m0 4v1m0 4v3m0 4v2m0 5v1m0 8v1m0 2v1m0 2v1m0 15v1m0 3v1m0 7v1m0 8v2M42.69 266v1m0 25v1m0 23v1m0 1v2m0 4v2m0 1v1m0 3v1m0 2v1m0 7v1m0 6v2m0 1v1m0 8v2m0 3v1M43.77 265v2m0 31v1m0 8v1m0 4v1m0 2v1m0 8v1m0 3v1m0 3v1m0 1v2m0 9v1m0 8v1m0 21v2m0 12v1M44.85 256v1m0 9v1m0 4v2m0 1v1m0 23v1m0 5v2m0 2v2m0 6v3m0 58v1m0 7v1m0 1v1M45.92 266v1m0 9v1m0 17v1m0 3v1m0 6v2m0 11v1m0 6v1m0 2v1M47.00 266v1m0 25v1m0 8v1m0 1v2m0 1v2m0 7v2m0 4v1m0 1v1m0 10v1m0 2v1m0 8v5m0 2v1m0 8v1m0 1v1m0 27v1M48.08 237v1m0 14v1m0 1v1m0 1v1m0 5v1m0 5v1m0 32v2m0 4v2m0 4v1m0 3v1m0 16v2m0 1v1m0 3v1m0 3v1m0 2v2m0 1v1m0 14v1m0 2v2m0 2v2m0 1v1m0 8v1M49.15 252v1m0 49v2m0 4v1m0 2v5m0 2v1m0 1v1m0 2v1m0 2v1m0 2v3m0 3v1m0 1v1m0 3v2m0 5v3m0 2v2m0 7v1m0 1v1m0 2v1m0 1v1m0 4v1m0 7v1m0 1v1m0 5v1m0 1v1M50.23 258v1m0 46v2m0 5v1m0 4v1m0 5v1m0 46v1m0 6v1m0 5v3M51.31 253v1m0 10v1m0 2v1m0 34v1m0 21v1m0 2v3m0 12v1m0 5v2m0 10v1m0 3v1M52.38 298v1m0 10v1m0 14v1m0 3v1m0 18v1m0 1v1m0 8v1m0 4v1m0 4v3m0 3v1m0 2v1m0 5v1m0 5v1M53.46 292v1m0 12v4m0 17v2m0 15v1m0 3v1m0 11v1m0 2v1m0 1v1m0 12v1m0 5v1M56.44 239v2m0 4v1m0 4v1m0 4v1m0 3v1m0 1v1m0 5v2m0 4v1m0 4v1m0 5v1m0 1v1m0 3v2m0 1v1m0 4v1m0 5v2m0 9v2m0 3v1m0 6v1m0 3v1m0 1v1m0 8v1m0 2v1m0 10v2m0 10v2m0 4v1m0 2v1m0 3v1m0 6v1M57.52 237v1m0 2v1m0 5v2m0 3v1m0 6v1m0 5v1m0 8v1m0 21v1m0 9v2m0 2v1m0 3v1m0 2v1m0 2v1m0 5v1m0 3v1m0 41v1m0 11v1m0 2v1m0 2v1M58.60 240v2m0 2v1m0 4v1m0 1v1m0 5v1m0 3v1m0 5v1m0 9v1m0 1v1m0 1v1m0 2v1m0 1v2m0 4v2m0 11v2m0 3v1m0 18v1m0 6v1m0 18v1m0 3v1m0 6v1m0 4v2m0 6v2M59.68 238v1m0 3v3m0 18v1m0 1v1m0 2v1m0 5v5m0 1v1m0 2v1m0 1v1m0 2v2m0 3v1m0 6v2m0 1v1m0 1v1m0 2v2m0 1v1m0 4v1m0 56v1m0 1v1m0 6v1m0 2v1M60.76 235v1m0 8v1m0 2v2m0 1v2m0 3v1m0 2v1m0 4v1m0 1v2m0 3v1m0 8v2m0 2v2m0 2v1m0 9v1m0 10v1m0 2v3m0 3v3m0 3v1m0 1v5m0 4v1m0 20v1m0 21v1m0 12v2M61.84 240v2m0 3v1m0 2v2m0 1v1m0 5v1m0 3v3m0 1v2m0 1v1m0 6v2m0 3v1m0 7v1m0 3v1m0 3v1m0 6v1m0 7v1m0 2v1m0 18v1m0 22v1m0 1v1m0 3v1m0 16v1m0 1v2M62.92 238v1m0 1v1m0 2v4m0 6v1m0 1v2m0 1v1m0 2v1m0 2v1m0 1v1m0 2v1m0 4v1m0 10v1m0 1v1m0 2v1m0 15v1m0 1v2m0 3v1m0 1v1m0 7v4m0 52v1m0 10v1m0 1v1M64.00 245v1m0 1v1m0 3v1m0 4v2m0 1v1m0 1v1m0 3v1m0 4v1m0 3v1m0 11v1m0 3v1m0 1v1m0 7v1m0 6v2m0 3v1m0 4v1m0 3v1m0 2v1m0 8v1m0 1v1m0 2v1m0 3v1m0 1v1m0 6v1m0 3v1m0 9v1m0 2v1m0 6v1m0 4v1m0 1v1m0 9v1M65.08 242v1m0 1v1m0 1v2m0 1v1m0 4v1m0 2v1m0 1v1m0 1v1m0 6v2m0 1v2m0 9v3m0 2v1m0 6v1m0 8v2m0 4v1m0 1v2m0 1v1m0 2v2m0 8v2m0 1v1m0 12v2m0 40v1m0 1v1m0 1v3M66.16 235v1m0 4v2m0 4v1m0 8v1m0 5v1m0 2v1m0 2v1m0 2v1m0 3v1m0 2v1m0 5v1m0 5v2m0 9v3m0 1v3m0 1v1m0 2v1m0 1v3m0 4v1m0 1v2m0 42v1m0 3v1m0 7v1m0 1v3M67.23 239v1m0 4v1m0 21v1m0 5v1m0 20v2m0 2v1m0 2v1m0 1v1m0 2v1m0 2v1m0 3v1m0 3v1m0 2v1m0 2v2m0 1v1m0 3v1m0 1v2m0 12v1m0 26v2m0 8v1m0 5v2M68.31 239v1m0 10v1m0 6v1m0 2v2m0 3v3m0 17v1m0 9v1m0 4v1m0 8v1m0 10v3m0 4v1m0 2v2m0 1v1m0 3v1m0 3v1m0 2v1m0 6v1m0 1v1m0 2v2m0 5v1m0 2v1m0 4v2m0 2v1m0 1v1m0 13v1M69.39 235v1m0 5v1m0 1v1m0 15v1m0 2v1m0 5v1m0 9v1m0 1v3m0 3v2m0 1v1m0 12v4m0 2v2m0 1v1m0 2v2m0 61v1m0 4v1m0 3v2M70.47 243v2m0 4v1m0 19v1m0 9v1m0 1v1m0 4v2m0 6v2m0 1v1m0 2v1m0 3v1m0 7v1m0 3v1m0 14v2m0 28v1m0 10v1m0 10v1m0 7v1M71.55 247v1m0 2v1m0 2v1m0 8v1m0 1v1m0 1v1m0 6v1m0 2v2m0 1v1m0 2v1m0 4v1m0 1v3m0 8v1m0 2v3m0 7v1m0 13v1m0 57v1m0 2v1M72.63 246v1m0 6v1m0 5v1m0 4v1m0 3v2m0 1v2m0 1v1m0 2v1m0 3v1m0 4v1m0 1v1m0 21v1m0 3v1m0 23v1m0 1v1m0 2v1m0 1v1m0 7v2m0 3v2m0 1v2m0 2v1m0 1v1m0 10v1m0 3v1m0 6v1m0 2v1M73.71 242v1m0 8v1m0 2v1m0 10v1m0 2v3m0 5v1m0 5v1m0 10v1m0 8v1m0 2v1m0 8v2m0 9v2m0 1v1m0 1v2m0 6v2m0 3v1m0 6v1m0 1v1m0 5v1m0 1v4m0 1v3m0 2v2m0 4v1m0 5v1m0 2v1M74.79 252v1m0 1v1m0 9v1m0 3v1m0 3v1m0 15v1m0 8v1m0 2v1m0 8v2m0 3v1m0 30v1m0 10v1m0 5v1m0 2v3m0 18v2M75.87 244v1m0 3v2m0 2v1m0 2v1m0 1v1m0 4v1m0 2v1m0 1v1m0 3v1m0 3v1m0 6v1m0 16v1m0 1v2m0 2v1m0 7v2m0 2v1m0 1v1m0 4v1m0 2v1m0 4v1m0 2v1m0 3v1m0 9v1m0 6v2m0 5v1m0 2v1m0 4v2m0 5v1m0 2v1m0 6v1M76.95 239v1m0 2v1m0 4v3m0 3v3m0 9v4m0 1v1m0 1v3m0 7v1m0 40v2m0 1v1m0 12v1m0 32v1m0 2v1m0 2v1m0 12v1M78.03 240v1m0 1v1m0 1v1m0 36v1m0 1v2m0 11v1m0 22v1m0 1v1m0 1v1m0 2v1m0 45v1m0 15v1M79.11 280v1m0 1v2m0 2v1m0 8v2m0 27v1m0 1v1m0 2v1M80.19 279v1m0 5v2m0 4v1m0 1v1m0 1v1m0 28v2m0 1v1m0 59v3m0 1v2M81.27 242v1m0 37v1m0 16v1m0 19v1m0 3v1m0 1v1m0 4v1m0 8v1M82.35 236v2m0 2v2m0 80v1m0 1v1m0 2v1m0 3v1M83.43 241v1m0 37v1m0 1v1m0 37v1m0 1v1m0 5v1m0 1v3M84.51 239v2m0 42v1m0 13v1m0 2v1m0 8v1m0 13v1m0 57v1M85.59 239v1m0 2v1m0 17v1m0 7v1m0 1v1m0 1v3m0 1v2m0 6v1m0 6v1m0 4v1m0 1v1m0 3v1m0 19v1m0 4v1m0 1v1m0 52v1m0 1v1m0 2v2M86.67 235v1m0 1v1m0 9v2m0 5v2m0 4v1m0 4v1m0 7v2m0 1v1m0 7v1m0 9v1m0 7v1m0 3v1m0 15v1m0 1v1m0 3v1m0 2v1m0 36v1m0 1v1m0 4v1m0 2v1m0 3v1m0 1v1m0 4v1M87.75 235v2m0 2v1m0 25v1m0 4v1m0 2v1m0 4v1m0 5v2m0 5v2m0 7v1m0 2v1m0 15v1m0 2v1m0 45v1m0 5v1m0 3v1M88.83 278v1m0 9v2m0 9v2m0 2v1m0 4v1m0 1v1m0 3v1m0 7v1m0 2v1m0 5v1m0 8v1m0 2v1m0 48v1M89.90 238v1m0 2v1m0 4v1m0 3v1m0 2v4m0 3v1m0 2v1m0 1v1m0 10v1m0 14v1m0 3v1m0 7v1m0 1v1m0 3v1m0 1v1m0 4v1m0 5v1m0 3v1m0 2v2m0 1v1m0 3v1m0 2v1m0 4v3m0 2v1m0 3v1m0 14v1m0 2v1m0 1v2m0 9v1M90.98 237v1m0 6v1m0 2v2m0 2v1m0 1v1m0 3v1m0 3v1m0 3v1m0 10v1m0 4v1m0 10v1m0 2v1m0 1v1m0 2v1m0 3v1m0 3v1m0 3v1m0 30v1m0 24v2m0 3v1m0 6v4m0 1v3m0 1v1M92.06 237v1m0 1v1m0 40v1m0 7v1m0 4v2m0 2v1m0 4v1m0 1v1m0 8v1m0 12v1m0 51v1m0 9v1m0 3v1M93.14 236v1m0 2v3m0 32v1m0 5v1m0 1v1m0 2v1m0 10v1m0 74v1m0 1v1m0 1v2m0 5v2m0 3v1m0 4v1M94.22 245v1m0 3v1m0 13v1m0 3v1m0 8v1m0 13v1m0 1v1m0 1v1m0 1v1m0 15v1m0 11v1m0 4v2m0 1v1M95.30 236v1m0 1v1m0 26v1m0 1v1m0 11v1m0 5v1m0 13v1m0 4v2m0 1v1m0 4v1m0 1v1m0 53v1m0 15v1m0 7v1M96.38 238v1m0 16v3m0 8v1m0 5v1m0 6v1m0 2v1m0 1v1m0 3v1m0 6v1m0 2v1m0 2v2m0 2v1m0 4v1m0 1v2m0 8v1m0 7v2m0 52v1m0 7v1M97.46 245v1m0 1v3m0 5v1m0 8v1m0 2v3m0 28v1m0 7v1m0 1v3m0 4v2m0 55v1m0 5v1m0 8v2M98.54 240v1m0 8v1m0 1v1m0 5v1m0 5v1m0 1v1m0 1v1m0 13v2m0 2v2m0 1v2m0 7v1m0 3v1m0 21v1m0 53v1m0 8v1M99.62 237v1m0 12v1m0 1v1m0 9v1m0 3v1m0 1v1m0 4v2m0 1v1m0 3v1m0 4v1m0 1v2m0 5v1m0 9v1m0 72v1m0 6v1m0 1v1m0 5v1M100.70 237v1m0 1v1m0 6v1m0 16v1m0 10v1m0 12v1m0 17v2m0 8v1m0 6v1m0 3v1m0 42v6m0 1v1m0 3v1m0 1v1m0 4v1m0 4v1M101.78 240v1m0 2v1m0 1v1m0 6v1m0 2v1m0 2v1m0 1v1m0 2v1m0 4v3m0 3v1m0 1v1m0 14v1m0 1v1m0 1v1m0 1v1m0 3v1m0 6v1m0 1v1m0 1v1m0 4v1m0 1v1m0 2v1m0 1v2m0 5v1m0 39v1m0 5v1m0 1v1m0 5v1m0 1v2m0 3v1M102.86 240v1m0 2v1m0 5v1m0 9v2m0 4v1m0 3v1m0 3v2m0 12v1m0 3v1m0 11v1m0 14v1m0 13v1m0 5v1m0 2v1m0 12v1m0 14v1m0 7v1m0 3v3m0 8v1M103.94 250v1m0 12v1m0 2v1m0 2v1m0 1v1m0 5v1m0 1v1m0 4v2m0 2v1m0 28v1m0 13v1m0 21v1m0 2v1m0 1v2m0 20v1m0 6v1M105.02 241v1m0 1v1m0 5v2m0 6v3m0 1v2m0 8v3m0 1v1m0 3v2m0 2v2m0 5v1m0 4v1m0 7v3m0 5v1m0 7v2m0 7v2m0 4v1m0 5v1m0 21v1m0 2v1m0 5v2m0 6v1m0 5v1m0 1v6M106.10 242v1m0 5v2m0 6v2m0 4v2m0 1v2m0 4v1m0 4v2m0 1v1m0 6v1m0 25v1m0 9v1m0 1v2m0 1v1m0 1v1m0 4v4m0 5v1m0 4v1m0 3v1m0 6v2m0 1v1m0 1v1m0 4v1m0 5v1m0 1v1m0 7v1m0 1v1M107.18 238v1m0 6v1m0 6v1m0 9v1m0 10v1m0 9v1m0 1v1m0 14v1m0 5v1m0 8v1m0 10v1m0 12v1m0 24v1m0 11v2m0 8v1m0 2v1M108.26 238v2m0 1v1m0 4v1m0 2v1m0 4v2m0 1v1m0 2v1m0 3v2m0 3v1m0 2v1m0 2v1m0 9v1m0 2v1m0 14v2m0 1v1m0 34v1m0 1v1m0 2v1m0 8v1m0 6v1m0 1v1m0 6v1m0 2v1m0 9v1m0 1v1m0 1v2M109.34 244v1m0 2v1m0 2v1m0 4v1m0 6v1m0 1v1m0 6v1m0 2v2m0 8v1m0 6v1m0 3v1m0 26v1m0 3v1m0 3v2m0 2v3m0 10v1m0 8v2m0 4v1m0 23v2M110.42 240v1m0 2v1m0 6v1m0 3v2m0 5v1m0 3v1m0 3v2m0 3v1m0 1v1m0 6v1m0 6v2m0 4v1m0 4v1m0 1v1m0 5v2m0 6v2m0 4v1m0 8v1m0 2v1m0 3v1m0 5v1m0 9v1m0 8v1m0 24v1m0 1v1M111.50 240v1m0 7v2m0 4v2m0 3v1m0 3v1m0 1v2m0 3v1m0 3v1m0 2v1m0 4v1m0 2v1m0 5v3m0 5v2m0 1v1m0 11v1m0 5v1m0 2v1m0 1v2m0 5v2m0 9v1m0 1v1m0 6v2m0 2v1m0 2v2m0 1v1m0 1v1m0 13v2M112.57 235v1m0 12v3m0 2v1m0 1v1m0 2v1m0 1v1m0 5v2m0 5v2m0 22v1m0 4v1m0 4v1m0 16v1m0 5v2m0 7v3m0 3v2m0 1v1m0 11v1m0 7v1m0 4v1m0 12v1m0 4v2M113.65 238v1m0 2v1m0 2v2m0 1v1m0 8v2m0 2v2m0 1v3m0 3v1m0 2v2m0 1v1m0 5v2m0 2v1m0 8v1m0 2v1m0 5v1m0 7v1m0 1v1m0 3v1m0 5v6m0 4v3m0 2v1m0 1v1m0 1v1m0 1v1m0 2v1m0 1v2m0 1v1m0 1v1m0 1v1m0 14v2m0 2v1m0 13v1M114.73 235v1m0 1v1m0 3v1m0 1v1m0 12v1m0 3v1m0 1v1m0 11v1m0 4v4m0 7v1m0 26v1m0 12v1m0 11v2m0 12v1m0 5v1m0 3v1m0 11v1M115.81 235v1m0 1v1m0 1v1m0 9v1m0 8v2m0 1v1m0 12v1m0 59v1m0 3v1m0 1v2m0 2v1m0 4v1m0 7v3m0 5v1m0 3v1m0 7v1m0 2v5m0 5v1M116.89 235v1m0 2v1m0 1v2m0 1v2m0 2v1m0 4v1m0 2v2m0 3v1m0 16v1m0 12v1m0 4v3m0 35v2m0 5v1m0 4v2m0 14v2m0 11v2m0 6v1m0 3v1m0 5v1M117.97 235v1m0 1v2m0 1v1m0 1v1m0 19v1m0 2v2m0 28v1m0 7v1m0 7v1m0 1v1m0 2v2m0 12v2m0 6v1m0 2v2m0 4v1m0 1v2m0 5v2m0 2v5m0 2v1m0 9v2M119.05 235v1m0 6v1m0 2v1m0 4v2m0 4v1m0 7v1m0 1v1m0 1v2m0 2v1m0 9v4m0 1v3m0 4v2m0 6v1m0 2v1m0 6v1m0 4v1m0 4v2m0 4v2m0 1v1m0 5v2m0 5v2m0 1v2m0 1v1m0 6v1m0 9v1m0 4v1m0 3v2m0 3v1m0 9v1M120.13 238v1m0 1v1m0 14v1m0 7v6m0 2v1m0 1v3m0 1v1m0 6v1m0 5v1m0 1v1m0 8v1m0 1v2m0 7v1m0 4v1m0 18v2m0 3v1m0 3v1m0 1v1m0 3v1m0 4v3m0 1v1m0 1v1m0 16v1m0 3v1M121.21 237v2m0 5v1m0 5v1m0 2v3m0 3v2m0 3v1m0 11v1m0 2v1m0 5v1m0 18v2m0 5v1m0 4v1m0 9v1m0 2v1m0 5v1m0 2v1m0 12v1m0 6v1m0 4v1m0 9v1m0 3v1m0 4v1m0 7v1M122.29 237v2m0 4v1m0 1v1m0 2v1m0 9v1m0 9v2m0 3v1m0 5v2m0 5v1m0 13v1m0 1v2m0 2v1m0 6v2m0 4v1m0 2v3m0 1v2m0 11v2m0 1v2m0 5v1m0 1v2m0 1v1m0 3v1m0 2v1m0 12v1m0 1v1m0 2v1m0 7v1m0 1v2M123.37 239v3m0 1v4m0 1v1m0 5v1m0 1v1m0 1v1m0 8v1m0 2v1m0 5v2m0 2v1m0 2v2m0 18v1m0 9v1m0 6v1m0 2v1m0 2v1m0 5v3m0 1v1m0 5v1m0 4v3m0 2v3m0 2v3m0 2v1m0 1v2m0 5v3m0 3v1m0 1v1m0 6v1M124.45 241v2m0 28v2m0 54v1m0 8v1m0 1v1m0 10v1m0 25v2m0 1v2M125.53 301v1m0 16v1m0 5v1m0 2v1m0 32v1m0 11v1m0 2v1m0 4v1m0 2v1m0 6v1M126.61 236v1m0 7v1m0 26v1m0 39v1m0 7v1m0 13v1m0 4v1m0 1v1m0 9v1m0 1v2m0 3v1m0 3v1m0 2v1m0 14v3m0 8v1m0 1v1M127.69 322v1m0 4v1m0 1v1m0 5v1m0 23v1m0 1v1m0 9v1m0 5v1m0 14v1M128.77 245v1m0 13v1m0 3v1m0 2v1m0 1v1m0 1v1m0 3v1m0 1v1m0 5v1m0 7v4m0 36v3m0 4v1m0 34v1m0 3v2m0 8v1M129.85 246v1m0 27v2m0 4v1m0 1v1m0 2v2m0 3v1m0 1v2m0 2v2m0 19v1m0 1v1m0 2v1m0 3v1m0 2v1m0 12v1m0 38v1M130.93 236v1m0 9v1m0 1v1m0 23v1m0 9v1m0 2v3m0 1v2m0 26v1m0 9v1m0 4v1m0 3v2m0 7v1m0 1v1m0 9v1m0 6v1m0 4v2m0 2v2m0 1v1m0 2v1m0 5v1m0 2v1m0 2v1M132.01 270v1m0 2v3m0 6v1m0 11v2m0 1v1m0 79v2m0 1v1m0 2v1m0 1v1m0 1v1m0 1v1m0 1v2M133.09 270v1m0 2v1m0 12v1m0 2v1m0 12v1m0 1v1m0 3v1m0 3v1m0 1v1m0 5v1m0 21v1m0 1v1m0 1v2m0 15v1m0 4v1m0 4v2m0 2v1m0 5v1m0 3v1M134.17 237v1m0 32v1m0 2v1m0 2v1m0 3v1m0 1v1m0 6v1m0 3v1m0 1v1m0 7v1m0 1v1m0 2v1m0 2v1m0 6v2m0 3v3m0 1v2m0 12v2m0 9v1m0 4v1m0 5v2m0 8v2m0 1v1m0 6v5M135.24 235v1m0 1v2m0 2v1m0 6v1m0 26v2m0 1v1m0 2v1m0 7v1m0 2v2m0 1v1m0 24v1m0 1v1m0 6v2m0 4v2m0 5v1m0 7v4m0 3v1m0 11v1m0 6v1m0 3v2m0 1v2m0 5v1M136.32 270v1m0 3v1m0 7v2m0 1v1m0 1v1m0 8v4m0 1v3m0 1v1m0 9v1m0 2v1m0 1v1m0 9v2m0 4v1m0 5v1m0 1v1m0 2v1m0 1v2m0 6v2m0 10v1m0 6v1m0 3v1M137.40 236v1m0 6v1m0 33v1m0 4v1m0 23v1m0 10v2m0 1v1m0 1v1m0 1v2m0 10v1m0 11v1m0 1v1m0 19v1m0 19v1M138.48 271v2m0 5v1m0 1v1m0 1v1m0 2v5m0 9v1m0 7v1m0 4v1m0 1v1m0 7v1m0 5v1m0 2v1m0 5v1m0 4v1m0 1v1m0 26v3m0 2v2m0 8v2m0 1v1M139.56 236v1m0 3v1m0 31v1m0 1v1m0 4v1m0 1v1m0 13v1m0 2v2m0 4v2m0 3v2m0 1v1m0 1v1m0 12v1m0 1v1m0 3v1m0 7v1m0 5v1m0 1v1m0 7v2m0 5v1m0 15v4m0 1v2m0 5v1M140.64 257v1m0 5v1m0 4v1m0 2v1m0 3v1m0 1v1m0 4v2m0 1v1m0 3v1m0 7v1m0 4v1m0 3v1m0 2v2m0 26v1m0 8v1m0 3v1m0 1v1m0 7v1m0 2v1m0 5v3m0 2v1M141.72 235v1m0 9v1m0 2v1m0 16v1m0 10v2m0 2v1m0 9v1m0 15v1m0 4v1m0 3v1m0 5v2m0 5v1m0 2v1m0 20v1m0 10v1m0 6v2m0 3v1m0 2v1m0 9v2m0 1v1M142.80 259v1m0 8v1m0 1v1m0 4v1m0 1v1m0 3v1m0 3v1m0 15v1m0 1v1m0 3v1m0 6v1m0 1v1m0 10v1m0 7v2m0 2v1m0 4v1m0 12v3m0 4v3m0 1v1m0 2v2m0 3v3m0 8v2m0 2v1M143.88 240v1m0 4v1m0 3v1m0 7v1m0 1v1m0 1v1m0 3v2m0 3v1m0 5v1m0 7v1m0 3v2m0 5v2m0 2v2m0 3v1m0 6v1m0 1v2m0 2v1m0 2v1m0 5v1m0 1v1m0 1v1m0 48v2m0 1v1m0 6v1M144.96 244v1m0 1v1m0 22v1m0 8v1m0 4v2m0 1v1m0 4v1m0 2v1m0 4v2m0 2v1m0 1v2m0 5v1m0 3v1m0 2v1m0 1v2m0 1v1m0 2v1m0 3v2m0 1v1m0 6v1m0 35v2m0 2v3m0 2v2m0 4v1"/>
<path stroke="#9d94be" stroke-width="1.08" shape-rendering="crispEdges" d="M40.54 318v1m0 7v1m0 3v1m0 2v1m0 1v1m0 7v1m0 5v1m0 9v2m0 6v1M41.62 299v1m0 80v1M42.69 298v1m0 1v1m0 9v1m0 60v1m0 5v1m0 1v1m0 1v1m0 3v1m0 2v1m0 2v1M43.77 330v2m0 43v1m0 4v1m0 5v1M44.85 320v1m0 8v2m0 5v1m0 2v1m0 3v1m0 1v1m0 2v1m0 1v1m0 7v2m0 1v1m0 13v1m0 10v1M45.92 303v1m0 9v1m0 16v1m0 4v1m0 5v1m0 1v1m0 1v1m0 4v2m0 1v1m0 1v1m0 1v1m0 3v2m0 5v1M47.00 358v1m0 10v2m0 4v1m0 10v1M48.08 326v1m0 12v1m0 14v1m0 37v1M50.23 300v1m0 20v1m0 17v1m0 5v1m0 12v1m0 32v1M51.31 353v1m0 22v2m0 5v1M52.38 320v1m0 6v1m0 6v2m0 3v1m0 5v1m0 8v1m0 5v1m0 6v1M53.46 300v1m0 2v1m0 29v1m0 4v3m0 15v1m0 10v1m0 1v1m0 2v1m0 2v1M56.44 257v1M58.60 252v1M59.68 252v2m0 18v1M61.84 294v1M62.92 271v1m0 23v1M64.00 246v1m0 32v1m0 1v1m0 1v1M66.16 252v2m0 18v1m0 39v1M67.23 238v1m0 19v2m0 15v1M68.31 240v1m0 7v1m0 57v1M69.39 238v1m0 56v1M70.47 257v1m0 1v1m0 2v1M71.55 272v1M72.63 238v1M73.71 258v1M74.79 235v1m0 1v1m0 2v1m0 1v1m0 1v1m0 74v1m0 5v1m0 1v2M76.95 256v1m0 73v1M79.11 244v1m0 2v2m0 1v2m0 1v3m0 4v1m0 2v1m0 11v1M80.19 244v1m0 2v1m0 74v1M81.27 236v2m0 12v2m0 21v1m0 56v1M82.35 235v1m0 17v1m0 4v1m0 2v3m0 9v1m0 1v2M83.43 236v1m0 16v1m0 19v1m0 43v1M84.51 253v2m0 8v2m0 3v1m0 3v1m0 1v1m0 1v2m0 25v1m0 25v1m0 1v1M85.59 300v1m0 2v1m0 4v1m0 2v1M86.67 250v1m0 1v1m0 16v1m0 29v1m0 1v1m0 1v1m0 4v1m0 2v1m0 3v2M87.75 252v1m0 5v1m0 3v1M88.83 236v1m0 1v2m0 9v2m0 3v1m0 2v1m0 3v1m0 3v1m0 1v2m0 3v4M89.90 267v1m0 14v1M90.98 240v2m0 27v1m0 1v1M92.06 246v1m0 6v2m0 2v1m0 5v2m0 3v4M93.14 245v1m0 4v1m0 7v1m0 2v2m0 4v1m0 1v1m0 2v1M94.22 281v1M95.30 252v1m0 1v1m0 2v1m0 3v1m0 4v1M96.38 261v1m0 9v1m0 13v1m0 11v1M97.46 274v1M98.54 261v1M100.70 261v1m0 124v1M101.78 287v1m0 25v1M102.86 300v1M103.94 236v2m0 68v1m0 1v1m0 1v2M105.02 235v1m0 73v1M106.10 237v1m0 66v1m0 48v1M108.26 245v1M109.34 245v1M110.42 378v1M111.50 245v1m0 7v1m0 21v1m0 11v1m0 21v1M112.57 378v1M115.81 386v1M116.89 249v1m0 18v1m0 110v1M121.21 236v1M123.37 272v1m0 2v1M124.45 356v1m0 2v1m0 7v1M125.53 334v1m0 6v1m0 7v1m0 1v1m0 2v1m0 2v2M127.69 341v2m0 9v1m0 5v1m0 6v1M128.77 281v1m0 51v1m0 5v1m0 6v1m0 5v1m0 3v1m0 2v1M129.85 264v1m0 62v1m0 17v1m0 13v2M130.93 264v1m0 6v1m0 61v1m0 7v1m0 11v1m0 1v1M132.01 333v2m0 6v2m0 2v1m0 10v1m0 6v5M133.09 334v1m0 4v2m0 21v1M134.17 340v1M135.24 309v1m0 3v2m0 25v1M136.32 310v1m0 56v1M137.40 300v1m0 9v1m0 2v1m0 25v3m0 12v2m0 3v1m0 1v1m0 4v1m0 5v3m0 2v1m0 9v1M138.48 333v2m0 6v1m0 7v1m0 1v1m0 8v1m0 1v2m0 1v3M139.56 338v1m0 4v1m0 2v1M140.64 281v1M141.72 275v1m0 65v1m0 1v1m0 22v2m0 16v1m0 7v1M142.80 313v1m0 40v1m0 5v1M143.88 340v1m0 1v2m0 6v1m0 1v1m0 1v1m0 2v1m0 5v1M144.96 338v1m0 3v2m0 10v4m0 1v1m0 1v1m0 3v1"/>
<path stroke="#766aa3" stroke-width="1.08" shape-rendering="crispEdges" d="M40.54 334v1m0 5v1m0 10v1m0 3v1m0 1v2M42.69 303v1M44.85 332v1m0 8v1m0 20v1m0 15v1M45.92 334v1m0 1v1m0 1v2m0 16v1M47.00 380v1M51.31 371v2m0 7v1M74.79 236v1M78.03 248v2m0 5v1m0 1v1m0 8v2m0 2v1m0 2v1m0 3v1M79.11 237v1m0 11v1m0 6v1m0 1v1m0 5v1m0 4v1m0 1v1M80.19 248v2m0 6v3m0 4v2m0 2v2m0 7v2M81.27 245v1m0 11v1m0 6v1m0 1v1m0 1v1m0 1v1m0 1v1M82.35 246v1m0 1v1m0 1v2m0 2v1m0 9v1m0 7v1M83.43 248v2m0 1v2m0 1v1m0 8v1m0 1v2m0 5v1M84.51 245v1m0 3v1m0 7v1m0 4v1m0 4v1M86.67 313v1M88.83 240v1m0 17v1m0 4v2m0 4v1m0 1v1m0 5v1M95.30 274v1M103.94 303v1M125.53 343v1m0 3v1m0 2v1M135.24 312v1M138.48 354v1m0 6v1"/>
<path stroke="#625596" stroke-width="1.08" shape-rendering="crispEdges" d="M40.54 339v1M44.85 356v1M78.03 246v1m0 5v1m0 7v1m0 2v1m0 5v1M79.11 259v1M80.19 246v1m0 3v1m0 3v1m0 7v1m0 2v2m0 3v2m0 3v1M81.27 246v1m0 2v1m0 4v1m0 4v1m0 1v1m0 9v1M82.35 252v1m0 2v1m0 1v1m0 7v2m0 1v1m0 2v1M83.43 245v1m0 4v1m0 4v1m0 1v2m0 3v1m0 5v2m0 7v1M84.51 259v1M86.67 310v1M92.06 259v1M93.14 259v1M95.30 275v1M129.85 355v1M132.01 340v1M133.09 361v1"/>
<path stroke="#4f3f89" stroke-width="1.08" shape-rendering="crispEdges" d="M40.54 356v1M78.03 256v1m0 2v1m0 1v1M79.11 245v2M80.19 245v1m0 7v1m0 7v1m0 7v1M81.27 255v1m0 2v1M82.35 245v1m0 3v1m0 20v1M83.43 246v1m0 9v1m0 2v1m0 1v1m0 5v1M84.51 271v1M88.83 259v1M132.01 361v1"/>
<path stroke="#f5c284" stroke-width="1.08" shape-rendering="crispEdges" d="M42.69 247v1m0 42v1m0 5v1M43.77 235v1M44.85 247v1M45.92 239v1m0 7v1M47.00 243v1M49.15 239v1m0 20v1M53.46 244v1m0 17v1M66.16 351v1M69.39 350v1M72.63 299v1m0 21v2M79.11 298v2m0 1v1m0 3v1m0 6v1m0 2v2m0 16v1m0 8v1m0 1v1m0 18v1M80.19 307v1m0 6v1M81.27 300v2m0 13v1M82.35 302v1m0 1v3m0 1v1m0 1v1M83.43 289v1m0 15v1M85.59 335v1m0 8v1m0 1v1M87.75 334v1m0 2v1m0 10v1m0 8v1m0 5v1M90.98 346v1M93.14 314v1M94.22 374v1M96.38 333v1m0 4v1m0 3v1m0 3v3m0 1v3m0 13v1M100.70 332v1m0 1v1m0 5v1m0 1v1m0 7v1m0 7v1m0 4v1M101.78 356v2M114.73 299v1M115.81 309v1m0 9v1M116.89 318v1M124.45 263v1m0 14v2m0 4v1m0 8v1M125.53 247v1m0 15v1m0 29v1M127.69 315v1m0 52v1M129.85 306v1M130.93 239v1M132.01 241v3m0 3v1m0 8v1m0 50v1M133.09 254v1M135.24 257v1m0 2v1M136.32 239v1m0 13v1m0 1v1m0 4v1M138.48 262v1m0 3v1M139.56 252v1M144.96 251v1"/>
<path stroke="#f3b870" stroke-width="1.08" shape-rendering="crispEdges" d="M47.00 235v2m0 5v1m0 4v1M79.11 300v1m0 6v1M81.27 304v1M82.35 299v2M83.43 312v1m0 2v1M96.38 344v1m0 11v2M100.70 347v2m0 7v1m0 8v1M125.53 288v1M127.69 316v1M128.77 300v1m0 13v1M132.01 267v1m0 38v1m0 9v1M133.09 260v1M136.32 247v1m0 13v1M138.48 267v1M144.96 254v1"/>
<path stroke="#f1ae5b" stroke-width="1.08" shape-rendering="crispEdges" d="M47.00 244v1M82.35 307v1M95.30 357v1M100.70 346v1m0 10v1M132.01 239v1M139.56 263v1"/>
<path stroke="#3b2a7c" stroke-width="1.08" shape-rendering="crispEdges" d="M78.03 245v1M80.19 255v1m0 3v1M82.35 269v1"/>
<path stroke="#f0a447" stroke-width="1.08" shape-rendering="crispEdges" d="M79.11 306v1"/>
</g>
<defs><linearGradient id="cb" x1="0" y1="0" x2="0" y2="1"><stop offset="0" stop-color="#ee9a32"/><stop offset="0.5" stop-color="#ffffff"/><stop offset="1" stop-color="#3b2a7c"/></linearGradient></defs>
<rect x="147.9" y="234.8" width="5.1" height="71" fill="url(#cb)"/>
<text x="153.90" y="239.60" font-size="7.0">6</text>
<text x="153.90" y="250.63" font-size="7.0">4</text>
<text x="153.90" y="261.66" font-size="7.0">2</text>
<text x="153.90" y="272.69" font-size="7.0">0</text>
<text x="153.90" y="283.72" font-size="7.0">-2</text>
<text x="153.90" y="294.75" font-size="7.0">-4</text>
<text x="153.90" y="305.78" font-size="7.0">-6</text>
<path d="M39.6 235.22H31.3V235.65H39.6M39.6 236.51H31.2V236.94H39.6M39.6 236.08H30.6V236.73H31.2M31.3 235.43H29.7V236.40H30.6M39.6 237.38H31.5V237.81H39.6M39.6 238.24H31.6V238.67H39.6M31.5 237.59H28.9V238.46H31.6M39.6 239.10H29.9V239.54H39.6M39.6 239.97H29.7V240.40H39.6M29.9 239.32H29.0V240.18H29.7M28.9 238.02H28.5V239.75H29.0M29.7 235.92H26.4V238.89H28.5M39.6 240.83H27.2V241.26H39.6M39.6 241.70H31.3V242.13H39.6M39.6 242.56H31.3V242.99H39.6M31.3 241.91H30.9V242.78H31.3M39.6 243.43H30.4V243.86H39.6M39.6 244.29H31.7V244.72H39.6M30.4 243.64H29.7V244.51H31.7M30.9 242.34H29.1V244.07H29.7M27.2 241.05H26.7V243.21H29.1M26.4 237.40H25.2V242.13H26.7M39.6 245.15H30.8V245.59H39.6M39.6 246.45H31.7V246.88H39.6M39.6 246.02H30.2V246.67H31.7M30.8 245.37H29.8V246.34H30.2M39.6 247.31H32.4V247.75H39.6M39.6 248.61H31.5V249.04H39.6M39.6 248.18H31.1V248.83H31.5M39.6 249.47H31.6V249.91H39.6M31.1 248.50H30.7V249.69H31.6M32.4 247.53H30.3V249.10H30.7M29.8 245.86H27.3V248.31H30.3M39.6 250.77H31.5V251.20H39.6M39.6 251.63H30.2V252.07H39.6M31.5 250.99H29.8V251.85H30.2M39.6 250.34H29.4V251.42H29.8M39.6 252.50H31.4V252.93H39.6M29.4 250.88H29.0V252.71H31.4M39.6 253.36H29.3V253.79H39.6M29.0 251.80H28.6V253.58H29.3M39.6 254.23H29.9V254.66H39.6M28.6 252.69H27.7V254.44H29.9M27.3 247.08H26.7V253.56H27.7M39.6 255.52H28.0V255.95H39.6M39.6 255.09H27.5V255.74H28.0M39.6 256.39H28.0V256.82H39.6M27.5 255.41H24.5V256.60H28.0M26.7 250.32H23.5V256.01H24.5M25.2 239.77H22.7V253.17H23.5M39.6 257.25H30.0V257.68H39.6M30.0 257.47H26.7V258.11H39.6M39.6 258.55H31.5V258.98H39.6M31.5 258.76H29.9V259.41H39.6M39.6 260.28H31.4V260.71H39.6M39.6 259.84H30.9V260.49H31.4M29.9 259.09H29.5V260.17H30.9M39.6 261.57H31.6V262.00H39.6M39.6 261.14H30.6V261.79H31.6M39.6 262.44H31.7V262.87H39.6M30.6 261.46H30.0V262.65H31.7M39.6 263.30H31.7V263.73H39.6M30.0 262.06H29.1V263.52H31.7M29.5 259.63H27.8V262.79H29.1M26.7 257.79H25.6V261.21H27.8M39.6 264.16H33.6V264.60H39.6M33.6 264.38H33.4V265.03H39.6M39.6 265.46H32.6V265.89H39.6M33.4 264.70H31.3V265.68H32.6M39.6 266.32H32.9V266.76H39.6M32.9 266.54H31.6V267.19H39.6M39.6 267.62H33.5V268.05H39.6M33.5 267.84H33.3V268.48H39.6M39.6 268.92H32.6V269.35H39.6M32.6 269.13H32.3V269.78H39.6M33.3 268.16H32.0V269.46H32.3M39.6 270.21H33.7V270.64H39.6M39.6 271.08H34.1V271.51H39.6M33.7 270.43H33.4V271.29H34.1M32.0 268.81H31.6V270.86H33.4M31.6 266.86H31.3V269.83H31.6M31.3 265.19H31.0V268.35H31.3M39.6 271.94H32.6V272.37H39.6M32.6 272.16H31.8V272.80H39.6M39.6 273.24H32.3V273.67H39.6M39.6 274.10H32.6V274.53H39.6M39.6 274.97H33.6V275.40H39.6M32.6 274.32H32.3V275.18H33.6M32.3 273.45H32.0V274.75H32.3M39.6 275.83H32.0V276.26H39.6M32.0 274.10H31.6V276.05H32.0M39.6 277.13H32.5V277.56H39.6M39.6 276.69H31.6V277.34H32.5M31.6 275.07H31.3V277.02H31.6M31.8 272.48H31.0V276.05H31.3M31.0 266.77H30.6V274.26H31.0M39.6 277.99H30.9V278.42H39.6M39.6 278.85H30.5V279.29H39.6M30.5 279.07H30.1V279.72H39.6M30.9 278.21H29.7V279.39H30.1M39.6 280.58H32.3V281.01H39.6M39.6 280.15H29.7V280.80H32.3M29.7 278.80H29.3V280.47H29.7M39.6 281.45H31.9V281.88H39.6M39.6 282.74H32.0V283.17H39.6M39.6 282.31H31.7V282.96H32.0M31.7 282.63H31.4V283.61H39.6M39.6 284.04H31.7V284.47H39.6M31.7 284.25H31.4V284.90H39.6M31.4 283.12H31.0V284.58H31.4M31.9 281.66H29.9V283.85H31.0M39.6 285.33H31.7V285.77H39.6M29.9 282.76H28.9V285.55H31.7M29.3 279.64H28.4V284.15H28.9M30.6 270.52H28.0V281.89H28.4M25.6 259.50H24.3V276.21H28.0M39.6 286.63H30.1V287.06H39.6M39.6 287.49H31.9V287.93H39.6M30.1 286.85H29.7V287.71H31.9M39.6 288.36H30.6V288.79H39.6M39.6 289.22H31.2V289.65H39.6M30.6 288.57H29.7V289.44H31.2M29.7 287.28H29.3V289.01H29.7M39.6 286.20H26.9V288.14H29.3M39.6 290.09H30.0V290.52H39.6M39.6 290.95H30.9V291.38H39.6M30.9 291.17H30.3V291.82H39.6M30.0 290.30H29.6V291.49H30.3M39.6 292.68H32.6V293.11H39.6M39.6 292.25H32.3V292.90H32.6M39.6 293.54H30.4V293.98H39.6M32.3 292.57H30.0V293.76H30.4M29.6 290.90H28.1V293.17H30.0M39.6 294.41H28.9V294.84H39.6M39.6 295.70H31.5V296.14H39.6M39.6 295.27H30.1V295.92H31.5M39.6 297.00H30.8V297.43H39.6M39.6 296.57H30.4V297.22H30.8M30.4 296.89H29.0V297.86H39.6M30.1 295.60H28.5V297.38H29.0M28.9 294.62H28.1V296.49H28.5M28.1 292.03H27.6V295.56H28.1M26.9 287.17H25.6V293.79H27.6M24.3 267.85H23.3V290.48H25.6M39.6 298.30H31.2V298.73H39.6M39.6 299.16H30.9V299.59H39.6M31.2 298.51H30.0V299.38H30.9M39.6 300.02H31.6V300.46H39.6M39.6 300.89H30.1V301.32H39.6M31.6 300.24H29.6V301.10H30.1M30.0 298.94H28.2V300.67H29.6M39.6 301.75H28.7V302.18H39.6M28.7 301.97H27.0V302.62H39.6M39.6 303.05H28.6V303.48H39.6M28.6 303.26H28.0V303.91H39.6M39.6 304.78H30.1V305.21H39.6M39.6 304.34H29.4V304.99H30.1M28.0 303.59H27.4V304.67H29.4M39.6 305.64H32.6V306.07H39.6M39.6 306.51H33.7V306.94H39.6M32.6 305.86H32.3V306.72H33.7M39.6 307.37H32.1V307.80H39.6M32.3 306.29H31.8V307.59H32.1M39.6 308.23H32.4V308.67H39.6M39.6 309.53H31.8V309.96H39.6M39.6 309.10H31.5V309.75H31.8M32.4 308.45H30.1V309.42H31.5M39.6 310.39H32.1V310.83H39.6M32.1 310.61H31.2V311.26H39.6M30.1 308.94H29.7V310.93H31.2M31.8 306.94H29.2V309.93H29.7M27.4 304.13H25.6V308.44H29.2M27.0 302.29H24.9V306.28H25.6M28.2 299.81H24.3V304.29H24.9M23.3 279.17H22.7V302.05H24.3M22.7 246.47H22.0V290.61H22.7M39.6 311.69H31.2V312.12H39.6M39.6 312.99H32.2V313.42H39.6M39.6 312.55H31.1V313.20H32.2M31.1 312.88H30.8V313.85H39.6M31.2 311.91H30.4V313.36H30.8M30.4 312.63H28.4V314.28H39.6M39.6 314.71H31.5V315.15H39.6M39.6 316.01H31.8V316.44H39.6M39.6 315.58H31.5V316.23H31.8M31.5 314.93H31.2V315.90H31.5M39.6 316.87H32.0V317.31H39.6M31.2 315.42H30.8V317.09H32.0M39.6 319.03H32.1V319.47H39.6M39.6 318.60H31.8V319.25H32.1M39.6 318.17H31.2V318.93H31.8M39.6 317.74H30.8V318.55H31.2M30.8 316.25H30.4V318.14H30.8M39.6 320.33H31.6V320.76H39.6M39.6 321.19H32.0V321.63H39.6M31.6 320.55H29.6V321.41H32.0M39.6 319.90H29.2V320.98H29.6M30.4 317.20H28.8V320.44H29.2M39.6 322.06H30.6V322.49H39.6M39.6 322.92H32.0V323.36H39.6M30.6 322.28H29.7V323.14H32.0M39.6 323.79H30.3V324.22H39.6M39.6 324.65H31.0V325.08H39.6M39.6 325.95H32.2V326.38H39.6M39.6 325.52H30.2V326.16H32.2M31.0 324.87H29.8V325.84H30.2M30.3 324.00H29.4V325.35H29.8M29.7 322.71H26.8V324.68H29.4M39.6 327.24H30.3V327.68H39.6M39.6 326.81H29.4V327.46H30.3M39.6 328.54H31.6V328.97H39.6M39.6 328.11H30.1V328.76H31.6M29.4 327.14H28.5V328.43H30.1M28.5 327.78H27.4V329.40H39.6M39.6 329.84H30.4V330.27H39.6M39.6 331.13H31.5V331.56H39.6M39.6 330.70H30.9V331.35H31.5M30.4 330.05H28.2V331.02H30.9M27.4 328.59H26.8V330.54H28.2M26.8 323.69H26.3V329.57H26.8M28.8 318.82H25.4V326.63H26.3M28.4 313.46H24.8V322.72H25.4M39.6 332.00H28.6V332.43H39.6M39.6 332.86H32.4V333.29H39.6M39.6 333.72H31.4V334.16H39.6M32.4 333.08H30.4V333.94H31.4M28.6 332.21H27.2V333.51H30.4M24.8 318.09H23.8V332.86H27.2M39.6 334.59H30.4V335.02H39.6M39.6 335.45H31.8V335.88H39.6M30.4 334.80H29.9V335.67H31.8M39.6 336.32H32.2V336.75H39.6M32.2 336.53H31.6V337.18H39.6M39.6 337.61H33.8V338.05H39.6M39.6 338.48H33.7V338.91H39.6M33.8 337.83H33.2V338.69H33.7M31.6 336.86H31.3V338.26H33.2M39.6 339.34H30.3V339.77H39.6M31.3 337.56H29.9V339.56H30.3M29.9 335.24H29.5V338.56H29.9M39.6 340.64H32.3V341.07H39.6M39.6 340.21H30.9V340.85H32.3M30.9 340.53H29.7V341.50H39.6M39.6 341.93H29.6V342.37H39.6M39.6 343.23H31.7V343.66H39.6M39.6 342.80H31.4V343.45H31.7M31.4 343.12H31.0V344.09H39.6M29.6 342.15H28.7V343.61H31.0M29.7 341.02H27.3V342.88H28.7M29.5 336.90H26.5V341.95H27.3M39.6 344.96H28.5V345.39H39.6M39.6 345.82H30.2V346.25H39.6M28.5 345.17H27.9V346.04H30.2M39.6 344.53H25.9V345.61H27.9M26.5 339.42H23.7V345.07H25.9M23.7 342.24H23.0V346.69H39.6M23.8 325.48H21.6V344.47H23.0M22.0 268.54H19.7V334.97H21.6M39.6 347.55H30.2V347.98H39.6M39.6 347.12H29.2V347.77H30.2M29.2 347.44H28.4V348.41H39.6M39.6 348.85H28.7V349.28H39.6M39.6 349.71H30.9V350.14H39.6M28.7 349.06H28.3V349.93H30.9M28.4 347.93H25.9V349.49H28.3M39.6 350.57H29.8V351.01H39.6M39.6 351.44H29.0V351.87H39.6M39.6 352.30H30.8V352.73H39.6M29.0 351.65H28.5V352.52H30.8M29.8 350.79H26.9V352.09H28.5M25.9 348.71H25.2V351.44H26.9M39.6 353.60H29.8V354.03H39.6M29.8 353.82H26.8V354.46H39.6M39.6 353.17H23.8V354.14H26.8M39.6 354.90H24.8V355.33H39.6M23.8 353.65H23.2V355.11H24.8M25.2 350.08H21.3V354.38H23.2M39.6 355.76H26.4V356.19H39.6M39.6 356.62H24.9V357.06H39.6M26.4 355.98H24.1V356.84H24.9M21.3 352.23H20.5V356.41H24.1M39.6 357.49H27.7V357.92H39.6M27.7 357.70H26.2V358.35H39.6M39.6 358.78H27.3V359.22H39.6M39.6 359.65H26.9V360.08H39.6M27.3 359.00H25.5V359.86H26.9M26.2 358.03H24.3V359.43H25.5M39.6 360.51H28.5V360.94H39.6M39.6 361.38H30.4V361.81H39.6M30.4 361.59H29.2V362.24H39.6M28.5 360.73H27.0V361.92H29.2M39.6 362.67H28.0V363.10H39.6M27.0 361.32H25.3V362.89H28.0M24.3 358.73H21.4V362.11H25.3M39.6 363.54H27.9V363.97H39.6M39.6 364.83H30.8V365.26H39.6M30.8 365.05H30.4V365.70H39.6M39.6 364.40H28.0V365.37H30.4M27.9 363.75H26.4V364.89H28.0M39.6 366.13H29.7V366.56H39.6M29.7 366.34H28.5V366.99H39.6M39.6 367.42H30.6V367.86H39.6M39.6 368.72H32.3V369.15H39.6M39.6 368.29H30.5V368.94H32.3M30.6 367.64H30.2V368.61H30.5M28.5 366.67H27.3V368.13H30.2M39.6 369.59H30.0V370.02H39.6M27.3 367.40H26.8V369.80H30.0M26.4 364.32H25.2V368.60H26.8M39.6 370.88H29.3V371.31H39.6M39.6 370.45H28.4V371.10H29.3M39.6 371.75H27.0V372.18H39.6M28.4 370.77H24.6V371.96H27.0M25.2 366.46H23.7V371.37H24.6M21.4 360.42H20.4V368.91H23.7M39.6 372.61H33.2V373.04H39.6M33.2 372.83H32.5V373.47H39.6M32.5 373.15H31.4V373.91H39.6M39.6 374.77H31.3V375.20H39.6M39.6 374.34H30.5V374.99H31.3M31.4 373.53H30.1V374.66H30.5M39.6 375.63H30.0V376.07H39.6M30.0 375.85H29.4V376.50H39.6M30.1 374.09H28.2V376.17H29.4M39.6 376.93H30.4V377.36H39.6M30.4 377.15H29.5V377.79H39.6M39.6 378.23H30.3V378.66H39.6M29.5 377.47H28.4V378.44H30.3M28.2 375.13H26.8V377.96H28.4M39.6 379.09H28.7V379.52H39.6M39.6 379.95H30.5V380.39H39.6M30.5 380.17H30.2V380.82H39.6M28.7 379.31H28.2V380.49H30.2M39.6 381.68H30.6V382.11H39.6M39.6 381.25H29.2V381.90H30.6M39.6 382.55H30.0V382.98H39.6M39.6 383.41H31.4V383.84H39.6M31.4 383.63H29.8V384.27H39.6M30.0 382.76H29.0V383.95H29.8M29.2 381.57H27.0V383.36H29.0M28.2 379.90H25.4V382.47H27.0M26.8 376.55H23.8V381.18H25.4M20.4 364.67H18.7V378.86H23.8M39.6 385.14H31.0V385.57H39.6M39.6 386.00H30.5V386.44H39.6M31.0 385.36H29.2V386.22H30.5M39.6 384.71H26.2V385.79H29.2M39.6 386.87H27.5V387.30H39.6M39.6 387.73H28.2V388.16H39.6M39.6 388.60H29.9V389.03H39.6M29.9 388.81H29.5V389.46H39.6M28.2 387.95H26.9V389.14H29.5M27.5 387.08H24.6V388.54H26.9M26.2 385.25H24.0V387.81H24.6M39.6 389.89H26.6V390.32H39.6M26.6 390.11H24.0V390.76H39.6M39.6 391.19H28.7V391.62H39.6M39.6 392.05H26.2V392.48H39.6M28.7 391.40H25.2V392.27H26.2M24.0 390.43H21.3V391.84H25.2M24.0 386.53H19.3V391.13H21.3M18.7 371.76H17.3V388.83H19.3M20.5 354.32H16.3V380.30H17.3M19.7 301.75H15.0V367.31H16.3" fill="none" stroke="#000" stroke-width="0.65"/>
<text x="91.35" y="402.45" font-size="6.8" text-anchor="middle" textLength="17.30" lengthAdjust="spacingAndGlyphs">labels</text>
<rect x="32" y="407" width="5.5" height="5.4" fill="#6fa6d6"/>
<text x="67.60" y="412.25" font-size="6.8" text-anchor="middle" textLength="53.20" lengthAdjust="spacingAndGlyphs">EMR achievement</text>
<rect x="105.8" y="407" width="6.2" height="5.6" fill="#a52a3c"/>
<text x="131.20" y="412.05" font-size="6.8" text-anchor="middle" textLength="33.60" lengthAdjust="spacingAndGlyphs">EMR failure</text>
<text x="216.20" y="213.00" font-size="10">D</text>
<text x="298.40" y="227.23" font-size="6.2" text-anchor="middle" textLength="13.80" lengthAdjust="spacingAndGlyphs">GSEA</text>
<rect x="224.3" y="234.7" width="280" height="55.7" fill="#cbcadb"/>
<rect x="224.3" y="290.4" width="280" height="61.2" fill="#e6c9bd"/>
<rect x="224.3" y="351.6" width="280" height="41.6" fill="#e1e2ce"/>
<text x="405.90" y="222.23" font-size="6.2" text-anchor="middle" textLength="40.80" lengthAdjust="spacingAndGlyphs">Increase in EMR</text>
<text x="405.65" y="229.23" font-size="6.2" text-anchor="middle" textLength="33.70" lengthAdjust="spacingAndGlyphs">achievement</text>
<text x="474.40" y="222.23" font-size="6.2" text-anchor="middle" textLength="40.20" lengthAdjust="spacingAndGlyphs">Increase in EMR</text>
<text x="474.15" y="229.23" font-size="6.2" text-anchor="middle" textLength="16.70" lengthAdjust="spacingAndGlyphs">failure</text>
<path d="M439.2,231 H374.5" stroke="#222" stroke-width="0.9" fill="none"/>
<path d="M372.6,231 L377.5,228.6 L376.6,231 L377.5,233.4 Z" fill="#222"/>
<path d="M444.4,231 H502.6" stroke="#222" stroke-width="0.9" fill="none"/>
<path d="M504.4,231 L499.5,228.6 L500.4,231 L499.5,233.4 Z" fill="#222"/>
<rect x="442.00" y="235.55" width="29.90" height="3.1" fill="#3e5b86"/>
<line x1="370.2" y1="237.10" x2="373.1" y2="237.10" stroke="#222" stroke-width="0.8"/>
<text x="367.20" y="238.50" font-size="3.9" text-anchor="end" textLength="37.30" lengthAdjust="spacingAndGlyphs" fill="#262626" style="stroke:#262626;stroke-width:0px">REACTOME_S_PHASE</text>
<rect x="442.00" y="240.21" width="28.18" height="3.1" fill="#3e5b86"/>
<line x1="370.2" y1="241.76" x2="373.1" y2="241.76" stroke="#222" stroke-width="0.8"/>
<text x="367.20" y="243.16" font-size="3.9" text-anchor="end" textLength="57.90" lengthAdjust="spacingAndGlyphs" fill="#262626" style="stroke:#262626;stroke-width:0px">REACTOME_SYNTHESIS_OF_DNA</text>
<rect x="442.00" y="244.86" width="28.75" height="3.1" fill="#3e5b86"/>
<line x1="370.2" y1="246.41" x2="373.1" y2="246.41" stroke="#222" stroke-width="0.8"/>
<text x="367.20" y="247.81" font-size="3.9" text-anchor="end" textLength="43.30" lengthAdjust="spacingAndGlyphs" fill="#262626" style="stroke:#262626;stroke-width:0px">REACTOME_CELL_CYCLE</text>
<rect x="442.00" y="249.52" width="27.37" height="3.1" fill="#3e5b86"/>
<line x1="370.2" y1="251.07" x2="373.1" y2="251.07" stroke="#222" stroke-width="0.8"/>
<text x="367.20" y="252.47" font-size="3.9" text-anchor="end" textLength="69.90" lengthAdjust="spacingAndGlyphs" fill="#262626" style="stroke:#262626;stroke-width:0px">REACTOME_CELL_CYCLE_CHECKPOINTS</text>
<rect x="442.00" y="254.17" width="26.22" height="3.1" fill="#3e5b86"/>
<line x1="370.2" y1="255.72" x2="373.1" y2="255.72" stroke="#222" stroke-width="0.8"/>
<text x="367.20" y="257.12" font-size="3.9" text-anchor="end" textLength="50.00" lengthAdjust="spacingAndGlyphs" fill="#262626" style="stroke:#262626;stroke-width:0px">DANG_REGULATED_BY_MYC</text>
<rect x="442.00" y="258.83" width="25.64" height="3.1" fill="#3e5b86"/>
<line x1="370.2" y1="260.38" x2="373.1" y2="260.38" stroke="#222" stroke-width="0.8"/>
<text x="367.20" y="261.78" font-size="3.9" text-anchor="end" textLength="37.80" lengthAdjust="spacingAndGlyphs" fill="#262626" style="stroke:#262626;stroke-width:0px">REN_BOUND_BY_E2F</text>
<rect x="442.00" y="263.49" width="26.80" height="3.1" fill="#3e5b86"/>
<line x1="370.2" y1="265.04" x2="373.1" y2="265.04" stroke="#222" stroke-width="0.8"/>
<text x="367.20" y="266.44" font-size="3.9" text-anchor="end" textLength="90.30" lengthAdjust="spacingAndGlyphs" fill="#262626" style="stroke:#262626;stroke-width:0px">GRAHAM_CML_DIVIDING_VS_NORMAL_QUIESCENT</text>
<rect x="442.00" y="268.14" width="27.37" height="3.1" fill="#3e5b86"/>
<line x1="370.2" y1="269.69" x2="373.1" y2="269.69" stroke="#222" stroke-width="0.8"/>
<text x="367.20" y="271.09" font-size="3.9" text-anchor="end" textLength="54.80" lengthAdjust="spacingAndGlyphs" fill="#262626" style="stroke:#262626;stroke-width:0px">REACTOME_G1_S_TRANSITION</text>
<rect x="442.00" y="272.80" width="26.22" height="3.1" fill="#3e5b86"/>
<line x1="370.2" y1="274.35" x2="373.1" y2="274.35" stroke="#222" stroke-width="0.8"/>
<text x="367.20" y="275.75" font-size="3.9" text-anchor="end" textLength="54.00" lengthAdjust="spacingAndGlyphs" fill="#262626" style="stroke:#262626;stroke-width:0px">WHITFIELD_CELL_CYCLE_G1_S</text>
<rect x="442.00" y="277.45" width="25.64" height="3.1" fill="#3e5b86"/>
<line x1="370.2" y1="279.00" x2="373.1" y2="279.00" stroke="#222" stroke-width="0.8"/>
<text x="367.20" y="280.40" font-size="3.9" text-anchor="end" textLength="38.50" lengthAdjust="spacingAndGlyphs" fill="#262626" style="stroke:#262626;stroke-width:0px">ISHIDA_E2F_TARGETS</text>
<rect x="442.00" y="282.11" width="25.07" height="3.1" fill="#3e5b86"/>
<line x1="370.2" y1="283.66" x2="373.1" y2="283.66" stroke="#222" stroke-width="0.8"/>
<text x="367.20" y="285.06" font-size="3.9" text-anchor="end" textLength="69.00" lengthAdjust="spacingAndGlyphs" fill="#262626" style="stroke:#262626;stroke-width:0px">VERNELL_RETINOBLASTOMA_PATHWAY</text>
<rect x="442.00" y="286.77" width="24.15" height="3.1" fill="#3e5b86"/>
<line x1="370.2" y1="288.32" x2="373.1" y2="288.32" stroke="#222" stroke-width="0.8"/>
<text x="367.20" y="289.72" font-size="3.9" text-anchor="end" textLength="109.30" lengthAdjust="spacingAndGlyphs" fill="#262626" style="stroke:#262626;stroke-width:0px">REACTOME_SCF(SKP2)_MEDIATED_DEGRADATION_OF_P27_P21</text>
<rect x="442.00" y="291.42" width="30.82" height="3.1" fill="#a02a3c"/>
<line x1="370.2" y1="292.97" x2="373.1" y2="292.97" stroke="#222" stroke-width="0.8"/>
<text x="367.20" y="294.37" font-size="3.9" text-anchor="end" textLength="69.30" lengthAdjust="spacingAndGlyphs" fill="#262626" style="stroke:#262626;stroke-width:0px">JAATINEN_HEMATOPOIETIC_STEM_CELL</text>
<rect x="442.00" y="296.08" width="30.36" height="3.1" fill="#a02a3c"/>
<line x1="370.2" y1="297.63" x2="373.1" y2="297.63" stroke="#222" stroke-width="0.8"/>
<text x="367.20" y="299.03" font-size="3.9" text-anchor="end" textLength="68.30" lengthAdjust="spacingAndGlyphs" fill="#262626" style="stroke:#262626;stroke-width:0px">WONG_EMBRYONIC_STEM_CELL_CORE</text>
<rect x="442.00" y="300.73" width="29.90" height="3.1" fill="#a02a3c"/>
<line x1="370.2" y1="302.28" x2="373.1" y2="302.28" stroke="#222" stroke-width="0.8"/>
<text x="367.20" y="303.68" font-size="3.9" text-anchor="end" textLength="55.00" lengthAdjust="spacingAndGlyphs" fill="#262626" style="stroke:#262626;stroke-width:0px">SCHUHMACHER_MYC_TARGETS</text>
<rect x="442.00" y="305.39" width="25.64" height="3.1" fill="#a02a3c"/>
<line x1="370.2" y1="306.94" x2="373.1" y2="306.94" stroke="#222" stroke-width="0.8"/>
<text x="367.20" y="308.34" font-size="3.9" text-anchor="end" textLength="37.80" lengthAdjust="spacingAndGlyphs" fill="#262626" style="stroke:#262626;stroke-width:0px">DANG_MYC_TARGETS</text>
<rect x="442.00" y="310.05" width="23.34" height="3.1" fill="#a02a3c"/>
<line x1="370.2" y1="311.60" x2="373.1" y2="311.60" stroke="#222" stroke-width="0.8"/>
<text x="367.20" y="313.00" font-size="3.9" text-anchor="end" textLength="40.80" lengthAdjust="spacingAndGlyphs" fill="#262626" style="stroke:#262626;stroke-width:0px">COLLER_MYC_TARGETS</text>
<rect x="442.00" y="314.70" width="23.34" height="3.1" fill="#a02a3c"/>
<line x1="370.2" y1="316.25" x2="373.1" y2="316.25" stroke="#222" stroke-width="0.8"/>
<text x="367.20" y="317.65" font-size="3.9" text-anchor="end" textLength="43.80" lengthAdjust="spacingAndGlyphs" fill="#262626" style="stroke:#262626;stroke-width:0px">MENSSEN_MYC_TARGETS</text>
<rect x="442.00" y="319.36" width="24.15" height="3.1" fill="#a02a3c"/>
<line x1="370.2" y1="320.91" x2="373.1" y2="320.91" stroke="#222" stroke-width="0.8"/>
<text x="367.20" y="322.31" font-size="3.9" text-anchor="end" textLength="70.80" lengthAdjust="spacingAndGlyphs" fill="#262626" style="stroke:#262626;stroke-width:0px">HESS_TARGETS_OF_HOXA9_AND_MEIS1</text>
<rect x="442.00" y="324.01" width="23.80" height="3.1" fill="#a02a3c"/>
<line x1="370.2" y1="325.56" x2="373.1" y2="325.56" stroke="#222" stroke-width="0.8"/>
<text x="367.20" y="326.96" font-size="3.9" text-anchor="end" textLength="42.80" lengthAdjust="spacingAndGlyphs" fill="#262626" style="stroke:#262626;stroke-width:0px">FEVR_CTNNB1_TARGETS</text>
<rect x="442.00" y="328.67" width="23.23" height="3.1" fill="#a02a3c"/>
<line x1="370.2" y1="330.22" x2="373.1" y2="330.22" stroke="#222" stroke-width="0.8"/>
<text x="367.20" y="331.62" font-size="3.9" text-anchor="end" textLength="73.00" lengthAdjust="spacingAndGlyphs" fill="#262626" style="stroke:#262626;stroke-width:0px">BHATTACHARYA_EMBRYONIC_STEM_CELL</text>
<rect x="442.00" y="333.33" width="20.24" height="3.1" fill="#a02a3c"/>
<line x1="370.2" y1="334.88" x2="373.1" y2="334.88" stroke="#222" stroke-width="0.8"/>
<text x="367.20" y="336.28" font-size="3.9" text-anchor="end" textLength="39.00" lengthAdjust="spacingAndGlyphs" fill="#262626" style="stroke:#262626;stroke-width:0px">RAMALHO_STEMNESS</text>
<rect x="442.00" y="337.98" width="21.16" height="3.1" fill="#a02a3c"/>
<line x1="370.2" y1="339.53" x2="373.1" y2="339.53" stroke="#222" stroke-width="0.8"/>
<text x="367.20" y="340.93" font-size="3.9" text-anchor="end" textLength="57.50" lengthAdjust="spacingAndGlyphs" fill="#262626" style="stroke:#262626;stroke-width:0px">REACTOME_SIGNALING_BY_WNT</text>
<rect x="442.00" y="342.64" width="19.32" height="3.1" fill="#a02a3c"/>
<line x1="370.2" y1="344.19" x2="373.1" y2="344.19" stroke="#222" stroke-width="0.8"/>
<text x="367.20" y="345.59" font-size="3.9" text-anchor="end" textLength="32.00" lengthAdjust="spacingAndGlyphs" fill="#262626" style="stroke:#262626;stroke-width:0px">BENPORATH_ES_1</text>
<rect x="442.00" y="347.29" width="18.63" height="3.1" fill="#a02a3c"/>
<line x1="370.2" y1="348.84" x2="373.1" y2="348.84" stroke="#222" stroke-width="0.8"/>
<text x="367.20" y="350.24" font-size="3.9" text-anchor="end" textLength="55.00" lengthAdjust="spacingAndGlyphs" fill="#262626" style="stroke:#262626;stroke-width:0px">BEIER_GLIOMA_STEM_CELL_UP</text>
<rect x="418.03" y="351.95" width="23.57" height="3.1" fill="#6ca655"/>
<line x1="370.2" y1="353.50" x2="373.1" y2="353.50" stroke="#222" stroke-width="0.8"/>
<text x="367.20" y="354.90" font-size="3.9" text-anchor="end" textLength="45.70" lengthAdjust="spacingAndGlyphs" fill="#262626" style="stroke:#262626;stroke-width:0px">BIOCARTA_NKT_PATHWAY</text>
<rect x="419.41" y="356.61" width="22.20" height="3.1" fill="#6ca655"/>
<line x1="370.2" y1="358.16" x2="373.1" y2="358.16" stroke="#222" stroke-width="0.8"/>
<text x="367.20" y="359.56" font-size="3.9" text-anchor="end" textLength="36.50" lengthAdjust="spacingAndGlyphs" fill="#262626" style="stroke:#262626;stroke-width:0px">PID_IL12_2PATHWAY</text>
<rect x="419.75" y="361.26" width="21.85" height="3.1" fill="#6ca655"/>
<line x1="370.2" y1="362.81" x2="373.1" y2="362.81" stroke="#222" stroke-width="0.8"/>
<text x="367.20" y="364.21" font-size="3.9" text-anchor="end" textLength="47.00" lengthAdjust="spacingAndGlyphs" fill="#262626" style="stroke:#262626;stroke-width:0px">MOSERLE_IFNA_RESPONSE</text>
<rect x="420.10" y="365.92" width="21.51" height="3.1" fill="#6ca655"/>
<line x1="370.2" y1="367.47" x2="373.1" y2="367.47" stroke="#222" stroke-width="0.8"/>
<text x="367.20" y="368.87" font-size="3.9" text-anchor="end" textLength="61.20" lengthAdjust="spacingAndGlyphs" fill="#262626" style="stroke:#262626;stroke-width:0px">BOSCO_TH1_CYTOTOXIC_MODULE</text>
<rect x="420.10" y="370.57" width="21.51" height="3.1" fill="#6ca655"/>
<line x1="370.2" y1="372.12" x2="373.1" y2="372.12" stroke="#222" stroke-width="0.8"/>
<text x="367.20" y="373.52" font-size="3.9" text-anchor="end" textLength="66.20" lengthAdjust="spacingAndGlyphs" fill="#262626" style="stroke:#262626;stroke-width:0px">SEKI_INFLAMMATORY_RESPONSE_LPS</text>
<rect x="420.10" y="375.23" width="21.51" height="3.1" fill="#6ca655"/>
<line x1="370.2" y1="376.78" x2="373.1" y2="376.78" stroke="#222" stroke-width="0.8"/>
<text x="367.20" y="378.18" font-size="3.9" text-anchor="end" textLength="49.50" lengthAdjust="spacingAndGlyphs" fill="#262626" style="stroke:#262626;stroke-width:0px">BIOCARTA_CTLA4_PATHWAY</text>
<rect x="420.10" y="379.89" width="21.51" height="3.1" fill="#6ca655"/>
<line x1="370.2" y1="381.44" x2="373.1" y2="381.44" stroke="#222" stroke-width="0.8"/>
<text x="367.20" y="382.84" font-size="3.9" text-anchor="end" textLength="34.00" lengthAdjust="spacingAndGlyphs" fill="#262626" style="stroke:#262626;stroke-width:0px">PID_IL23_PATHWAY</text>
<rect x="420.10" y="384.54" width="21.51" height="3.1" fill="#6ca655"/>
<line x1="370.2" y1="386.09" x2="373.1" y2="386.09" stroke="#222" stroke-width="0.8"/>
<text x="367.20" y="387.49" font-size="3.9" text-anchor="end" textLength="45.70" lengthAdjust="spacingAndGlyphs" fill="#262626" style="stroke:#262626;stroke-width:0px">BIOCARTA_IL12_PATHWAY</text>
<rect x="420.10" y="389.20" width="21.51" height="3.1" fill="#6ca655"/>
<line x1="370.2" y1="390.75" x2="373.1" y2="390.75" stroke="#222" stroke-width="0.8"/>
<text x="367.20" y="392.15" font-size="3.9" text-anchor="end" textLength="117.50" lengthAdjust="spacingAndGlyphs" fill="#262626" style="stroke:#262626;stroke-width:0px">REACTOME_PHOSPHORYLATION_OF_CD3_AND_TCR_ZETA_CHAINS</text>
<line x1="373.1" y1="234" x2="373.1" y2="395.3" stroke="#222" stroke-width="1"/>
<line x1="441.6" y1="234" x2="441.6" y2="395.3" stroke="#222" stroke-width="0.9"/>
<line x1="372.3" y1="394.8" x2="510.8" y2="394.8" stroke="#222" stroke-width="1"/>
<line x1="372.60" y1="394.8" x2="372.60" y2="396.8" stroke="#222" stroke-width="0.8"/>
<text x="372.60" y="401.60" font-size="4.2" text-anchor="middle" fill="#444" style="stroke:#444">-6</text>
<line x1="384.10" y1="394.8" x2="384.10" y2="396.8" stroke="#222" stroke-width="0.8"/>
<text x="384.10" y="401.60" font-size="4.2" text-anchor="middle" fill="#444" style="stroke:#444">-5</text>
<line x1="395.60" y1="394.8" x2="395.60" y2="396.8" stroke="#222" stroke-width="0.8"/>
<text x="395.60" y="401.60" font-size="4.2" text-anchor="middle" fill="#444" style="stroke:#444">-4</text>
<line x1="407.10" y1="394.8" x2="407.10" y2="396.8" stroke="#222" stroke-width="0.8"/>
<text x="407.10" y="401.60" font-size="4.2" text-anchor="middle" fill="#444" style="stroke:#444">-3</text>
<line x1="418.60" y1="394.8" x2="418.60" y2="396.8" stroke="#222" stroke-width="0.8"/>
<text x="418.60" y="401.60" font-size="4.2" text-anchor="middle" fill="#444" style="stroke:#444">-2</text>
<line x1="430.10" y1="394.8" x2="430.10" y2="396.8" stroke="#222" stroke-width="0.8"/>
<text x="430.10" y="401.60" font-size="4.2" text-anchor="middle" fill="#444" style="stroke:#444">-1</text>
<line x1="441.60" y1="394.8" x2="441.60" y2="396.8" stroke="#222" stroke-width="0.8"/>
<text x="441.60" y="401.60" font-size="4.2" text-anchor="middle" fill="#444" style="stroke:#444">0</text>
<line x1="453.10" y1="394.8" x2="453.10" y2="396.8" stroke="#222" stroke-width="0.8"/>
<text x="453.10" y="401.60" font-size="4.2" text-anchor="middle" fill="#444" style="stroke:#444">1</text>
<line x1="464.60" y1="394.8" x2="464.60" y2="396.8" stroke="#222" stroke-width="0.8"/>
<text x="464.60" y="401.60" font-size="4.2" text-anchor="middle" fill="#444" style="stroke:#444">2</text>
<line x1="476.10" y1="394.8" x2="476.10" y2="396.8" stroke="#222" stroke-width="0.8"/>
<text x="476.10" y="401.60" font-size="4.2" text-anchor="middle" fill="#444" style="stroke:#444">3</text>
<line x1="487.60" y1="394.8" x2="487.60" y2="396.8" stroke="#222" stroke-width="0.8"/>
<text x="487.60" y="401.60" font-size="4.2" text-anchor="middle" fill="#444" style="stroke:#444">4</text>
<line x1="499.10" y1="394.8" x2="499.10" y2="396.8" stroke="#222" stroke-width="0.8"/>
<text x="499.10" y="401.60" font-size="4.2" text-anchor="middle" fill="#444" style="stroke:#444">5</text>
<line x1="510.60" y1="394.8" x2="510.60" y2="396.8" stroke="#222" stroke-width="0.8"/>
<text x="510.60" y="401.60" font-size="4.2" text-anchor="middle" fill="#444" style="stroke:#444">6</text>
<text x="443.05" y="411.65" font-size="5.7" text-anchor="middle" textLength="91.10" lengthAdjust="spacingAndGlyphs">Normalized enrichment score (NES)</text>
<text x="396.45" y="263.62" font-size="5.6" text-anchor="middle" textLength="29.30" lengthAdjust="spacingAndGlyphs">FDR q&lt;0.05</text>
<text x="489.35" y="263.79" font-size="5.8" text-anchor="middle" textLength="24.30" lengthAdjust="spacingAndGlyphs">Cell cycle</text>
<text x="489.50" y="324.29" font-size="5.8" text-anchor="middle" textLength="23.00" lengthAdjust="spacingAndGlyphs">Stem cell</text>
<text x="378.90" y="367.30" font-size="6.1" textLength="21.30" lengthAdjust="spacingAndGlyphs">Immune</text>
<text x="378.90" y="374.60" font-size="6.1" textLength="34.20" lengthAdjust="spacingAndGlyphs">response/T-</text>
<text x="378.90" y="382.10" font-size="6.1" textLength="30.90" lengthAdjust="spacingAndGlyphs">lymphocyte</text>
<text x="7.00" y="438.30" font-size="10">E</text>
<rect x="74" y="433" width="100.4" height="26" fill="#e2e4ee"/>
<text x="124.10" y="443.17" font-size="8.8" text-anchor="middle" textLength="86.20" lengthAdjust="spacingAndGlyphs">Differential cell counts</text>
<text x="124.50" y="454.47" font-size="8.8" text-anchor="middle" textLength="31.00" lengthAdjust="spacingAndGlyphs">Blasts %</text>
<text x="124.20" y="473.39" font-size="7.2" text-anchor="middle" textLength="30.40" lengthAdjust="spacingAndGlyphs">p=0.0048</text>
<line x1="82.4" y1="518.5799999999999" x2="82.4" y2="573.3" stroke="#222" stroke-width="1"/>
<line x1="71.15" y1="518.5799999999999" x2="93.65" y2="518.5799999999999" stroke="#222" stroke-width="1"/>
<rect x="55.5" y="554.1479999999999" width="53.8" height="19.152000000000044" fill="#a13542"/>
<line x1="55.5" y1="559.62" x2="109.3" y2="559.62" stroke="#58232a" stroke-width="1.2"/>
<line x1="168.65" y1="532.944" x2="168.65" y2="573.3" stroke="#222" stroke-width="1"/>
<line x1="157.35" y1="532.944" x2="179.95000000000002" y2="532.944" stroke="#222" stroke-width="1"/>
<rect x="142" y="567.144" width="53.30000000000001" height="6.155999999999949" fill="#a13542"/>
<circle cx="168.3" cy="478.1" r="2.4" fill="#111"/>
<circle cx="168.3" cy="505.4" r="2.4" fill="#111"/>
<circle cx="168.3" cy="525.5" r="2.4" fill="#111"/>
<circle cx="168.3" cy="532.4" r="2.4" fill="#111"/>
<path d="M34.5,468 V573.3 H213" fill="none" stroke="#222" stroke-width="1.3"/>
<line x1="30.5" y1="573.30" x2="34.5" y2="573.30" stroke="#222" stroke-width="1"/>
<text x="29.30" y="575.80" font-size="7.0" text-anchor="end">0</text>
<line x1="30.5" y1="539.10" x2="34.5" y2="539.10" stroke="#222" stroke-width="1"/>
<text x="29.30" y="541.60" font-size="7.0" text-anchor="end">5</text>
<line x1="30.5" y1="504.90" x2="34.5" y2="504.90" stroke="#222" stroke-width="1"/>
<text x="29.30" y="507.40" font-size="7.0" text-anchor="end">10</text>
<line x1="30.5" y1="470.70" x2="34.5" y2="470.70" stroke="#222" stroke-width="1"/>
<text x="29.30" y="473.20" font-size="7.0" text-anchor="end">15</text>
<line x1="82.4" y1="573.3" x2="82.4" y2="576.5" stroke="#222" stroke-width="1"/>
<line x1="168.6" y1="573.3" x2="168.6" y2="576.5" stroke="#222" stroke-width="1"/>
<text x="82.15" y="585.86" font-size="7.1" text-anchor="middle" textLength="59.30" lengthAdjust="spacingAndGlyphs">EMR failure (n=11)</text>
<text x="168.65" y="585.86" font-size="7.1" text-anchor="middle" textLength="80.50" lengthAdjust="spacingAndGlyphs">EMR achievement (n=80)</text>
<g transform="translate(12,520.5) rotate(-90)">
<text x="0.00" y="3.40" font-size="9.6" text-anchor="middle" textLength="29.00" lengthAdjust="spacingAndGlyphs">Blasts%</text>
</g>
<text x="216.30" y="438.00" font-size="10">F</text>
<rect x="285.6" y="433" width="100.7" height="26" fill="#e2e4ee"/>
<text x="335.95" y="443.17" font-size="8.8" text-anchor="middle" textLength="86.10" lengthAdjust="spacingAndGlyphs">Differential cell counts</text>
<text x="335.95" y="454.47" font-size="8.8" text-anchor="middle" textLength="60.90" lengthAdjust="spacingAndGlyphs">Lymphocytes %</text>
<text x="336.00" y="473.39" font-size="7.2" text-anchor="middle" textLength="29.60" lengthAdjust="spacingAndGlyphs">p=0.0046</text>
<line x1="296.55" y1="531" x2="296.55" y2="570.8" stroke="#222" stroke-width="1"/>
<line x1="286.3" y1="531" x2="306.8" y2="531" stroke="#222" stroke-width="1"/>
<rect x="271.3" y="554.5" width="50.5" height="13.0" fill="#a13542"/>
<line x1="271.3" y1="560" x2="321.8" y2="560" stroke="#58232a" stroke-width="1.2"/>
<line x1="286.3" y1="570.8" x2="306.8" y2="570.8" stroke="#222" stroke-width="1"/>
<line x1="378.55" y1="505.8" x2="378.55" y2="570" stroke="#222" stroke-width="1"/>
<line x1="368.15000000000003" y1="505.8" x2="388.95" y2="505.8" stroke="#222" stroke-width="1"/>
<rect x="353.3" y="527" width="50.5" height="29.5" fill="#a13542"/>
<line x1="353.3" y1="547.8" x2="403.8" y2="547.8" stroke="#58232a" stroke-width="1.2"/>
<circle cx="378.3" cy="489.3" r="2.4" fill="#111"/>
<circle cx="378.3" cy="496.8" r="2.4" fill="#111"/>
<circle cx="376.3" cy="505.3" r="2.4" fill="#111"/>
<circle cx="380.8" cy="505.3" r="2.4" fill="#111"/>
<circle cx="371.3" cy="570.5" r="2.4" fill="#111"/>
<circle cx="376.3" cy="573.6" r="2.4" fill="#111"/>
<circle cx="381.3" cy="570.5" r="2.4" fill="#111"/>
<circle cx="386.3" cy="570.5" r="2.4" fill="#111"/>
<circle cx="374" cy="571.5" r="2.4" fill="#111"/>
<path d="M251.3,467 V573.3 H420" fill="none" stroke="#222" stroke-width="1.3"/>
<line x1="247.5" y1="573.30" x2="251.3" y2="573.30" stroke="#222" stroke-width="1"/>
<text x="246.00" y="575.80" font-size="7.0" text-anchor="end">0</text>
<line x1="247.5" y1="547.05" x2="251.3" y2="547.05" stroke="#222" stroke-width="1"/>
<text x="246.00" y="549.55" font-size="7.0" text-anchor="end">10</text>
<line x1="247.5" y1="520.80" x2="251.3" y2="520.80" stroke="#222" stroke-width="1"/>
<text x="246.00" y="523.30" font-size="7.0" text-anchor="end">20</text>
<line x1="247.5" y1="494.55" x2="251.3" y2="494.55" stroke="#222" stroke-width="1"/>
<text x="246.00" y="497.05" font-size="7.0" text-anchor="end">30</text>
<line x1="247.5" y1="468.30" x2="251.3" y2="468.30" stroke="#222" stroke-width="1"/>
<text x="246.00" y="470.80" font-size="7.0" text-anchor="end">40</text>
<line x1="296.5" y1="573.3" x2="296.5" y2="576.5" stroke="#222" stroke-width="1"/>
<line x1="378.3" y1="573.3" x2="378.3" y2="576.5" stroke="#222" stroke-width="1"/>
<text x="296.25" y="585.86" font-size="7.1" text-anchor="middle" textLength="57.50" lengthAdjust="spacingAndGlyphs">EMR failure(n=13)</text>
<text x="378.40" y="585.86" font-size="7.1" text-anchor="middle" textLength="80.80" lengthAdjust="spacingAndGlyphs">EMR achievement (n=81)</text>
<g transform="translate(228.3,519.5) rotate(-90)">
<text x="0.00" y="3.10" font-size="8.5" text-anchor="middle" textLength="60.00" lengthAdjust="spacingAndGlyphs">Lymphocytes%</text>
</g>
<rect x="0" y="0" width="520" height="1.5" fill="#3a3a3a"/>
<rect x="0" y="0" width="1.5" height="595" fill="#3a3a3a"/>
<rect x="518.5" y="0" width="1.5" height="595" fill="#3a3a3a"/>
<rect x="0" y="593" width="520" height="2" fill="#3a3a3a"/>
</svg></body></html>
